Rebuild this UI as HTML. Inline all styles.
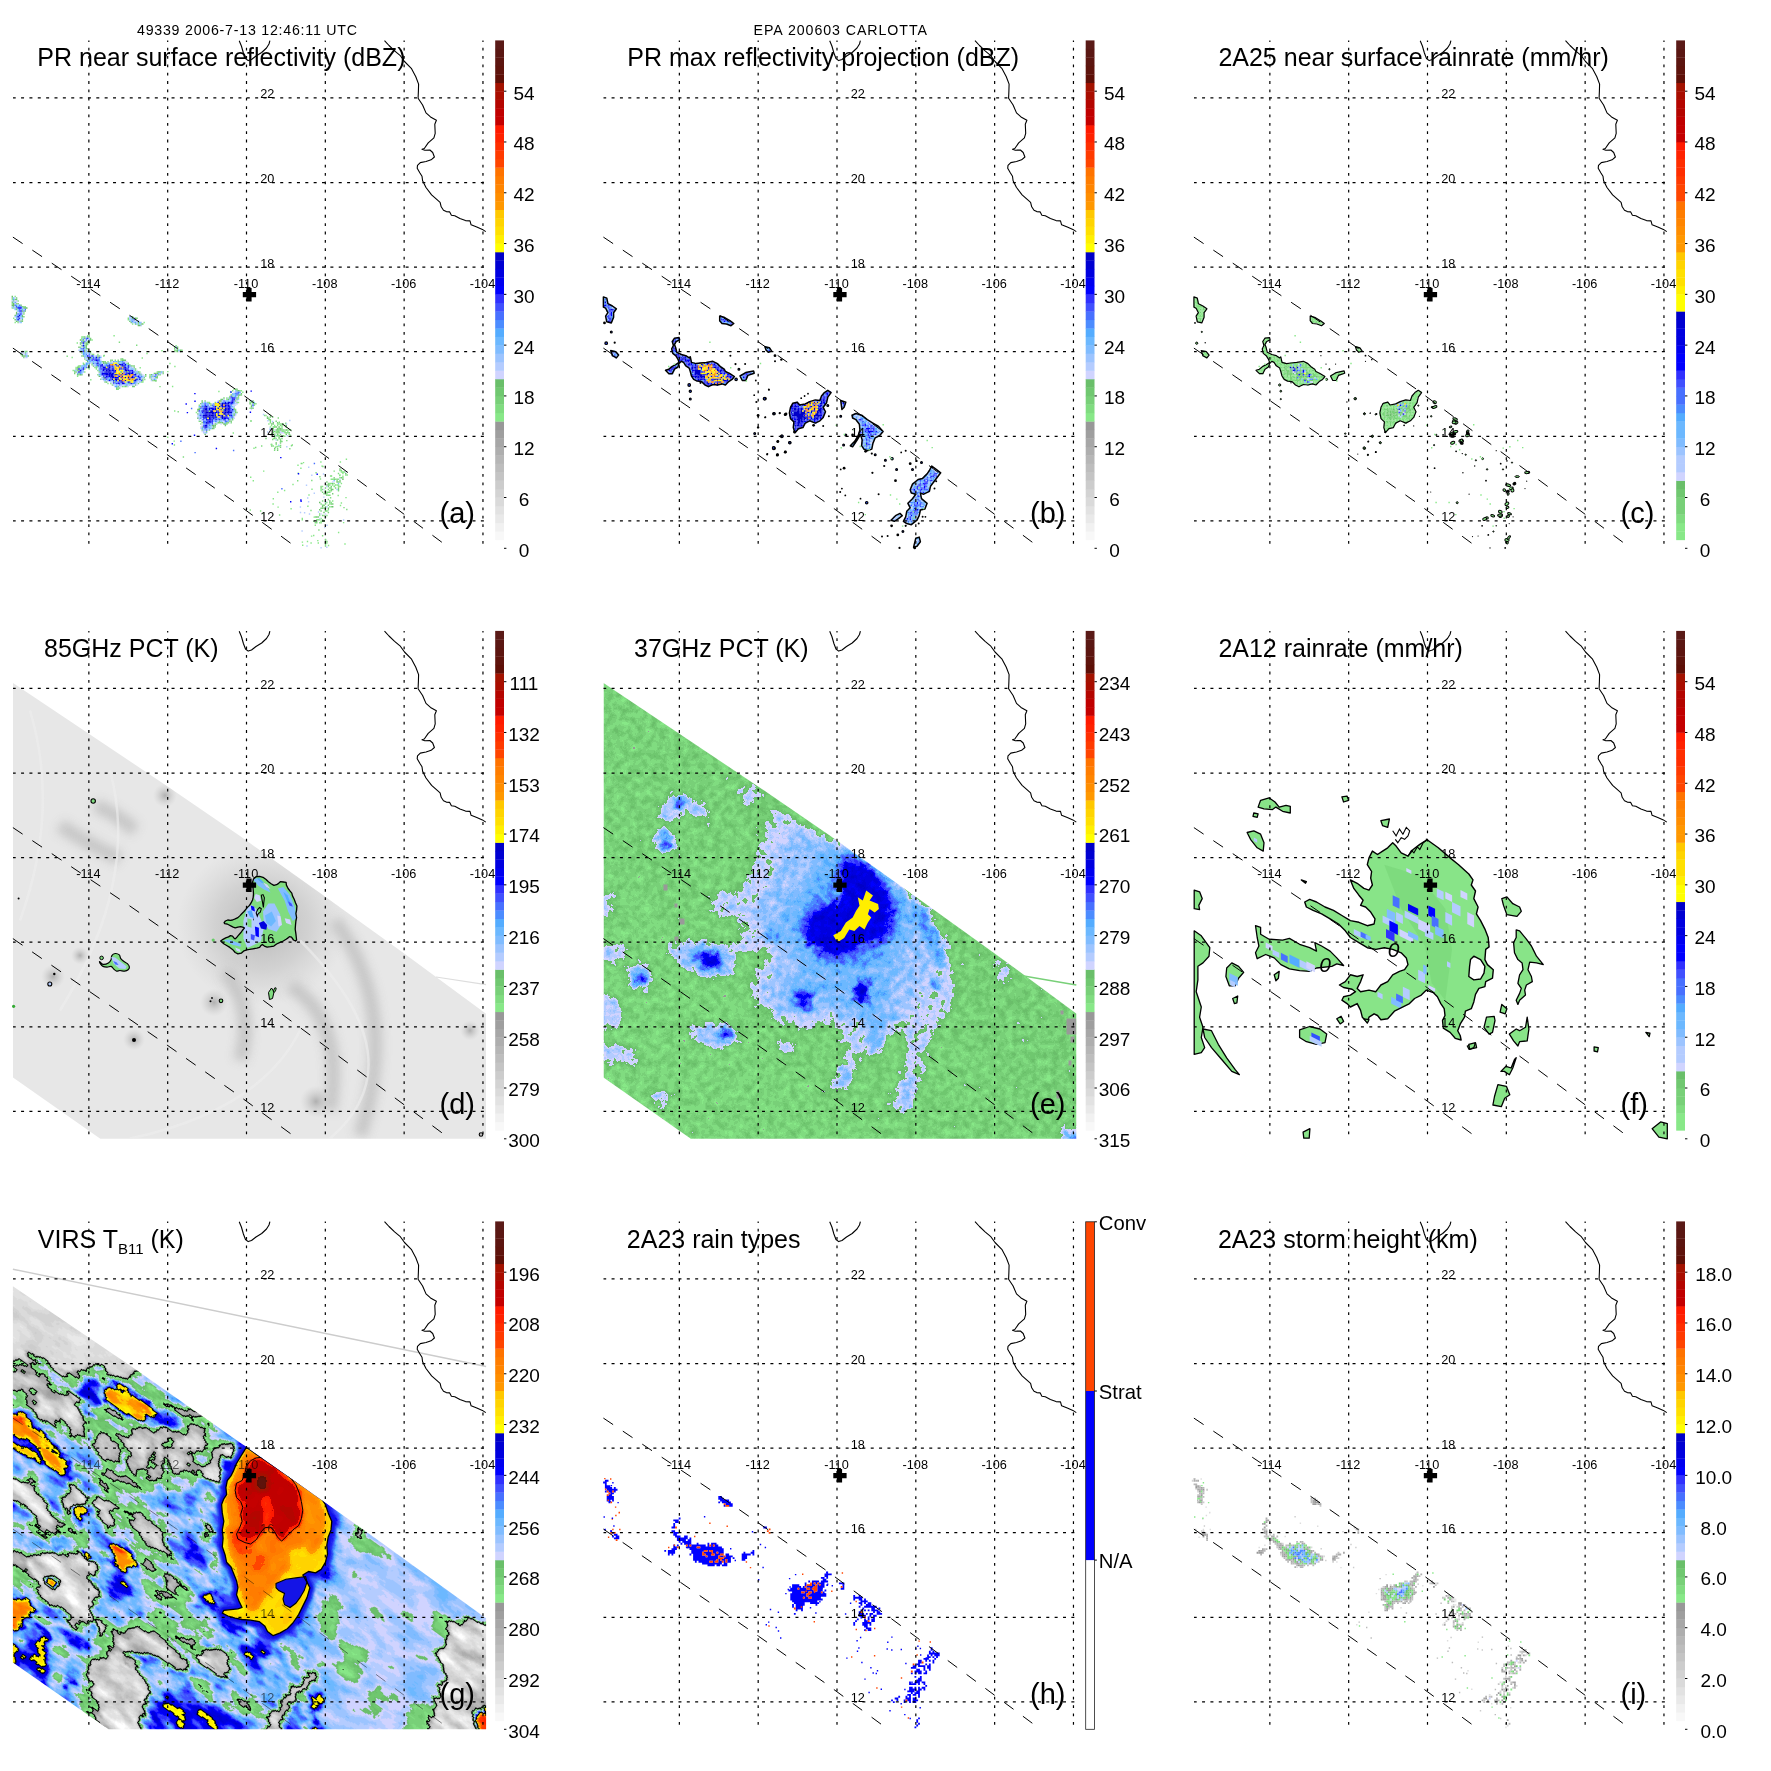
<!DOCTYPE html><html><head><meta charset="utf-8"><title>TRMM overpass</title><style>html,body{margin:0;padding:0;background:#fff}svg{display:block;opacity:0.999}text{font-family:"Liberation Sans",sans-serif;fill:#000}.tt{font-size:25px}.lt{font-size:29px}.tk{font-size:19px}.gl{font-size:12.7px}.hd{font-size:14.2px}</style></head><body><svg width="1771" height="1771" viewBox="0 0 1771 1771"><defs><g id="grid" fill="none" stroke="#000"><path d="M88.86 40.5V548.3M167.68 40.5V548.3M246.50 40.5V548.3M325.32 40.5V548.3M404.14 40.5V548.3M482.96 40.5V548.3" stroke-width="1.2" stroke-dasharray="2.8 5.56" stroke-dashoffset="1.2"/><path d="M13.0 97.94H486.0M13.0 182.52H486.0M13.0 267.10H486.0M13.0 351.68H486.0M13.0 436.26H486.0M13.0 520.84H486.0" stroke-width="1.25" stroke-dasharray="3.0 5.36" stroke-dashoffset="0.3"/></g><g id="coast" fill="none" stroke="#000" stroke-width="1.1" stroke-linejoin="round"><path d="M384.5 40.6L389 45.5L394.6 50.8L400 55.3L404.5 61.5L411.3 68.3L415.8 76.8L418.6 84.1L418.4 91L418.1 98.2L422.6 105L426 112.9L430.5 116.9L436.4 120.3L434.8 124.2L435.2 133.3L433.9 137.8L428.2 142.9L424.3 148.5L422 149.3L424.8 150.2L429.9 150L432.7 152.5L434.4 157L431.1 159.8L426 161.5L420.3 162.6L417.5 165.4L417.2 168.3L419.8 172.8L422 176.2L422.6 180.7L426 187.5L431.6 194.8L437.3 199.9L440.1 202.3L441.2 206.8L443.5 210.2L446.3 211.6L449.7 211.9L451.4 215.2L454.8 215.8L459.9 218.6L465.5 220.6L470 220.9L471.1 224.8L476.8 227.1L482.4 229.4L485.8 231.6"/><path d="M239.2 40.7L241.4 46L243.4 53L245.5 58.5L248.2 60.6L251.5 59.5L256 56L261.7 52.5L266.5 48L269 44L269.9 40.7"/></g><g id="swath" fill="none" stroke="#000" stroke-width="1" stroke-dasharray="11.7 11.7"><path d="M12.9 237.1L130 315.6L168 342L235.8 389.5L325.6 456L443.8 543.7"/><path d="M12.9 348.1L168 455.2L234.4 501.9L291.3 543.7"/></g><g id="labels"><text class="gl" text-anchor="middle" x="88.4" y="287.7">-114</text><text class="gl" text-anchor="middle" x="167.2" y="287.7">-112</text><text class="gl" text-anchor="middle" x="246.0" y="287.7">-110</text><text class="gl" text-anchor="middle" x="324.8" y="287.7">-108</text><text class="gl" text-anchor="middle" x="403.6" y="287.7">-106</text><text class="gl" text-anchor="middle" x="482.5" y="287.7">-104</text><text class="gl" x="260.2" y="98.3">22</text><text class="gl" x="260.2" y="182.9">20</text><text class="gl" x="260.2" y="267.5">18</text><text class="gl" x="260.2" y="352.1">16</text><text class="gl" x="260.2" y="436.7">14</text><text class="gl" x="260.2" y="521.2">12</text></g><path id="cross" d="M242.8 294.6h13.3M249 288v13.4" stroke="#000" stroke-width="5.2" fill="none"/></defs><rect width="1771" height="1771" fill="#fff"/><g transform="translate(0.0 0.0)"><path d="M87.0 335.7h1.4M81.2 337.1h2.9M81.2 340.0h1.4M91.4 340.0h1.4M87.0 341.5h1.4M88.5 342.9h1.4M79.8 344.4h1.4M79.8 347.3h1.4M81.2 353.1h1.4M89.9 353.1h1.4M97.2 354.5h1.4M98.6 356.0h1.4M103.0 356.0h1.4M84.1 358.9h1.4M120.4 360.3h1.4M107.3 361.8h1.4M82.7 363.2h1.4M91.4 363.2h1.4M126.2 363.2h1.4M129.1 364.7h1.4M132.0 366.1h1.4M75.4 367.6h1.4M95.7 367.6h1.4M88.5 369.0h1.4M95.7 369.0h1.4M72.5 370.5h1.4M134.9 370.5h1.4M84.1 371.9h1.4M139.2 371.9h1.4M140.7 374.8h1.4M76.9 376.3h1.4M145.0 376.3h1.4M140.7 382.1h2.9M107.3 383.5h1.4M123.3 386.4h1.4M117.5 387.9h1.4M233.4 389.3h1.4M240.7 390.8h1.4M230.5 392.2h1.4M242.1 392.2h1.4M229.1 396.6h1.4M232.0 396.6h1.4M237.8 396.6h1.4M226.2 398.0h1.4M226.2 399.5h1.4M208.8 402.4h1.4M237.8 402.4h1.4M210.2 403.8h1.4M198.6 405.3h1.4M195.7 412.5h1.4M200.1 424.1h1.4M216.0 424.1h1.4M214.6 427.0h1.4M265.3 415.4h1.4M268.2 424.1h1.4M276.9 424.1h4.3M274.0 425.6h1.4M281.3 425.6h1.4M269.7 427.0h1.4M281.3 427.0h1.4M284.2 429.9h1.4M288.5 429.9h1.4M272.6 431.4h1.4M275.5 431.4h1.4M281.3 431.4h2.9M287.1 431.4h1.4M276.9 432.8h1.4M284.2 432.8h2.9M282.7 435.7h1.4M274.0 437.2h1.4M272.6 438.6h1.4M275.5 438.6h1.4M275.5 444.4h1.4M272.6 445.9h1.4M278.4 445.9h1.4M340.7 472.0h4.3M342.2 473.4h1.4M339.3 474.9h1.4M345.1 474.9h1.4M342.2 476.3h1.4M330.6 479.2h2.9M334.9 479.2h1.4M337.8 479.2h1.4M329.1 483.6h2.9M333.5 483.6h1.4M340.7 483.6h1.4M332.0 485.0h1.4M336.4 485.0h2.9M321.9 486.5h1.4M333.5 486.5h1.4M337.8 486.5h1.4M320.4 489.4h1.4M320.4 490.8h1.4M324.8 490.8h1.4M329.1 490.8h1.4M324.8 492.3h1.4M332.0 501.0h1.4M326.2 502.4h1.4M330.6 502.4h1.4M329.1 503.9h1.4M324.8 506.8h1.4M329.1 506.8h1.4M323.3 508.2h1.4M319.0 515.5h1.4M326.2 515.5h1.4M320.4 518.4h1.4M316.1 519.8h4.3M319.0 522.7h1.4M301.6 518.4h1.4M301.6 519.8h1.4M127.6 319.7h1.4M143.5 322.6h1.4M131.9 324.1h1.4M175.4 345.8h1.4M174.0 347.3h1.4M174.0 350.2h1.4M175.4 351.6h1.4M149.3 374.8h1.4M249.4 400.9h1.4M250.8 402.4h1.4M253.7 405.3h1.4M249.4 408.2h1.4M14.5 296.5h1.4M11.6 299.4h1.4M11.6 303.8h1.4M24.6 306.7h1.4M11.6 308.1h1.4M23.2 312.5h1.4M13.0 318.3h1.4M14.5 322.6h1.4M24.6 351.6h1.4M326.2 543.0h1.4" stroke="#88e888" stroke-width="1.50" fill="none"/><path d="M88.5 335.7h1.4M81.2 338.6h1.4M87.0 344.4h1.4M82.7 347.3h1.4M87.0 348.7h1.4M89.9 351.6h1.4M91.4 354.5h2.9M121.8 358.9h1.4M85.6 360.3h1.4M111.7 360.3h1.4M114.6 360.3h1.4M110.2 361.8h1.4M91.4 364.7h1.4M78.3 366.1h2.9M87.0 367.6h1.4M94.3 367.6h1.4M84.1 369.0h1.4M76.9 370.5h1.4M97.2 370.5h1.4M74.0 371.9h1.4M78.3 374.8h1.4M97.2 374.8h1.4M100.1 379.2h1.4M110.2 383.5h1.4M111.7 385.0h1.4M121.8 386.4h1.4M126.2 386.4h1.4M116.0 389.3h2.9M232.0 390.8h1.4M240.7 395.1h1.4M214.6 402.4h1.4M234.9 409.6h1.4M198.6 421.2h2.9M229.1 421.2h1.4M227.6 422.7h1.4M230.5 422.7h1.4M263.9 415.4h1.4M269.7 415.4h1.4M268.2 418.3h1.4M268.2 419.8h2.9M269.7 421.2h1.4M269.7 422.7h1.4M272.6 424.1h1.4M282.7 424.1h1.4M276.9 425.6h1.4M279.8 425.6h1.4M272.6 427.0h2.9M271.1 428.5h1.4M281.3 428.5h1.4M272.6 429.9h1.4M282.7 429.9h1.4M287.1 429.9h1.4M290.0 429.9h1.4M276.9 431.4h2.9M284.2 431.4h1.4M275.5 432.8h1.4M287.1 432.8h1.4M275.5 435.7h1.4M281.3 435.7h1.4M278.4 437.2h1.4M278.4 438.6h1.4M276.9 440.1h1.4M279.8 441.5h2.9M271.1 444.4h1.4M261.0 445.9h1.4M276.9 448.8h1.4M339.3 470.5h1.4M337.8 473.4h1.4M346.5 474.9h1.4M333.5 477.8h1.4M339.3 477.8h1.4M342.2 477.8h1.4M336.4 480.7h1.4M337.8 482.1h1.4M327.7 483.6h1.4M329.1 485.0h1.4M334.9 485.0h1.4M329.1 487.9h2.9M321.9 489.4h1.4M330.6 490.8h1.4M337.8 490.8h1.4M326.2 492.3h4.3M323.3 493.7h1.4M326.2 493.7h1.4M327.7 495.2h2.9M321.9 501.0h1.4M320.4 503.9h1.4M321.9 505.3h1.4M330.6 506.8h1.4M327.7 509.7h1.4M324.8 511.1h2.9M319.0 514.0h1.4M323.3 515.5h1.4M314.6 516.9h1.4M324.8 516.9h1.4M316.1 521.3h1.4M320.4 521.3h1.4M314.6 522.7h2.9M320.4 522.7h1.4M127.6 318.3h1.4M137.7 324.1h1.4M156.6 371.9h1.4M159.5 374.8h1.4M152.2 376.3h1.4M150.8 379.2h1.4M255.2 403.8h1.4M250.8 405.3h1.4M17.4 300.9h1.4M15.9 303.8h1.4M13.0 306.7h1.4M21.7 306.7h1.4M17.4 321.2h1.4M17.4 322.6h1.4M20.3 354.5h1.4M324.8 544.5h1.4" stroke="#80dc80" stroke-width="1.50" fill="none"/><path d="M84.1 337.1h1.4M88.5 337.1h1.4M88.5 341.5h1.4M84.1 342.9h1.4M87.0 342.9h1.4M81.2 345.8h1.4M84.1 345.8h1.4M85.6 348.7h1.4M82.7 356.0h1.4M97.2 356.0h1.4M110.2 360.3h1.4M121.8 360.3h4.3M101.5 361.8h1.4M104.4 361.8h1.4M127.6 363.2h1.4M88.5 364.7h1.4M92.8 366.1h1.4M130.5 366.1h1.4M133.4 366.1h1.4M75.4 371.9h1.4M98.6 371.9h1.4M139.2 373.4h1.4M76.9 374.8h1.4M81.2 374.8h1.4M103.0 377.7h1.4M104.4 379.2h1.4M142.1 380.6h1.4M129.1 383.5h1.4M134.9 385.0h1.4M132.0 386.4h2.9M236.3 389.3h1.4M237.8 390.8h1.4M240.7 393.7h1.4M230.5 395.1h1.4M220.4 399.5h2.9M236.3 399.5h1.4M201.5 400.9h1.4M234.9 400.9h1.4M236.3 402.4h1.4M208.8 403.8h1.4M197.2 411.1h1.4M234.9 412.5h1.4M232.0 418.3h1.4M214.6 425.6h1.4M224.7 425.6h1.4M213.1 428.5h1.4M201.5 429.9h1.4M269.7 416.9h1.4M266.8 418.3h1.4M281.3 424.1h1.4M285.6 425.6h1.4M278.4 428.5h2.9M281.3 429.9h1.4M274.0 431.4h1.4M288.5 432.8h1.4M276.9 434.3h1.4M285.6 434.3h1.4M271.1 445.9h1.4M274.0 448.8h1.4M276.9 450.2h1.4M339.3 469.1h1.4M340.7 477.8h1.4M333.5 479.2h1.4M326.2 482.1h1.4M339.3 482.1h1.4M332.0 483.6h1.4M326.2 485.0h1.4M327.7 486.5h1.4M324.8 487.9h1.4M330.6 489.4h2.9M329.1 501.0h1.4M320.4 508.2h1.4M319.0 509.7h1.4M317.5 516.9h1.4M136.3 318.3h1.4M130.5 322.6h1.4M137.7 322.6h1.4M134.8 324.1h1.4M140.6 324.1h2.9M176.9 348.7h1.4M179.8 350.2h1.4M179.8 351.6h1.4M158.0 371.9h2.9M162.4 371.9h1.4M153.7 373.4h2.9M150.8 374.8h1.4M152.2 380.6h1.4M155.1 380.6h1.4M252.3 402.4h1.4M252.3 408.2h1.4M15.9 299.4h1.4M17.4 303.8h1.4M15.9 308.1h1.4M24.6 311.0h1.4M21.7 315.4h1.4M14.5 319.7h1.4M21.7 319.7h1.4M26.1 351.6h1.4M24.6 353.1h1.4M21.7 354.5h1.4M21.7 356.0h4.3M326.2 541.6h1.4M324.8 543.0h1.4" stroke="#70c870" stroke-width="1.50" fill="none"/><path d="M85.6 337.1h1.4M88.5 338.6h1.4M85.6 341.5h1.4M84.1 344.4h1.4M81.2 347.3h1.4M78.3 350.2h2.9M85.6 358.9h1.4M100.1 360.3h1.4M101.5 363.2h1.4M82.7 364.7h1.4M92.8 364.7h2.9M94.3 366.1h1.4M79.8 367.6h1.4M129.1 369.0h1.4M74.0 370.5h1.4M98.6 373.4h1.4M137.8 374.8h1.4M143.5 376.3h1.4M140.7 379.2h1.4M139.2 380.6h1.4M111.7 382.1h1.4M136.3 383.5h1.4M123.3 385.0h1.4M127.6 385.0h1.4M236.3 396.6h1.4M227.6 398.0h1.4M223.3 399.5h1.4M217.5 400.9h1.4M236.3 400.9h1.4M205.9 402.4h1.4M234.9 403.8h2.9M233.4 405.3h1.4M233.4 412.5h1.4M197.2 416.9h2.9M227.6 416.9h1.4M201.5 418.3h1.4M233.4 418.3h1.4M198.6 419.8h1.4M230.5 419.8h1.4M221.8 421.2h1.4M214.6 422.7h2.9M223.3 422.7h1.4M213.1 424.1h1.4M211.7 427.0h1.4M203.0 428.5h1.4M207.3 429.9h1.4M203.0 431.4h1.4M203.0 432.8h1.4M275.5 440.1h1.4M326.2 486.5h1.4M326.2 506.8h1.4M308.8 514.0h1.4M129.1 318.3h1.4M133.4 321.2h1.4M140.6 322.6h1.4M140.6 325.5h1.4M156.6 374.8h1.4M152.2 379.2h1.4M150.8 380.6h1.4M11.6 300.9h1.4M15.9 300.9h1.4M14.5 303.8h1.4M21.7 312.5h1.4M20.3 318.3h1.4M20.3 319.7h1.4M23.2 351.6h1.4M20.3 353.1h2.9M26.1 354.5h1.4M26.1 357.4h1.4" stroke="#b4ccff" stroke-width="1.50" fill="none"/><path d="M87.0 337.1h1.4M84.1 338.6h1.4M79.8 340.0h1.4M82.7 341.5h1.4M79.8 342.9h2.9M78.3 347.3h1.4M84.1 350.2h1.4M79.8 351.6h1.4M84.1 351.6h1.4M87.0 351.6h2.9M87.0 357.4h1.4M97.2 357.4h1.4M87.0 361.8h1.4M117.5 361.8h1.4M76.9 369.0h1.4M78.3 370.5h1.4M137.8 371.9h1.4M78.3 373.4h1.4M136.3 373.4h1.4M79.8 374.8h1.4M145.0 374.8h1.4M98.6 376.3h1.4M105.9 382.1h1.4M117.5 386.4h1.4M116.0 387.9h1.4M234.9 389.3h1.4M236.3 390.8h1.4M237.8 395.1h2.9M229.1 398.0h1.4M236.3 398.0h1.4M227.6 399.5h1.4M218.9 400.9h2.9M200.1 403.8h1.4M210.2 405.3h1.4M200.1 406.7h1.4M197.2 409.6h2.9M233.4 409.6h1.4M234.9 411.1h1.4M197.2 414.0h1.4M233.4 414.0h1.4M233.4 415.4h1.4M197.2 418.3h1.4M229.1 419.8h1.4M221.8 422.7h1.4M226.2 422.7h1.4M223.3 424.1h2.9M211.7 425.6h2.9M201.5 427.0h1.4M213.1 427.0h1.4M211.7 428.5h1.4M204.4 434.3h1.4M272.6 422.7h1.4M271.1 424.1h1.4M275.5 427.0h1.4M278.4 427.0h1.4M285.6 427.0h1.4M279.8 429.9h1.4M285.6 429.9h1.4M278.4 432.8h1.4M278.4 435.7h1.4M275.5 443.0h1.4M345.1 473.4h1.4M342.2 479.2h1.4M336.4 482.1h1.4M327.7 485.0h1.4M324.8 493.7h1.4M319.0 502.4h1.4M323.3 505.3h1.4M321.9 506.8h1.4M332.0 506.8h1.4M324.8 508.2h1.4M327.7 508.2h1.4M323.3 512.6h1.4M316.1 516.9h1.4M321.9 521.3h2.9M131.9 318.3h1.4M134.8 318.3h1.4M134.8 319.7h1.4M137.7 325.5h2.9M176.9 347.3h1.4M176.9 350.2h1.4M176.9 351.6h1.4M156.6 373.4h1.4M252.3 400.9h1.4M249.4 403.8h1.4M250.8 406.7h1.4M11.6 296.5h1.4M14.5 299.4h1.4M13.0 303.8h1.4M11.6 305.2h2.9M20.3 305.2h1.4M23.2 308.1h4.3M21.7 311.0h1.4M15.9 312.5h1.4M15.9 313.9h1.4M14.5 315.4h1.4M21.7 316.8h1.4M15.9 321.2h1.4M20.3 321.2h1.4M27.5 356.0h1.4M324.8 540.1h1.4" stroke="#6abf6a" stroke-width="1.50" fill="none"/><path d="M82.7 338.6h1.4M82.7 344.4h1.4M79.8 348.7h1.4M84.1 356.0h2.9M84.1 357.4h1.4M91.4 357.4h1.4M89.9 360.3h1.4M92.8 360.3h1.4M91.4 361.8h1.4M94.3 361.8h1.4M114.6 361.8h1.4M123.3 361.8h1.4M94.3 363.2h1.4M108.8 363.2h4.3M118.9 363.2h1.4M124.7 363.2h1.4M87.0 364.7h1.4M85.6 366.1h1.4M98.6 367.6h1.4M129.1 367.6h1.4M79.8 369.0h1.4M133.4 369.0h1.4M75.4 370.5h1.4M134.9 371.9h1.4M81.2 373.4h1.4M137.8 373.4h1.4M100.1 376.3h1.4M142.1 376.3h1.4M101.5 377.7h1.4M140.7 377.7h1.4M111.7 380.6h1.4M136.3 382.1h1.4M120.4 383.5h1.4M126.2 383.5h1.4M134.9 383.5h1.4M120.4 385.0h1.4M124.7 385.0h1.4M129.1 385.0h1.4M232.0 393.7h1.4M233.4 395.1h1.4M229.1 399.5h1.4M224.7 400.9h1.4M220.4 402.4h1.4M203.0 403.8h1.4M205.9 403.8h1.4M233.4 403.8h1.4M211.7 406.7h1.4M198.6 414.0h1.4M232.0 414.0h1.4M234.9 414.0h1.4M230.5 418.3h1.4M227.6 421.2h1.4M203.0 424.1h1.4M210.2 427.0h1.4M207.3 428.5h1.4M203.0 429.9h2.9M205.9 432.8h1.4M333.5 480.7h1.4M337.8 483.6h1.4M129.1 316.8h1.4M130.5 318.3h1.4M130.5 319.7h1.4M130.5 321.2h1.4M133.4 322.6h1.4M175.4 347.3h1.4M152.2 374.8h1.4M150.8 376.3h1.4M253.7 402.4h1.4M252.3 403.8h1.4M13.0 308.1h1.4M21.7 308.1h1.4M14.5 309.6h1.4M18.8 312.5h1.4M15.9 315.4h2.9M15.9 316.8h1.4M18.8 316.8h1.4M15.9 318.3h1.4M15.9 319.7h1.4M18.8 319.7h1.4M24.6 354.5h1.4" stroke="#80bcff" stroke-width="1.50" fill="none"/><path d="M85.6 338.6h1.4M85.6 340.0h1.4M81.2 341.5h1.4M84.1 347.3h1.4M84.1 353.1h1.4M85.6 354.5h1.4M92.8 356.0h1.4M88.5 358.9h1.4M97.2 358.9h2.9M87.0 360.3h1.4M98.6 360.3h1.4M113.1 361.8h1.4M121.8 361.8h1.4M88.5 363.2h1.4M104.4 363.2h1.4M107.3 363.2h1.4M98.6 364.7h1.4M105.9 364.7h1.4M84.1 366.1h1.4M95.7 366.1h1.4M104.4 366.1h2.9M129.1 366.1h1.4M81.2 369.0h1.4M98.6 369.0h1.4M81.2 370.5h1.4M111.7 371.9h1.4M124.7 371.9h1.4M134.9 373.4h1.4M117.5 374.8h1.4M139.2 374.8h1.4M104.4 376.3h1.4M133.4 376.3h1.4M140.7 376.3h1.4M103.0 379.2h1.4M108.8 379.2h1.4M107.3 380.6h1.4M136.3 380.6h1.4M133.4 382.1h2.9M132.0 383.5h2.9M118.9 385.0h1.4M126.2 385.0h1.4M236.3 392.2h1.4M239.2 392.2h1.4M234.9 393.7h1.4M237.8 393.7h1.4M221.8 402.4h2.9M226.2 402.4h1.4M229.1 403.8h1.4M203.0 406.7h1.4M201.5 408.2h1.4M207.3 408.2h1.4M230.5 409.6h1.4M200.1 418.3h1.4M216.0 418.3h1.4M220.4 418.3h1.4M201.5 419.8h1.4M213.1 419.8h1.4M217.5 419.8h1.4M205.9 421.2h1.4M214.6 421.2h1.4M204.4 424.1h1.4M208.8 425.6h1.4M131.9 321.2h1.4M137.7 321.2h1.4M153.7 376.3h2.9M14.5 302.3h1.4M18.8 305.2h1.4M20.3 312.5h1.4M17.4 318.3h1.4" stroke="#4c8cff" stroke-width="1.50" fill="none"/><path d="M87.0 338.6h1.4M82.7 351.6h1.4M92.8 358.9h1.4M91.4 360.3h1.4M94.3 360.3h1.4M97.2 361.8h1.4M114.6 364.7h1.4M110.2 366.1h1.4M107.3 367.6h1.4M120.4 367.6h1.4M127.6 367.6h1.4M100.1 369.0h2.9M129.1 370.5h2.9M101.5 371.9h1.4M123.3 371.9h1.4M117.5 376.3h1.4M107.3 377.7h1.4M105.9 379.2h1.4M117.5 382.1h1.4M116.0 383.5h1.4M118.9 383.5h1.4M232.0 399.5h1.4M230.5 400.9h1.4M229.1 405.3h1.4M226.2 406.7h1.4M213.1 408.2h1.4M198.6 411.1h1.4M230.5 411.1h1.4M200.1 415.4h1.4M220.4 415.4h1.4M224.7 416.9h1.4M205.9 418.3h1.4M226.2 418.3h2.9M211.7 419.8h1.4M216.0 419.8h1.4M218.9 419.8h1.4M211.7 421.2h1.4M208.8 422.7h2.9M207.3 424.1h1.4M18.8 318.3h1.4" stroke="#3030ff" stroke-width="1.50" fill="none"/><path d="M89.9 338.6h1.4M89.9 340.0h1.4M85.6 342.9h1.4M85.6 344.4h1.4M85.6 345.8h1.4M85.6 347.3h1.4M81.2 356.0h1.4M120.4 358.9h1.4M117.5 360.3h1.4M103.0 361.8h1.4M103.0 363.2h1.4M105.9 363.2h1.4M127.6 364.7h1.4M88.5 366.1h1.4M76.9 367.6h2.9M133.4 367.6h1.4M75.4 369.0h1.4M134.9 369.0h1.4M74.0 373.4h1.4M143.5 377.7h1.4M142.1 379.2h1.4M104.4 382.1h1.4M137.8 383.5h1.4M124.7 386.4h1.4M118.9 387.9h1.4M239.2 390.8h1.4M223.3 398.0h1.4M237.8 398.0h1.4M204.4 400.9h1.4M201.5 402.4h1.4M207.3 402.4h1.4M198.6 408.2h1.4M233.4 408.2h1.4M236.3 412.5h1.4M232.0 419.8h1.4M218.9 421.2h1.4M230.5 421.2h1.4M201.5 422.7h1.4M217.5 422.7h4.3M214.6 424.1h1.4M226.2 424.1h1.4M208.8 429.9h1.4M205.9 431.4h1.4M266.8 416.9h1.4M275.5 421.2h1.4M276.9 422.7h1.4M284.2 425.6h1.4M272.6 428.5h1.4M276.9 428.5h1.4M275.5 429.9h4.3M272.6 432.8h1.4M274.0 434.3h1.4M279.8 434.3h1.4M288.5 434.3h1.4M274.0 435.7h1.4M276.9 435.7h1.4M265.3 438.6h1.4M274.0 438.6h1.4M281.3 438.6h1.4M279.8 443.0h1.4M279.8 447.3h1.4M340.7 470.5h1.4M336.4 479.2h1.4M339.3 480.7h1.4M320.4 486.5h1.4M330.6 486.5h1.4M339.3 486.5h1.4M320.4 487.9h1.4M334.9 487.9h1.4M337.8 487.9h1.4M327.7 489.4h1.4M337.8 489.4h1.4M321.9 492.3h1.4M332.0 493.7h1.4M326.2 495.2h1.4M327.7 499.5h1.4M324.8 502.4h1.4M329.1 502.4h1.4M324.8 503.9h1.4M330.6 503.9h2.9M327.7 505.3h1.4M321.9 508.2h1.4M320.4 511.1h1.4M327.7 512.6h1.4M321.9 515.5h1.4M321.9 519.8h1.4M313.2 521.3h1.4M131.9 316.8h1.4M129.1 321.2h1.4M174.0 348.7h1.4M175.4 350.2h1.4M181.2 350.2h1.4M162.4 373.4h1.4M158.0 374.8h1.4M149.3 376.3h1.4M156.6 376.3h1.4M149.3 377.7h1.4M155.1 377.7h2.9M153.7 380.6h1.4M249.4 402.4h1.4M253.7 403.8h1.4M250.8 408.2h1.4M11.6 298.0h1.4M15.9 298.0h1.4M13.0 300.9h1.4M11.6 302.3h1.4M23.2 306.7h1.4M15.9 309.6h1.4M23.2 313.9h1.4M23.2 316.8h1.4M21.7 321.2h1.4M21.7 351.6h1.4M23.2 357.4h1.4M324.8 545.9h1.4" stroke="#78d078" stroke-width="1.50" fill="none"/><path d="M82.7 340.0h1.4M82.7 348.7h1.4M88.5 356.0h1.4M88.5 357.4h1.4M92.8 357.4h1.4M98.6 357.4h1.4M91.4 358.9h1.4M94.3 358.9h2.9M97.2 364.7h1.4M108.8 364.7h1.4M116.0 364.7h1.4M103.0 366.1h1.4M113.1 366.1h1.4M116.0 366.1h1.4M124.7 366.1h1.4M82.7 367.6h1.4M100.1 367.6h1.4M110.2 367.6h1.4M121.8 369.0h1.4M127.6 369.0h1.4M101.5 370.5h1.4M130.5 371.9h1.4M133.4 371.9h1.4M103.0 374.8h1.4M113.1 374.8h1.4M123.3 374.8h1.4M103.0 376.3h1.4M136.3 376.3h1.4M105.9 377.7h1.4M110.2 379.2h1.4M134.9 379.2h1.4M140.7 380.6h1.4M114.6 382.1h1.4M123.3 382.1h1.4M113.1 383.5h1.4M236.3 393.7h1.4M230.5 396.6h1.4M230.5 398.0h1.4M223.3 400.9h1.4M233.4 400.9h1.4M204.4 403.8h1.4M201.5 406.7h1.4M213.1 406.7h1.4M200.1 408.2h1.4M203.0 408.2h1.4M203.0 409.6h1.4M232.0 411.1h1.4M226.2 414.0h1.4M229.1 414.0h1.4M224.7 415.4h1.4M201.5 416.9h1.4M203.0 418.3h2.9M203.0 419.8h1.4M214.6 419.8h1.4M227.6 419.8h1.4M211.7 422.7h1.4M205.9 424.1h1.4M211.7 424.1h1.4M204.4 428.5h1.4M205.9 429.9h1.4M133.4 319.7h1.4M155.1 374.8h1.4M252.3 405.3h1.4M15.9 306.7h1.4M18.8 311.0h1.4" stroke="#4050ff" stroke-width="1.50" fill="none"/><path d="M84.1 340.0h1.4M87.0 340.0h1.4M81.2 344.4h1.4M81.2 351.6h1.4M87.0 354.5h1.4M89.9 354.5h1.4M94.3 356.0h1.4M100.1 356.0h1.4M111.7 361.8h1.4M124.7 361.8h2.9M89.9 363.2h1.4M103.0 364.7h1.4M87.0 366.1h1.4M132.0 367.6h1.4M136.3 370.5h1.4M140.7 373.4h1.4M142.1 374.8h1.4M101.5 376.3h1.4M143.5 379.2h1.4M103.0 380.6h1.4M105.9 380.6h1.4M137.8 382.1h1.4M111.7 383.5h1.4M114.6 385.0h1.4M121.8 385.0h1.4M130.5 385.0h1.4M133.4 385.0h1.4M136.3 385.0h1.4M118.9 386.4h2.9M127.6 386.4h1.4M233.4 392.2h1.4M203.0 402.4h1.4M216.0 402.4h1.4M234.9 402.4h1.4M211.7 403.8h1.4M200.1 405.3h1.4M208.8 405.3h1.4M232.0 405.3h1.4M234.9 405.3h1.4M197.2 415.4h1.4M234.9 415.4h1.4M233.4 416.9h1.4M200.1 419.8h1.4M201.5 421.2h1.4M223.3 421.2h1.4M213.1 422.7h1.4M229.1 422.7h1.4M201.5 424.1h1.4M220.4 424.1h1.4M201.5 425.6h1.4M200.1 427.0h1.4M200.1 428.5h1.4M201.5 431.4h1.4M204.4 431.4h1.4M274.0 429.9h1.4M279.8 431.4h1.4M279.8 432.8h4.3M345.1 472.0h1.4M339.3 479.2h1.4M332.0 482.1h1.4M323.3 489.4h1.4M320.4 514.0h1.4M324.8 514.0h1.4M319.0 518.4h1.4M134.8 321.2h1.4M175.4 348.7h1.4M178.3 351.6h1.4M160.9 373.4h1.4M153.7 374.8h1.4M152.2 377.7h2.9M250.8 409.6h1.4M14.5 298.0h1.4M14.5 300.9h1.4M15.9 302.3h1.4M17.4 312.5h1.4M18.8 322.6h1.4M23.2 353.1h1.4M23.2 354.5h1.4M24.6 357.4h1.4" stroke="#d0d4ff" stroke-width="1.50" fill="none"/><path d="M88.5 340.0h1.4M82.7 353.1h1.4M88.5 353.1h1.4M82.7 354.5h1.4M94.3 357.4h1.4M100.1 357.4h1.4M89.9 358.9h1.4M88.5 360.3h1.4M98.6 361.8h1.4M85.6 363.2h1.4M117.5 363.2h1.4M120.4 363.2h1.4M85.6 364.7h1.4M95.7 364.7h1.4M107.3 364.7h1.4M98.6 366.1h1.4M120.4 366.1h1.4M126.2 366.1h1.4M81.2 367.6h1.4M130.5 369.0h1.4M100.1 370.5h1.4M118.9 370.5h1.4M81.2 371.9h1.4M103.0 371.9h1.4M136.3 371.9h1.4M79.8 373.4h1.4M100.1 374.8h1.4M139.2 376.3h1.4M108.8 377.7h1.4M107.3 379.2h1.4M116.0 382.1h1.4M114.6 383.5h1.4M127.6 383.5h1.4M114.6 386.4h2.9M234.9 395.1h1.4M234.9 396.6h1.4M230.5 399.5h1.4M226.2 400.9h1.4M204.4 402.4h1.4M233.4 402.4h1.4M207.3 403.8h1.4M201.5 405.3h1.4M205.9 405.3h1.4M230.5 405.3h1.4M201.5 409.6h1.4M210.2 409.6h1.4M200.1 411.1h1.4M233.4 411.1h1.4M201.5 414.0h1.4M232.0 415.4h1.4M200.1 416.9h1.4M218.9 418.3h1.4M216.0 421.2h1.4M207.3 425.6h1.4M210.2 425.6h1.4M201.5 428.5h1.4M134.8 322.6h1.4M139.2 322.6h1.4M153.7 379.2h1.4M13.0 299.4h1.4M15.9 305.2h1.4M17.4 306.7h2.9M20.3 309.6h1.4M17.4 311.0h1.4M18.8 313.9h1.4M20.3 315.4h1.4M26.1 356.0h1.4" stroke="#54acff" stroke-width="1.50" fill="none"/><path d="M84.1 341.5h1.4M81.2 348.7h1.4M82.7 350.2h1.4M88.5 354.5h1.4M92.8 363.2h1.4M95.7 363.2h1.4M121.8 363.2h1.4M100.1 364.7h1.4M123.3 364.7h1.4M85.6 367.6h1.4M101.5 367.6h1.4M111.7 367.6h2.9M126.2 367.6h1.4M110.2 369.0h1.4M104.4 370.5h1.4M79.8 371.9h1.4M100.1 371.9h1.4M127.6 371.9h1.4M124.7 373.4h1.4M134.9 376.3h1.4M137.8 377.7h1.4M110.2 380.6h1.4M114.6 380.6h1.4M118.9 382.1h1.4M237.8 392.2h1.4M236.3 395.1h1.4M234.9 398.0h1.4M220.4 403.8h1.4M232.0 403.8h1.4M207.3 405.3h1.4M211.7 405.3h1.4M207.3 406.7h1.4M220.4 406.7h1.4M230.5 408.2h1.4M207.3 409.6h1.4M203.0 412.5h1.4M218.9 412.5h1.4M200.1 414.0h1.4M203.0 414.0h1.4M230.5 414.0h1.4M201.5 415.4h1.4M230.5 416.9h2.9M211.7 418.3h1.4M214.6 418.3h1.4M217.5 418.3h1.4M220.4 419.8h1.4M224.7 419.8h1.4M203.0 421.2h2.9M224.7 421.2h2.9M203.0 422.7h2.9M208.8 424.1h1.4M203.0 425.6h1.4M203.0 427.0h1.4M207.3 427.0h1.4M14.5 305.2h1.4M20.3 306.7h1.4M18.8 309.6h1.4M24.6 309.6h1.4M23.2 311.0h1.4M17.4 313.9h1.4" stroke="#4870ff" stroke-width="1.50" fill="none"/><path d="M82.7 342.9h1.4M82.7 345.8h1.4M97.2 360.3h1.4M97.2 366.1h1.4M111.7 366.1h1.4M121.8 366.1h1.4M127.6 366.1h1.4M124.7 367.6h1.4M78.3 369.0h1.4M79.8 370.5h1.4M110.2 370.5h1.4M127.6 370.5h1.4M132.0 370.5h1.4M113.1 371.9h2.9M121.8 373.4h1.4M126.2 373.4h1.4M124.7 374.8h1.4M129.1 374.8h1.4M107.3 376.3h1.4M132.0 376.3h1.4M137.8 376.3h1.4M133.4 377.7h1.4M139.2 377.7h1.4M121.8 379.2h1.4M108.8 380.6h1.4M117.5 383.5h1.4M232.0 398.0h1.4M230.5 402.4h1.4M226.2 403.8h1.4M230.5 403.8h1.4M204.4 405.3h1.4M224.7 406.7h1.4M227.6 406.7h1.4M229.1 409.6h1.4M232.0 409.6h1.4M207.3 411.1h1.4M217.5 411.1h1.4M201.5 412.5h1.4M221.8 412.5h1.4M210.2 414.0h1.4M214.6 415.4h1.4M217.5 415.4h2.9M229.1 415.4h1.4M226.2 416.9h1.4M210.2 418.3h1.4M205.9 419.8h1.4M223.3 419.8h1.4M208.8 421.2h1.4M17.4 308.1h4.3M20.3 313.9h1.4M18.8 315.4h1.4" stroke="#0000ff" stroke-width="1.50" fill="none"/><path d="M84.1 348.7h1.4M81.2 350.2h1.4M85.6 353.1h1.4M84.1 354.5h1.4M88.5 361.8h2.9M92.8 361.8h1.4M95.7 361.8h1.4M100.1 361.8h1.4M116.0 361.8h1.4M118.9 361.8h2.9M87.0 363.2h1.4M98.6 363.2h2.9M84.1 364.7h1.4M104.4 364.7h1.4M126.2 364.7h1.4M81.2 366.1h2.9M84.1 367.6h1.4M132.0 369.0h1.4M98.6 370.5h1.4M123.3 370.5h1.4M76.9 373.4h1.4M100.1 373.4h1.4M98.6 374.8h1.4M136.3 377.7h1.4M137.8 379.2h1.4M104.4 380.6h1.4M126.2 382.1h1.4M139.2 382.1h1.4M124.7 383.5h1.4M116.0 385.0h1.4M233.4 393.7h1.4M232.0 395.1h1.4M233.4 396.6h1.4M227.6 400.9h1.4M201.5 403.8h1.4M213.1 403.8h1.4M203.0 405.3h1.4M198.6 406.7h1.4M208.8 406.7h1.4M216.0 406.7h1.4M230.5 406.7h2.9M200.1 412.5h1.4M232.0 412.5h1.4M198.6 415.4h1.4M229.1 416.9h1.4M229.1 418.3h1.4M204.4 419.8h1.4M221.8 419.8h1.4M213.1 421.2h1.4M220.4 421.2h1.4M224.7 422.7h1.4M210.2 424.1h1.4M208.8 427.0h1.4M205.9 428.5h1.4M208.8 428.5h2.9M133.4 318.3h1.4M131.9 319.7h1.4M136.3 324.1h1.4M139.2 324.1h1.4M178.3 350.2h1.4M160.9 371.9h1.4M158.0 373.4h1.4M13.0 298.0h1.4M14.5 308.1h1.4M17.4 309.6h1.4M21.7 309.6h1.4M20.3 316.8h1.4M21.7 318.3h1.4M20.3 322.6h1.4" stroke="#6cb8ff" stroke-width="1.50" fill="none"/><path d="M85.6 350.2h1.4M85.6 351.6h1.4M87.0 353.1h1.4M89.9 356.0h1.4M95.7 356.0h1.4M85.6 357.4h1.4M87.0 358.9h1.4M88.5 367.6h1.4M97.2 367.6h1.4M130.5 367.6h1.4M82.7 370.5h1.4M133.4 370.5h1.4M76.9 371.9h1.4M82.7 371.9h1.4M133.4 373.4h1.4M136.3 374.8h1.4M142.1 377.7h1.4M101.5 379.2h1.4M137.8 380.6h1.4M110.2 382.1h1.4M113.1 385.0h1.4M117.5 385.0h1.4M132.0 385.0h1.4M234.9 390.8h1.4M234.9 392.2h1.4M239.2 393.7h1.4M234.9 399.5h1.4M237.8 399.5h1.4M221.8 400.9h1.4M229.1 400.9h1.4M213.1 405.3h1.4M210.2 406.7h1.4M233.4 406.7h1.4M232.0 408.2h1.4M200.1 409.6h1.4M198.6 412.5h1.4M198.6 418.3h1.4M226.2 419.8h1.4M217.5 421.2h1.4M204.4 432.8h1.4M336.4 489.4h1.4M130.5 316.8h1.4M129.1 319.7h1.4M136.3 321.2h1.4M131.9 322.6h1.4M136.3 322.6h1.4M159.5 373.4h1.4M150.8 377.7h1.4M155.1 379.2h1.4M250.8 400.9h1.4M252.3 406.7h1.4M13.0 302.3h1.4M17.4 305.2h1.4M11.6 306.7h1.4M14.5 306.7h1.4M23.2 309.6h1.4M21.7 313.9h1.4M14.5 316.8h1.4M18.8 321.2h1.4M26.1 353.1h1.4" stroke="#9cc4ff" stroke-width="1.50" fill="none"/><path d="M87.0 356.0h1.4M91.4 356.0h1.4M95.7 357.4h1.4M123.3 363.2h1.4M101.5 364.7h1.4M121.8 364.7h1.4M124.7 364.7h1.4M100.1 366.1h1.4M103.0 367.6h2.9M108.8 367.6h1.4M82.7 369.0h1.4M113.1 369.0h1.4M118.9 369.0h1.4M126.2 369.0h1.4M111.7 370.5h1.4M114.6 370.5h1.4M120.4 371.9h1.4M132.0 371.9h1.4M101.5 373.4h7.2M130.5 373.4h2.9M101.5 374.8h1.4M108.8 374.8h1.4M126.2 374.8h1.4M134.9 374.8h1.4M105.9 376.3h1.4M108.8 376.3h1.4M111.7 377.7h2.9M116.0 377.7h2.9M130.5 377.7h1.4M136.3 379.2h1.4M113.1 380.6h1.4M116.0 380.6h1.4M120.4 380.6h1.4M124.7 380.6h1.4M134.9 380.6h1.4M129.1 382.1h1.4M121.8 383.5h2.9M130.5 383.5h1.4M233.4 398.0h1.4M232.0 400.9h1.4M217.5 402.4h1.4M224.7 402.4h1.4M227.6 402.4h2.9M226.2 405.3h1.4M205.9 408.2h1.4M208.8 408.2h1.4M214.6 408.2h1.4M227.6 408.2h1.4M223.3 409.6h1.4M227.6 409.6h1.4M201.5 411.1h1.4M216.0 411.1h1.4M223.3 411.1h1.4M204.4 412.5h1.4M214.6 412.5h1.4M207.3 414.0h1.4M230.5 415.4h1.4M203.0 416.9h1.4M223.3 418.3h2.9M208.8 419.8h1.4M207.3 421.2h1.4M210.2 421.2h1.4M204.4 425.6h2.9M20.3 311.0h1.4M17.4 319.7h1.4" stroke="#0000f0" stroke-width="1.50" fill="none"/><path d="M89.9 357.4h1.4M95.7 360.3h1.4M118.9 364.7h2.9M101.5 366.1h1.4M103.0 369.0h2.9M107.3 369.0h2.9M111.7 369.0h1.4M120.4 369.0h1.4M123.3 369.0h1.4M103.0 370.5h1.4M107.3 370.5h1.4M113.1 370.5h1.4M105.9 371.9h1.4M110.2 371.9h1.4M126.2 371.9h1.4M129.1 371.9h1.4M108.8 373.4h2.9M113.1 373.4h1.4M104.4 374.8h1.4M110.2 374.8h2.9M114.6 374.8h2.9M120.4 374.8h1.4M110.2 376.3h2.9M118.9 376.3h1.4M121.8 376.3h1.4M104.4 377.7h1.4M110.2 377.7h1.4M114.6 377.7h1.4M124.7 377.7h1.4M113.1 382.1h1.4M120.4 382.1h1.4M218.9 403.8h1.4M223.3 403.8h1.4M220.4 405.3h1.4M204.4 406.7h1.4M229.1 406.7h1.4M210.2 408.2h2.9M229.1 408.2h1.4M204.4 409.6h2.9M211.7 409.6h2.9M224.7 409.6h1.4M203.0 411.1h1.4M224.7 411.1h1.4M227.6 411.1h2.9M213.1 412.5h1.4M216.0 412.5h1.4M226.2 412.5h2.9M204.4 414.0h2.9M208.8 414.0h1.4M213.1 414.0h1.4M207.3 415.4h1.4M211.7 416.9h1.4M214.6 416.9h1.4M220.4 416.9h1.4M223.3 416.9h1.4M205.9 422.7h1.4M204.4 427.0h2.9" stroke="#0000e0" stroke-width="1.50" fill="none"/><path d="M97.2 363.2h1.4M108.8 366.1h1.4M123.3 367.6h1.4M105.9 370.5h1.4M108.8 370.5h1.4M120.4 377.7h1.4M132.0 377.7h1.4M114.6 379.2h1.4M117.5 379.2h1.4M129.1 379.2h1.4M133.4 380.6h1.4M121.8 382.1h1.4M127.6 382.1h1.4M221.8 403.8h1.4M227.6 403.8h1.4M221.8 405.3h1.4M224.7 405.3h1.4M218.9 406.7h1.4M223.3 406.7h1.4M204.4 408.2h1.4M221.8 408.2h1.4M224.7 408.2h1.4M220.4 409.6h1.4M204.4 411.1h1.4M208.8 411.1h1.4M226.2 411.1h1.4M205.9 412.5h2.9M224.7 412.5h1.4M217.5 414.0h1.4M210.2 415.4h2.9M226.2 415.4h1.4M204.4 416.9h5.8M213.1 416.9h1.4M216.0 416.9h1.4M208.8 418.3h1.4M207.3 422.7h1.4M17.4 316.8h1.4" stroke="#0000c8" stroke-width="1.50" fill="none"/><path d="M113.1 363.2h1.4M117.5 364.7h1.4M117.5 371.9h1.4M114.6 373.4h1.4M124.7 376.3h1.4M126.2 379.2h1.4M117.5 380.6h1.4M124.7 382.1h1.4M132.0 382.1h1.4M221.8 409.6h1.4M220.4 414.0h1.4" stroke="#fff000" stroke-width="1.50" fill="none"/><path d="M114.6 363.2h1.4M105.9 367.6h1.4M116.0 367.6h1.4M117.5 369.0h1.4M120.4 370.5h2.9M118.9 371.9h1.4M121.8 371.9h1.4M116.0 373.4h1.4M120.4 373.4h1.4M123.3 376.3h1.4M118.9 377.7h1.4M134.9 377.7h1.4M113.1 379.2h1.4M120.4 379.2h1.4M123.3 379.2h2.9M127.6 380.6h1.4M132.0 380.6h1.4M216.0 403.8h1.4M218.9 405.3h1.4M217.5 406.7h1.4M216.0 408.2h1.4M218.9 408.2h1.4M217.5 409.6h1.4M214.6 411.1h1.4M216.0 414.0h1.4M216.0 415.4h1.4M223.3 415.4h1.4M227.6 415.4h1.4M207.3 418.3h1.4" stroke="#ffff00" stroke-width="1.50" fill="none"/><path d="M116.0 363.2h1.4M113.1 364.7h1.4M118.9 366.1h1.4M116.0 370.5h1.4M127.6 374.8h1.4M126.2 376.3h1.4M118.9 379.2h1.4M129.1 380.6h1.4M130.5 382.1h1.4M217.5 403.8h1.4M214.6 405.3h4.3M220.4 412.5h1.4M218.9 414.0h1.4M217.5 416.9h1.4" stroke="#ffe000" stroke-width="1.50" fill="none"/><path d="M110.2 364.7h1.4M116.0 369.0h1.4M123.3 373.4h1.4M127.6 379.2h1.4M121.8 380.6h1.4M221.8 411.1h1.4" stroke="#ff8500" stroke-width="1.50" fill="none"/><path d="M111.7 364.7h1.4M120.4 376.3h1.4" stroke="#ff7300" stroke-width="1.50" fill="none"/><path d="M107.3 366.1h1.4M117.5 366.1h1.4M123.3 366.1h1.4M105.9 369.0h1.4M124.7 369.0h1.4M124.7 370.5h2.9M78.3 371.9h1.4M104.4 371.9h1.4M107.3 371.9h2.9M111.7 373.4h1.4M127.6 373.4h2.9M105.9 374.8h2.9M133.4 374.8h1.4M113.1 376.3h1.4M127.6 377.7h1.4M111.7 379.2h1.4M116.0 379.2h1.4M139.2 379.2h1.4M118.9 380.6h1.4M233.4 399.5h1.4M232.0 402.4h1.4M224.7 403.8h1.4M227.6 405.3h1.4M205.9 406.7h1.4M214.6 406.7h1.4M221.8 406.7h1.4M217.5 408.2h1.4M226.2 408.2h1.4M208.8 409.6h1.4M214.6 409.6h1.4M226.2 409.6h1.4M205.9 411.1h1.4M210.2 411.1h2.9M208.8 412.5h4.3M217.5 412.5h1.4M223.3 412.5h1.4M229.1 412.5h2.9M211.7 414.0h1.4M214.6 414.0h1.4M223.3 414.0h2.9M227.6 414.0h1.4M203.0 415.4h4.3M208.8 415.4h1.4M213.1 415.4h1.4M221.8 415.4h1.4M210.2 416.9h1.4M221.8 416.9h1.4M213.1 418.3h1.4M221.8 418.3h1.4M207.3 419.8h1.4M210.2 419.8h1.4" stroke="#0000d2" stroke-width="1.50" fill="none"/><path d="M114.6 366.1h1.4M117.5 367.6h1.4M116.0 371.9h1.4M130.5 374.8h1.4M126.2 377.7h1.4M130.5 379.2h1.4M133.4 379.2h1.4M126.2 380.6h1.4M130.5 380.6h1.4M216.0 409.6h1.4M218.9 416.9h1.4" stroke="#ffc800" stroke-width="1.50" fill="none"/><path d="M114.6 367.6h1.4M121.8 367.6h1.4M114.6 369.0h1.4M117.5 370.5h1.4M117.5 373.4h1.4M116.0 376.3h1.4M218.9 402.4h1.4M214.6 403.8h1.4M220.4 408.2h1.4M223.3 408.2h1.4M218.9 411.1h1.4M221.8 414.0h1.4" stroke="#ffd400" stroke-width="1.50" fill="none"/><path d="M118.9 367.6h1.4M118.9 373.4h1.4M127.6 376.3h1.4M130.5 376.3h1.4M123.3 377.7h1.4" stroke="#ff7d00" stroke-width="1.50" fill="none"/><path d="M118.9 374.8h1.4M121.8 374.8h1.4M132.0 379.2h1.4M218.9 409.6h1.4M213.1 411.1h1.4" stroke="#ff9800" stroke-width="1.50" fill="none"/><path d="M132.0 374.8h1.4M114.6 376.3h1.4M129.1 376.3h1.4M121.8 377.7h1.4M129.1 377.7h1.4M123.3 380.6h1.4M223.3 405.3h1.4M220.4 411.1h1.4" stroke="#ff8e00" stroke-width="1.50" fill="none"/><path d="M271.0 433.8h1.4M284.1 436.2h1.4M279.9 445.5h1.4M291.6 444.9h1.4M280.0 440.8h1.4M289.1 448.8h1.4M278.6 437.1h1.4M272.1 417.0h1.4M277.6 418.0h1.4M274.6 447.2h1.4M272.0 439.6h1.4M273.9 450.3h1.4M276.3 446.8h1.4M286.1 440.6h1.4M278.6 422.3h1.4M279.7 439.2h1.4M285.1 423.2h1.4M274.2 426.6h1.4M290.8 445.8h1.4M270.3 434.7h1.4" stroke="#80dc80" stroke-width="1.45" fill="none"/><path d="M271.9 421.4h1.4M286.1 446.7h1.4M267.2 420.7h1.4M278.0 445.3h1.4M275.3 435.4h1.4M289.1 420.4h1.4M269.5 428.3h1.4M286.5 435.8h1.4M262.8 414.4h1.4M285.9 423.9h1.4M267.0 432.0h1.4M269.1 429.4h1.4" stroke="#b4ccff" stroke-width="1.45" fill="none"/><path d="M277.1 446.4h1.4M289.7 435.1h1.4M270.8 425.5h1.4M278.2 428.6h1.4M277.8 435.2h1.4M276.3 435.6h1.4M273.4 427.1h1.4M270.5 444.4h1.4" stroke="#88e888" stroke-width="1.45" fill="none"/><path d="M308.0 467.3h1.4M299.8 512.5h1.4M322.8 474.0h1.4M317.8 511.9h1.4M320.4 547.8h1.4M311.1 475.2h1.4M324.1 527.6h1.4M307.0 497.9h1.4M326.1 547.2h1.4M313.6 493.3h1.4M342.9 519.9h1.4M326.3 525.2h1.4M301.4 530.9h1.4M303.9 512.7h1.4M299.7 506.9h1.4M306.3 545.9h1.4M307.9 501.8h1.4M323.2 497.1h1.4M305.8 485.2h1.4M325.0 501.8h1.4" stroke="#b4ccff" stroke-width="1.45" fill="none"/><path d="M321.3 466.1h1.4M317.1 540.6h1.4M307.2 506.3h1.4M337.9 532.4h1.4M306.8 541.5h1.4M339.0 475.4h1.4M310.9 536.1h1.4M310.4 543.0h1.4M319.8 479.0h1.4M339.7 461.9h1.4M314.6 525.2h1.4M329.9 475.9h1.4M301.7 542.1h1.4M320.2 461.9h1.4M344.3 543.9h1.4M317.6 542.9h1.4M297.5 473.3h1.4M327.8 545.4h1.4M325.0 510.4h1.4M308.3 495.0h1.4M340.7 502.9h1.4M337.5 495.5h1.4M302.8 462.6h1.4M342.9 522.6h1.4M313.5 517.1h1.4M339.8 505.5h1.4M302.0 545.2h1.4M345.7 459.2h1.4M345.3 497.6h1.4M297.3 465.2h1.4M311.3 489.2h1.4M300.2 468.3h1.4M313.0 535.4h1.4" stroke="#88e888" stroke-width="1.45" fill="none"/><path d="M333.8 486.1h1.4M333.5 471.1h1.4M329.9 497.7h1.4M300.6 463.5h1.4M310.3 510.4h1.4M311.1 480.5h1.4M319.2 476.7h1.4M301.2 463.6h1.4M330.8 476.0h1.4M297.0 480.8h1.4M322.2 466.4h1.4M346.1 509.5h1.4M343.3 507.6h1.4M321.9 535.8h1.4M318.2 529.9h1.4M315.4 472.7h1.4M324.8 539.4h1.4" stroke="#80dc80" stroke-width="1.45" fill="none"/><path d="M277.4 507.1h1.4M290.4 508.8h1.4M278.9 515.0h1.4M262.3 513.4h1.4M272.6 498.7h1.4M283.9 490.4h1.4M249.6 509.9h1.4M277.1 492.2h1.4M252.6 480.8h1.4M292.3 484.5h1.4M272.4 503.9h1.4M263.0 471.1h1.4M250.0 477.3h1.4M259.9 510.9h1.4" stroke="#88e888" stroke-width="1.45" fill="none"/><path d="M155.2 381.0h1.4M77.5 366.4h1.4M118.7 342.3h1.4M83.2 364.3h1.4M103.5 355.4h1.4M159.3 386.6h1.4M136.0 345.2h1.4M74.0 371.1h1.4M82.6 340.5h1.4M126.9 371.6h1.4M105.0 362.7h1.4M66.5 356.2h1.4M167.1 371.6h1.4M122.0 359.2h1.4M90.8 358.0h1.4" stroke="#80dc80" stroke-width="1.45" fill="none"/><path d="M169.3 363.4h1.4M139.5 367.8h1.4M161.3 350.8h1.4M113.4 335.8h1.4M144.1 379.4h1.4M174.2 366.5h1.4M171.9 386.4h1.4M96.5 366.5h1.4M120.0 372.1h1.4M146.3 353.5h1.4M76.6 343.0h1.4M71.5 357.4h1.4M113.7 381.5h1.4M141.6 358.0h1.4M90.1 379.7h1.4" stroke="#88e888" stroke-width="1.45" fill="none"/><path d="M182.7 457.0h1.4M173.7 444.9h1.4M208.7 411.2h1.4M250.3 421.3h1.4M255.0 447.5h1.4M250.3 420.6h1.4M177.5 411.7h1.4" stroke="#80dc80" stroke-width="1.45" fill="none"/><path d="M249.7 412.2h1.4M186.7 412.6h1.4M193.8 435.3h1.4M230.2 391.9h1.4M215.7 448.4h1.4M194.3 401.3h1.4M185.5 403.9h1.4M171.6 443.7h1.4M194.2 393.6h1.4M250.5 391.1h1.4M212.1 408.8h1.4" stroke="#0000ff" stroke-width="1.45" fill="none"/><path d="M232.6 433.0h1.4M222.0 410.2h1.4M218.2 391.4h1.4M173.5 441.1h1.4M253.3 448.2h1.4M167.0 437.3h1.4M174.0 410.9h1.4" stroke="#88e888" stroke-width="1.45" fill="none"/><path d="M232.9 450.5h1.4M213.2 405.1h1.4M190.9 408.5h1.4M194.4 452.6h1.4M180.2 441.3h1.4" stroke="#4870ff" stroke-width="1.45" fill="none"/><path d="M297.8 473.7h1.4M300.2 499.9h1.4M290.0 501.8h1.4M280.1 457.6h1.4M300.4 501.2h1.4M316.5 474.2h1.4" stroke="#0000ff" stroke-width="1.45" fill="none"/><path d="M281.2 488.8h1.4M313.7 463.5h1.4" stroke="#4870ff" stroke-width="1.45" fill="none"/><use href="#grid"/><use href="#coast"/><use href="#swath"/><use href="#labels"/><use href="#cross"/><text class="tt" x="37.3" y="66.2">PR near surface reflectivity (dBZ)</text><text class="lt" x="439.5" y="523">(a)</text><rect x="495.2" y="531.37" width="8.8" height="8.77" fill="#f8f8f8"/><rect x="495.2" y="522.90" width="8.8" height="8.77" fill="#f1f1f1"/><rect x="495.2" y="514.44" width="8.8" height="8.77" fill="#e9e9e9"/><rect x="495.2" y="505.97" width="8.8" height="8.77" fill="#e2e2e2"/><rect x="495.2" y="497.51" width="8.8" height="8.77" fill="#dadada"/><rect x="495.2" y="489.04" width="8.8" height="8.77" fill="#d3d3d3"/><rect x="495.2" y="480.58" width="8.8" height="8.77" fill="#cccccc"/><rect x="495.2" y="472.11" width="8.8" height="8.77" fill="#c4c4c4"/><rect x="495.2" y="463.65" width="8.8" height="8.77" fill="#bdbdbd"/><rect x="495.2" y="455.18" width="8.8" height="8.77" fill="#b6b6b6"/><rect x="495.2" y="446.72" width="8.8" height="8.77" fill="#aeaeae"/><rect x="495.2" y="438.25" width="8.8" height="8.77" fill="#a7a7a7"/><rect x="495.2" y="429.79" width="8.8" height="8.77" fill="#9f9f9f"/><rect x="495.2" y="421.32" width="8.8" height="8.77" fill="#989898"/><rect x="495.2" y="412.86" width="8.8" height="8.77" fill="#88e888"/><rect x="495.2" y="404.39" width="8.8" height="8.77" fill="#80dc80"/><rect x="495.2" y="395.93" width="8.8" height="8.77" fill="#78d078"/><rect x="495.2" y="387.46" width="8.8" height="8.77" fill="#70c870"/><rect x="495.2" y="379.00" width="8.8" height="8.77" fill="#6abf6a"/><rect x="495.2" y="370.53" width="8.8" height="8.77" fill="#d0d4ff"/><rect x="495.2" y="362.07" width="8.8" height="8.77" fill="#b4ccff"/><rect x="495.2" y="353.60" width="8.8" height="8.77" fill="#9cc4ff"/><rect x="495.2" y="345.14" width="8.8" height="8.77" fill="#80bcff"/><rect x="495.2" y="336.67" width="8.8" height="8.77" fill="#6cb8ff"/><rect x="495.2" y="328.21" width="8.8" height="8.77" fill="#54acff"/><rect x="495.2" y="319.74" width="8.8" height="8.77" fill="#4c8cff"/><rect x="495.2" y="311.28" width="8.8" height="8.77" fill="#4870ff"/><rect x="495.2" y="302.81" width="8.8" height="8.77" fill="#4050ff"/><rect x="495.2" y="294.35" width="8.8" height="8.77" fill="#3030ff"/><rect x="495.2" y="285.88" width="8.8" height="8.77" fill="#0000ff"/><rect x="495.2" y="277.42" width="8.8" height="8.77" fill="#0000f0"/><rect x="495.2" y="268.95" width="8.8" height="8.77" fill="#0000e0"/><rect x="495.2" y="260.49" width="8.8" height="8.77" fill="#0000d2"/><rect x="495.2" y="252.02" width="8.8" height="8.77" fill="#0000c8"/><rect x="495.2" y="243.56" width="8.8" height="8.77" fill="#ffff00"/><rect x="495.2" y="235.09" width="8.8" height="8.77" fill="#fff000"/><rect x="495.2" y="226.63" width="8.8" height="8.77" fill="#ffe000"/><rect x="495.2" y="218.16" width="8.8" height="8.77" fill="#ffd400"/><rect x="495.2" y="209.70" width="8.8" height="8.77" fill="#ffc800"/><rect x="495.2" y="201.23" width="8.8" height="8.77" fill="#ff9800"/><rect x="495.2" y="192.77" width="8.8" height="8.77" fill="#ff8e00"/><rect x="495.2" y="184.30" width="8.8" height="8.77" fill="#ff8500"/><rect x="495.2" y="175.84" width="8.8" height="8.77" fill="#ff7d00"/><rect x="495.2" y="167.37" width="8.8" height="8.77" fill="#ff7300"/><rect x="495.2" y="158.91" width="8.8" height="8.77" fill="#ff4500"/><rect x="495.2" y="150.44" width="8.8" height="8.77" fill="#ff3a00"/><rect x="495.2" y="141.98" width="8.8" height="8.77" fill="#ff2e00"/><rect x="495.2" y="133.51" width="8.8" height="8.77" fill="#ff2200"/><rect x="495.2" y="125.05" width="8.8" height="8.77" fill="#ff1a00"/><rect x="495.2" y="116.58" width="8.8" height="8.77" fill="#c40000"/><rect x="495.2" y="108.12" width="8.8" height="8.77" fill="#c00000"/><rect x="495.2" y="99.65" width="8.8" height="8.77" fill="#b40500"/><rect x="495.2" y="91.19" width="8.8" height="8.77" fill="#a90d00"/><rect x="495.2" y="82.72" width="8.8" height="8.77" fill="#a31200"/><rect x="495.2" y="74.26" width="8.8" height="8.77" fill="#5e0f07"/><rect x="495.2" y="65.79" width="8.8" height="8.77" fill="#5e130c"/><rect x="495.2" y="57.33" width="8.8" height="8.77" fill="#5c1510"/><rect x="495.2" y="48.86" width="8.8" height="8.77" fill="#5a1713"/><rect x="495.2" y="40.40" width="8.8" height="8.77" fill="#5a1a17"/><path d="M504.0 548.30h2.4" stroke="#000" stroke-width="1"/><text class="tk" text-anchor="middle" x="524.0" y="556.70">0</text><path d="M504.0 497.51h2.4" stroke="#000" stroke-width="1"/><text class="tk" text-anchor="middle" x="524.0" y="505.91">6</text><path d="M504.0 446.72h2.4" stroke="#000" stroke-width="1"/><text class="tk" text-anchor="middle" x="524.0" y="455.12">12</text><path d="M504.0 395.93h2.4" stroke="#000" stroke-width="1"/><text class="tk" text-anchor="middle" x="524.0" y="404.33">18</text><path d="M504.0 345.14h2.4" stroke="#000" stroke-width="1"/><text class="tk" text-anchor="middle" x="524.0" y="353.54">24</text><path d="M504.0 294.35h2.4" stroke="#000" stroke-width="1"/><text class="tk" text-anchor="middle" x="524.0" y="302.75">30</text><path d="M504.0 243.56h2.4" stroke="#000" stroke-width="1"/><text class="tk" text-anchor="middle" x="524.0" y="251.96">36</text><path d="M504.0 192.77h2.4" stroke="#000" stroke-width="1"/><text class="tk" text-anchor="middle" x="524.0" y="201.17">42</text><path d="M504.0 141.98h2.4" stroke="#000" stroke-width="1"/><text class="tk" text-anchor="middle" x="524.0" y="150.38">48</text><path d="M504.0 91.19h2.4" stroke="#000" stroke-width="1"/><text class="tk" text-anchor="middle" x="524.0" y="99.59">54</text></g>
<g transform="translate(590.5 0.0)"><path d="M84.1 338.6h1.4M114.6 363.2h1.4M98.6 367.6h1.4M118.9 376.3h1.4M101.5 377.7h1.4M110.2 380.6h1.4M221.8 400.9h1.4M198.6 412.5h1.4M229.1 419.8h1.4M227.6 421.2h1.4M265.3 414.0h1.4M266.8 416.9h1.4M271.1 416.9h1.4M266.8 419.8h1.4M268.2 421.2h2.9M269.7 424.1h1.4M275.5 424.1h1.4M279.8 424.1h1.4M284.2 425.6h1.4M272.6 427.0h1.4M269.7 429.9h1.4M281.3 429.9h1.4M278.4 434.3h1.4M282.7 435.7h1.4M266.8 437.2h1.4M281.3 437.2h1.4M281.3 440.1h2.9M263.9 441.5h1.4M272.6 441.5h1.4M278.4 443.0h1.4M271.1 444.4h1.4M259.5 445.9h2.9M342.2 470.5h1.4M337.8 472.0h1.4M337.8 473.4h1.4M334.9 474.9h1.4M346.5 476.3h1.4M333.5 477.8h2.9M345.1 477.8h1.4M339.3 479.2h1.4M324.8 482.1h2.9M330.6 482.1h1.4M337.8 485.0h2.9M330.6 486.5h1.4M336.4 486.5h1.4M327.7 487.9h1.4M330.6 490.8h1.4M333.5 490.8h1.4M336.4 490.8h1.4M334.9 492.3h1.4M323.3 498.1h1.4M320.4 499.5h1.4M326.2 501.0h1.4M327.7 502.4h1.4M333.5 502.4h1.4M332.0 505.3h1.4M326.2 508.2h2.9M332.0 508.2h1.4M329.1 509.7h1.4M317.5 511.1h1.4M321.9 512.6h1.4M320.4 516.9h1.4M314.6 518.4h1.4M320.4 518.4h1.4M323.3 518.4h1.4M320.4 519.8h2.9M316.1 521.3h1.4M323.3 521.3h1.4M320.4 522.7h1.4M319.0 524.2h2.9M307.4 515.5h1.4M303.0 516.9h1.4M303.0 519.8h1.4M136.3 319.7h1.4M139.2 321.2h1.4M133.4 322.6h1.4M174.0 347.3h1.4M159.5 371.9h2.9M150.8 379.2h1.4M15.9 308.1h1.4M17.4 312.5h1.4M15.9 315.4h1.4M21.7 315.4h1.4M17.4 319.7h1.4M23.2 353.1h1.4M21.7 356.0h1.4M26.1 356.0h1.4M327.7 540.1h1.4M324.8 545.9h1.4" stroke="#80bcff" stroke-width="1.50" fill="none"/><path d="M85.6 338.6h1.4M82.7 340.0h1.4M87.0 340.0h1.4M82.7 345.8h1.4M84.1 350.2h1.4M82.7 353.1h1.4M91.4 357.4h1.4M95.7 357.4h1.4M95.7 358.9h2.9M92.8 360.3h1.4M98.6 361.8h1.4M87.0 363.2h1.4M121.8 363.2h1.4M101.5 364.7h2.9M124.7 364.7h1.4M98.6 366.1h1.4M111.7 366.1h1.4M126.2 366.1h1.4M78.3 371.9h1.4M81.2 371.9h1.4M100.1 371.9h1.4M134.9 371.9h1.4M137.8 373.4h1.4M133.4 374.8h1.4M103.0 377.7h1.4M127.6 379.2h1.4M139.2 379.2h1.4M120.4 380.6h1.4M111.7 382.1h1.4M134.9 383.5h1.4M114.6 385.0h1.4M234.9 395.1h1.4M236.3 396.6h1.4M230.5 398.0h1.4M234.9 399.5h1.4M224.7 400.9h1.4M229.1 400.9h1.4M232.0 403.8h1.4M221.8 405.3h1.4M210.2 406.7h1.4M230.5 406.7h2.9M216.0 408.2h1.4M226.2 408.2h1.4M216.0 414.0h1.4M230.5 418.3h1.4M217.5 421.2h1.4M226.2 421.2h1.4M263.9 414.0h1.4M271.1 421.2h2.9M276.9 422.7h1.4M271.1 424.1h2.9M281.3 425.6h1.4M274.0 427.0h1.4M272.6 428.5h1.4M269.7 431.4h1.4M284.2 431.4h1.4M268.2 432.8h1.4M275.5 432.8h2.9M272.6 435.7h1.4M278.4 435.7h4.3M275.5 438.6h1.4M278.4 438.6h1.4M272.6 440.1h1.4M271.1 443.0h1.4M276.9 443.0h1.4M274.0 444.4h1.4M278.4 448.8h1.4M339.3 476.3h1.4M343.6 477.8h1.4M329.1 479.2h1.4M333.5 479.2h1.4M336.4 479.2h1.4M336.4 483.6h1.4M332.0 485.0h1.4M334.9 485.0h1.4M327.7 486.5h1.4M321.9 487.9h1.4M326.2 489.4h1.4M329.1 489.4h1.4M336.4 489.4h1.4M326.2 493.7h1.4M327.7 495.2h1.4M326.2 496.6h1.4M326.2 499.5h2.9M327.7 501.0h2.9M319.0 502.4h1.4M323.3 502.4h1.4M330.6 503.9h1.4M327.7 509.7h1.4M326.2 511.1h1.4M317.5 512.6h1.4M321.9 518.4h1.4M324.8 519.8h1.4M314.6 521.3h1.4M317.5 521.3h1.4M320.4 521.3h1.4M130.5 318.3h1.4M133.4 319.7h1.4M131.9 321.2h1.4M134.8 321.2h1.4M131.9 322.6h1.4M137.7 322.6h1.4M140.6 322.6h1.4M176.9 350.2h1.4M156.6 374.8h1.4M153.7 376.3h1.4M253.7 403.8h1.4M252.3 405.3h1.4M14.5 299.4h1.4M13.0 302.3h1.4M15.9 303.8h1.4M18.8 306.7h1.4M18.8 308.1h1.4M17.4 311.0h1.4M18.8 312.5h1.4M18.8 315.4h1.4M18.8 316.8h1.4M15.9 319.7h1.4M327.7 541.6h1.4" stroke="#4870ff" stroke-width="1.50" fill="none"/><path d="M87.0 338.6h1.4M84.1 340.0h1.4M82.7 350.2h1.4M84.1 351.6h1.4M87.0 357.4h1.4M94.3 357.4h1.4M89.9 358.9h1.4M98.6 358.9h1.4M89.9 360.3h1.4M95.7 360.3h2.9M92.8 361.8h1.4M120.4 361.8h1.4M100.1 364.7h1.4M104.4 364.7h1.4M104.4 366.1h1.4M82.7 369.0h1.4M127.6 369.0h1.4M132.0 369.0h1.4M78.3 370.5h1.4M79.8 371.9h1.4M113.1 371.9h1.4M129.1 373.4h1.4M133.4 373.4h1.4M101.5 374.8h1.4M114.6 374.8h1.4M136.3 374.8h2.9M134.9 377.7h1.4M107.3 380.6h1.4M121.8 380.6h1.4M114.6 382.1h1.4M124.7 382.1h1.4M120.4 383.5h1.4M130.5 383.5h1.4M116.0 385.0h1.4M236.3 393.7h1.4M236.3 395.1h1.4M234.9 400.9h1.4M223.3 402.4h1.4M201.5 405.3h1.4M214.6 405.3h1.4M200.1 406.7h1.4M207.3 406.7h1.4M200.1 408.2h2.9M208.8 408.2h1.4M208.8 409.6h1.4M211.7 409.6h1.4M223.3 411.1h1.4M216.0 412.5h1.4M216.0 415.4h1.4M200.1 416.9h1.4M217.5 416.9h2.9M229.1 416.9h1.4M229.1 418.3h1.4M203.0 419.8h2.9M223.3 419.8h1.4M226.2 419.8h1.4M213.1 421.2h2.9M223.3 421.2h1.4M210.2 425.6h1.4M269.7 419.8h1.4M274.0 424.1h1.4M274.0 425.6h1.4M279.8 425.6h1.4M279.8 427.0h1.4M275.5 428.5h4.3M282.7 428.5h1.4M276.9 429.9h1.4M282.7 429.9h1.4M274.0 431.4h1.4M276.9 431.4h5.8M285.6 431.4h1.4M278.4 432.8h1.4M276.9 434.3h1.4M279.8 434.3h1.4M271.1 435.7h1.4M276.9 435.7h1.4M278.4 437.2h1.4M275.5 440.1h1.4M275.5 443.0h1.4M275.5 444.4h1.4M340.7 476.3h1.4M340.7 480.7h1.4M332.0 483.6h1.4M333.5 486.5h1.4M326.2 487.9h1.4M333.5 487.9h1.4M323.3 489.4h1.4M330.6 489.4h1.4M332.0 492.3h1.4M327.7 496.6h1.4M326.2 502.4h1.4M326.2 503.9h1.4M324.8 505.3h1.4M324.8 506.8h1.4M323.3 508.2h1.4M326.2 509.7h1.4M320.4 515.5h1.4M319.0 516.9h1.4M316.1 518.4h1.4M319.0 519.8h1.4M133.4 318.3h1.4M134.8 319.7h1.4M133.4 321.2h1.4M136.3 321.2h1.4M178.3 350.2h1.4M250.8 402.4h1.4M13.0 305.2h1.4M20.3 309.6h1.4M20.3 312.5h1.4M20.3 313.9h1.4M20.3 315.4h1.4M17.4 321.2h1.4" stroke="#0000ff" stroke-width="1.50" fill="none"/><path d="M85.6 340.0h1.4M84.1 353.1h1.4M89.9 356.0h1.4M98.6 357.4h1.4M118.9 363.2h1.4M129.1 367.6h1.4M81.2 370.5h2.9M132.0 374.8h1.4M127.6 376.3h1.4M118.9 382.1h1.4M233.4 393.7h1.4M210.2 405.3h1.4M201.5 412.5h1.4M220.4 414.0h1.4M203.0 427.0h1.4M265.3 418.3h1.4M274.0 419.8h1.4M266.8 421.2h1.4M274.0 421.2h2.9M269.7 422.7h1.4M285.6 425.6h1.4M275.5 427.0h1.4M278.4 427.0h1.4M285.6 427.0h1.4M271.1 429.9h1.4M290.0 431.4h1.4M272.6 434.3h4.3M281.3 434.3h1.4M282.7 437.2h1.4M281.3 438.6h1.4M265.3 440.1h1.4M271.1 440.1h1.4M276.9 441.5h1.4M279.8 441.5h1.4M263.9 443.0h1.4M261.0 444.4h1.4M276.9 445.9h1.4M275.5 447.3h1.4M272.6 448.8h1.4M276.9 450.2h1.4M340.7 469.1h1.4M348.0 472.0h1.4M342.2 473.4h1.4M334.9 476.3h2.9M343.6 476.3h1.4M337.8 477.8h1.4M332.0 479.2h1.4M326.2 480.7h1.4M342.2 480.7h1.4M327.7 483.6h1.4M330.6 483.6h1.4M323.3 485.0h1.4M326.2 485.0h1.4M336.4 485.0h1.4M332.0 486.5h1.4M336.4 487.9h1.4M324.8 489.4h1.4M321.9 490.8h1.4M332.0 490.8h1.4M336.4 492.3h1.4M327.7 493.7h1.4M324.8 496.6h1.4M321.9 499.5h1.4M332.0 502.4h1.4M327.7 503.9h1.4M333.5 503.9h1.4M333.5 505.3h1.4M321.9 508.2h1.4M330.6 508.2h1.4M317.5 509.7h1.4M316.1 511.1h1.4M327.7 511.1h1.4M316.1 514.0h1.4M319.0 515.5h1.4M323.3 515.5h1.4M326.2 518.4h1.4M317.5 519.8h1.4M323.3 519.8h1.4M319.0 521.3h1.4M308.8 515.5h1.4M129.0 318.3h1.4M129.0 319.7h1.4M134.8 322.6h1.4M175.4 348.7h1.4M178.3 351.6h1.4M150.8 374.8h2.9M150.8 376.3h1.4M252.3 406.7h1.4M13.0 298.0h1.4M20.3 306.7h1.4M23.2 308.1h1.4M17.4 309.6h1.4M21.7 312.5h1.4M21.7 313.9h1.4M15.9 318.3h1.4M20.3 321.2h1.4M327.7 538.7h1.4M327.7 543.0h1.4" stroke="#6cb8ff" stroke-width="1.50" fill="none"/><path d="M81.2 341.5h1.4M81.2 351.6h2.9M85.6 353.1h1.4M84.1 354.5h1.4M88.5 357.4h1.4M101.5 363.2h1.4M85.6 364.7h2.9M105.9 364.7h1.4M126.2 364.7h1.4M82.7 366.1h1.4M108.8 366.1h1.4M130.5 367.6h1.4M75.4 370.5h1.4M79.8 373.4h2.9M103.0 379.2h2.9M140.7 379.2h1.4M111.7 380.6h1.4M137.8 380.6h1.4M123.3 382.1h1.4M233.4 395.1h1.4M237.8 395.1h1.4M230.5 396.6h1.4M223.3 400.9h1.4M227.6 400.9h1.4M232.0 405.3h1.4M208.8 406.7h1.4M211.7 406.7h1.4M232.0 411.1h1.4M233.4 412.5h1.4M200.1 415.4h1.4M221.8 418.3h1.4M214.6 419.8h1.4M221.8 421.2h1.4M203.0 422.7h1.4M213.1 422.7h2.9M262.4 416.9h1.4M265.3 416.9h1.4M269.7 418.3h2.9M271.1 419.8h1.4M271.1 422.7h1.4M275.5 425.6h2.9M281.3 427.0h1.4M272.6 429.9h1.4M278.4 429.9h1.4M284.2 429.9h1.4M275.5 431.4h1.4M271.1 432.8h1.4M274.0 432.8h1.4M284.2 432.8h4.3M290.0 432.8h1.4M275.5 435.7h1.4M274.0 438.6h1.4M278.4 440.1h1.4M278.4 441.5h1.4M274.0 443.0h1.4M262.4 444.4h1.4M272.6 445.9h2.9M278.4 447.3h1.4M274.0 448.8h2.9M340.7 470.5h1.4M342.2 472.0h2.9M346.5 472.0h1.4M340.7 473.4h1.4M337.8 474.9h2.9M345.1 474.9h1.4M340.7 477.8h1.4M340.7 479.2h1.4M327.7 480.7h1.4M332.0 480.7h1.4M337.8 480.7h1.4M329.1 482.1h1.4M333.5 482.1h1.4M342.2 482.1h1.4M339.3 483.6h1.4M321.9 485.0h1.4M330.6 485.0h1.4M329.1 486.5h1.4M329.1 487.9h1.4M337.8 487.9h1.4M320.4 489.4h1.4M332.0 489.4h1.4M337.8 489.4h1.4M323.3 492.3h1.4M326.2 492.3h2.9M330.6 492.3h1.4M323.3 493.7h1.4M326.2 495.2h1.4M323.3 501.0h1.4M320.4 502.4h2.9M324.8 502.4h1.4M329.1 502.4h2.9M317.5 503.9h1.4M324.8 503.9h1.4M332.0 503.9h1.4M319.0 505.3h1.4M326.2 505.3h1.4M329.1 505.3h1.4M326.2 506.8h1.4M330.6 506.8h2.9M320.4 511.1h1.4M324.8 512.6h4.3M320.4 514.0h4.3M326.2 514.0h1.4M321.9 516.9h1.4M314.6 519.8h1.4M301.6 519.8h1.4M137.7 321.2h1.4M139.2 322.6h1.4M175.4 350.2h1.4M176.9 351.6h1.4M153.7 373.4h1.4M158.0 373.4h1.4M153.7 379.2h1.4M14.5 298.0h1.4M13.0 300.9h1.4M14.5 303.8h1.4M15.9 305.2h1.4M14.5 306.7h1.4M17.4 306.7h1.4M20.3 316.8h1.4M20.3 318.3h2.9M20.3 319.7h1.4M20.3 351.6h2.9M23.2 354.5h1.4M26.1 354.5h1.4M24.6 356.0h1.4" stroke="#4c8cff" stroke-width="1.50" fill="none"/><path d="M82.7 341.5h1.4M85.6 356.0h1.4M91.4 356.0h1.4M94.3 356.0h1.4M88.5 360.3h1.4M97.2 361.8h1.4M100.1 363.2h1.4M97.2 364.7h1.4M116.0 364.7h1.4M118.9 364.7h1.4M127.6 366.1h1.4M110.2 367.6h1.4M121.8 367.6h1.4M79.8 369.0h2.9M110.2 369.0h1.4M117.5 369.0h1.4M101.5 370.5h2.9M116.0 370.5h1.4M127.6 370.5h1.4M110.2 371.9h2.9M133.4 371.9h1.4M117.5 373.4h1.4M105.9 374.8h1.4M111.7 374.8h2.9M127.6 374.8h1.4M101.5 376.3h2.9M107.3 376.3h1.4M136.3 376.3h1.4M139.2 376.3h1.4M107.3 377.7h1.4M117.5 377.7h1.4M139.2 377.7h1.4M108.8 379.2h2.9M132.0 379.2h1.4M108.8 380.6h1.4M136.3 380.6h1.4M113.1 382.1h1.4M134.9 382.1h1.4M123.3 383.5h1.4M126.2 385.0h1.4M239.2 392.2h1.4M232.0 398.0h1.4M232.0 402.4h2.9M224.7 403.8h1.4M213.1 405.3h1.4M227.6 405.3h1.4M230.5 405.3h1.4M227.6 406.7h2.9M207.3 408.2h1.4M211.7 408.2h1.4M223.3 409.6h1.4M200.1 411.1h1.4M227.6 414.0h1.4M230.5 414.0h1.4M213.1 415.4h1.4M203.0 416.9h1.4M216.0 418.3h1.4M224.7 419.8h1.4M203.0 421.2h1.4M205.9 422.7h1.4M203.0 424.1h1.4M210.2 424.1h1.4M204.4 425.6h1.4M208.8 425.6h1.4M211.7 425.6h1.4M210.2 427.0h1.4M205.9 428.5h1.4M152.2 377.7h1.4M14.5 305.2h1.4M18.8 311.0h1.4M18.8 319.7h1.4" stroke="#0000f0" stroke-width="1.50" fill="none"/><path d="M84.1 341.5h1.4M82.7 342.9h1.4M89.9 354.5h1.4M92.8 356.0h1.4M91.4 360.3h1.4M88.5 361.8h1.4M121.8 361.8h1.4M97.2 363.2h1.4M108.8 363.2h1.4M120.4 363.2h1.4M124.7 363.2h1.4M84.1 366.1h1.4M100.1 366.1h1.4M103.0 366.1h1.4M121.8 366.1h2.9M79.8 367.6h1.4M84.1 367.6h1.4M129.1 369.0h1.4M133.4 370.5h1.4M130.5 371.9h2.9M103.0 373.4h1.4M136.3 373.4h1.4M139.2 374.8h1.4M126.2 376.3h1.4M105.9 379.2h1.4M114.6 379.2h1.4M113.1 380.6h1.4M133.4 382.1h1.4M114.6 383.5h1.4M234.9 392.2h2.9M237.8 393.7h1.4M233.4 396.6h1.4M226.2 400.9h1.4M207.3 405.3h1.4M226.2 405.3h1.4M233.4 405.3h1.4M205.9 408.2h1.4M218.9 408.2h1.4M232.0 408.2h1.4M200.1 409.6h1.4M232.0 412.5h1.4M198.6 414.0h1.4M201.5 416.9h1.4M204.4 416.9h1.4M200.1 418.3h1.4M218.9 418.3h1.4M217.5 419.8h1.4M220.4 419.8h1.4M227.6 419.8h1.4M205.9 421.2h1.4M213.1 424.1h1.4M203.0 425.6h1.4M205.9 427.0h2.9M203.0 428.5h1.4M271.1 425.6h2.9M279.8 428.5h2.9M279.8 432.8h1.4M282.7 434.3h1.4M276.9 437.2h1.4M279.8 438.6h1.4M276.9 440.1h1.4M276.9 444.4h2.9M275.5 445.9h1.4M340.7 467.6h1.4M339.3 473.4h1.4M343.6 473.4h2.9M342.2 474.9h1.4M345.1 476.3h1.4M336.4 477.8h1.4M339.3 477.8h1.4M334.9 479.2h1.4M329.1 480.7h1.4M336.4 480.7h1.4M339.3 480.7h1.4M336.4 482.1h1.4M329.1 483.6h1.4M324.8 487.9h1.4M332.0 487.9h1.4M321.9 489.4h1.4M327.7 489.4h1.4M333.5 489.4h1.4M329.1 490.8h1.4M324.8 492.3h1.4M329.1 492.3h1.4M324.8 498.1h1.4M323.3 503.9h1.4M320.4 505.3h1.4M323.3 505.3h1.4M327.7 505.3h1.4M329.1 506.8h1.4M324.8 509.7h1.4M321.9 511.1h1.4M319.0 512.6h2.9M323.3 512.6h1.4M317.5 516.9h1.4M316.1 519.8h1.4M129.0 316.8h1.4M139.2 324.1h1.4M158.0 371.9h1.4M156.6 373.4h1.4M159.5 373.4h1.4M153.7 374.8h1.4M152.2 376.3h1.4M155.1 376.3h1.4M250.8 403.8h1.4M250.8 406.7h1.4M18.8 305.2h1.4M15.9 306.7h1.4M20.3 311.0h2.9M17.4 315.4h1.4M15.9 316.8h2.9M17.4 318.3h1.4M21.7 353.1h1.4M24.6 353.1h1.4" stroke="#4050ff" stroke-width="1.50" fill="none"/><path d="M84.1 342.9h1.4M82.7 344.4h1.4M87.0 353.1h1.4M87.0 358.9h1.4M91.4 361.8h1.4M94.3 363.2h1.4M103.0 363.2h1.4M94.3 364.7h1.4M114.6 364.7h1.4M85.6 366.1h1.4M95.7 366.1h1.4M98.6 369.0h1.4M100.1 370.5h1.4M110.2 370.5h1.4M100.1 373.4h2.9M142.1 377.7h1.4M116.0 379.2h1.4M132.0 383.5h2.9M117.5 386.4h1.4M236.3 390.8h1.4M229.1 402.4h1.4M234.9 402.4h1.4M227.6 403.8h1.4M218.9 412.5h1.4M232.0 415.4h1.4M220.4 421.2h1.4M203.0 429.9h1.4M205.9 429.9h1.4M262.4 415.4h1.4M266.8 415.4h1.4M263.9 416.9h1.4M269.7 416.9h1.4M272.6 418.3h2.9M265.3 419.8h1.4M275.5 419.8h1.4M272.6 422.7h2.9M276.9 424.1h1.4M269.7 425.6h1.4M271.1 427.0h1.4M269.7 428.5h2.9M274.0 428.5h1.4M284.2 428.5h2.9M288.5 428.5h1.4M285.6 429.9h1.4M290.0 429.9h1.4M272.6 431.4h1.4M288.5 431.4h1.4M272.6 432.8h1.4M281.3 432.8h2.9M268.2 434.3h1.4M271.1 434.3h1.4M285.6 434.3h1.4M269.7 435.7h1.4M274.0 435.7h1.4M287.1 435.7h1.4M274.0 437.2h2.9M279.8 437.2h1.4M276.9 438.6h1.4M282.7 438.6h1.4M274.0 440.1h1.4M275.5 441.5h1.4M262.4 443.0h1.4M272.6 443.0h1.4M279.8 444.4h1.4M278.4 445.9h1.4M272.6 447.3h1.4M279.8 447.3h1.4M276.9 448.8h1.4M275.5 450.2h1.4M339.3 469.1h1.4M339.3 470.5h1.4M339.3 472.0h2.9M346.5 473.4h1.4M340.7 474.9h1.4M333.5 476.3h1.4M342.2 477.8h1.4M330.6 479.2h1.4M337.8 479.2h1.4M342.2 479.2h1.4M330.6 480.7h1.4M332.0 482.1h1.4M339.3 482.1h1.4M323.3 483.6h1.4M340.7 483.6h1.4M323.3 486.5h2.9M323.3 487.9h1.4M334.9 487.9h1.4M324.8 490.8h1.4M327.7 490.8h1.4M334.9 490.8h1.4M321.9 492.3h1.4M333.5 492.3h1.4M324.8 493.7h1.4M329.1 496.6h1.4M326.2 498.1h2.9M321.9 501.0h1.4M324.8 501.0h1.4M320.4 503.9h2.9M334.9 505.3h1.4M319.0 506.8h1.4M321.9 506.8h2.9M327.7 506.8h1.4M324.8 508.2h1.4M319.0 509.7h1.4M321.9 509.7h2.9M319.0 511.1h1.4M316.1 512.6h1.4M317.5 514.0h1.4M317.5 515.5h1.4M321.9 515.5h1.4M324.8 515.5h1.4M323.3 516.9h1.4M317.5 518.4h1.4M317.5 522.7h1.4M321.9 522.7h1.4M305.9 518.4h1.4M303.0 521.3h1.4M131.9 318.3h1.4M129.0 321.2h2.9M130.5 322.6h1.4M136.3 322.6h1.4M136.3 324.1h2.9M175.4 347.3h1.4M176.9 348.7h2.9M160.9 373.4h1.4M150.8 377.7h1.4M155.1 377.7h1.4M152.2 379.2h1.4M252.3 402.4h1.4M13.0 299.4h1.4M14.5 300.9h2.9M13.0 303.8h1.4M21.7 306.7h1.4M14.5 308.1h1.4M20.3 308.1h1.4M23.2 309.6h1.4M15.9 311.0h1.4M21.7 316.8h1.4M15.9 321.2h1.4M23.2 351.6h1.4M24.6 354.5h1.4M324.8 538.7h2.9M326.2 543.0h1.4M326.2 544.5h1.4" stroke="#54acff" stroke-width="1.50" fill="none"/><path d="M82.7 347.3h1.4M84.1 348.7h1.4M87.0 354.5h1.4M88.5 356.0h1.4M98.6 363.2h1.4M123.3 364.7h1.4M124.7 366.1h1.4M82.7 367.6h1.4M117.5 367.6h1.4M104.4 369.0h1.4M124.7 369.0h1.4M79.8 370.5h1.4M130.5 370.5h1.4M126.2 373.4h1.4M130.5 373.4h1.4M132.0 376.3h1.4M137.8 376.3h1.4M140.7 376.3h1.4M108.8 377.7h1.4M111.7 377.7h1.4M113.1 379.2h1.4M121.8 379.2h1.4M136.3 379.2h1.4M126.2 382.1h1.4M117.5 385.0h1.4M233.4 398.0h1.4M232.0 399.5h1.4M232.0 400.9h2.9M218.9 403.8h1.4M221.8 403.8h1.4M204.4 405.3h1.4M223.3 405.3h1.4M229.1 405.3h1.4M204.4 406.7h2.9M218.9 406.7h1.4M210.2 408.2h1.4M217.5 408.2h1.4M230.5 408.2h1.4M205.9 409.6h1.4M217.5 409.6h1.4M214.6 411.1h1.4M200.1 414.0h2.9M229.1 414.0h1.4M198.6 415.4h1.4M230.5 415.4h1.4M220.4 416.9h1.4M224.7 416.9h1.4M203.0 418.3h1.4M205.9 418.3h1.4M211.7 419.8h1.4M218.9 419.8h1.4M211.7 422.7h1.4M205.9 424.1h1.4M208.8 427.0h1.4M207.3 428.5h1.4M131.9 319.7h1.4M252.3 403.8h1.4M14.5 302.3h1.4M18.8 309.6h1.4M18.8 313.9h1.4M18.8 321.2h1.4" stroke="#0000e0" stroke-width="1.50" fill="none"/><path d="M84.1 347.3h1.4M76.9 371.9h1.4M78.3 373.4h1.4M100.1 374.8h1.4M142.1 376.3h1.4M121.8 383.5h1.4M213.1 409.6h1.4M223.3 422.7h1.4M262.4 418.3h1.4M266.8 418.3h1.4M272.6 419.8h1.4M278.4 421.2h1.4M268.2 422.7h1.4M281.3 424.1h1.4M282.7 425.6h1.4M269.7 427.0h1.4M284.2 427.0h1.4M287.1 427.0h1.4M287.1 428.5h1.4M287.1 429.9h2.9M287.1 431.4h1.4M291.4 431.4h1.4M269.7 434.3h1.4M284.2 437.2h1.4M272.6 438.6h1.4M279.8 440.1h1.4M274.0 441.5h1.4M272.6 444.4h1.4M279.8 445.9h1.4M274.0 447.3h1.4M276.9 447.3h1.4M336.4 473.4h1.4M332.0 477.8h1.4M343.6 479.2h1.4M334.9 480.7h1.4M327.7 482.1h1.4M337.8 482.1h1.4M321.9 483.6h1.4M324.8 483.6h2.9M337.8 483.6h1.4M320.4 486.5h2.9M323.3 496.6h1.4M321.9 498.1h1.4M329.1 498.1h1.4M323.3 499.5h2.9M330.6 499.5h1.4M320.4 501.0h1.4M330.6 501.0h2.9M321.9 505.3h1.4M330.6 505.3h1.4M320.4 506.8h1.4M319.0 508.2h1.4M320.4 509.7h1.4M326.2 515.5h1.4M314.6 516.9h2.9M321.9 521.3h1.4M304.5 516.9h4.3M162.4 371.9h1.4M158.0 374.8h1.4M250.8 405.3h1.4M250.8 408.2h1.4M15.9 309.6h1.4M17.4 313.9h1.4M21.7 354.5h1.4M326.2 540.1h1.4M324.8 544.5h1.4" stroke="#9cc4ff" stroke-width="1.50" fill="none"/><path d="M81.2 348.7h1.4M88.5 354.5h1.4M261.0 415.4h1.4M265.3 415.4h1.4M268.2 416.9h1.4M263.9 418.3h1.4M268.2 424.1h1.4M282.7 424.1h1.4M287.1 434.3h1.4M268.2 435.7h1.4M271.1 437.2h1.4M265.3 438.6h1.4M281.3 441.5h1.4M279.8 443.0h2.9M281.3 444.4h1.4M342.2 467.6h1.4M342.2 469.1h2.9M345.1 470.5h1.4M345.1 472.0h1.4M346.5 474.9h1.4M324.8 485.0h1.4M320.4 487.9h1.4M329.1 493.7h1.4M332.0 493.7h2.9M324.8 495.2h1.4M329.1 495.2h1.4M319.0 501.0h1.4M317.5 502.4h1.4M333.5 506.8h1.4M320.4 508.2h1.4M327.7 514.0h1.4M327.7 515.5h1.4M324.8 516.9h1.4M313.2 521.3h1.4M308.8 516.9h1.4M301.6 518.4h2.9M300.1 519.8h1.4M253.7 402.4h1.4M21.7 308.1h1.4M15.9 313.9h1.4M324.8 540.1h1.4M324.8 543.0h1.4M323.3 544.5h1.4" stroke="#d0d4ff" stroke-width="1.50" fill="none"/><path d="M82.7 348.7h1.4M85.6 354.5h1.4M89.9 357.4h1.4M91.4 358.9h1.4M94.3 358.9h1.4M94.3 360.3h1.4M95.7 361.8h1.4M111.7 364.7h1.4M101.5 367.6h1.4M104.4 367.6h1.4M123.3 367.6h2.9M101.5 369.0h1.4M105.9 369.0h1.4M126.2 369.0h1.4M104.4 370.5h5.8M126.2 370.5h1.4M129.1 370.5h1.4M104.4 371.9h5.8M129.1 371.9h1.4M104.4 373.4h5.8M120.4 373.4h1.4M107.3 374.8h4.3M104.4 376.3h2.9M108.8 376.3h5.8M120.4 376.3h1.4M105.9 377.7h1.4M110.2 377.7h1.4M113.1 377.7h1.4M107.3 379.2h1.4M126.2 379.2h1.4M132.0 380.6h1.4M116.0 382.1h1.4M127.6 382.1h2.9M116.0 383.5h1.4M232.0 395.1h1.4M230.5 400.9h1.4M218.9 402.4h1.4M230.5 402.4h1.4M216.0 403.8h1.4M229.1 403.8h2.9M233.4 403.8h1.4M201.5 406.7h1.4M220.4 406.7h1.4M203.0 408.2h2.9M214.6 408.2h1.4M223.3 408.2h1.4M227.6 408.2h1.4M203.0 409.6h2.9M207.3 409.6h1.4M210.2 409.6h1.4M227.6 409.6h2.9M205.9 411.1h2.9M210.2 411.1h1.4M213.1 411.1h1.4M220.4 411.1h1.4M226.2 411.1h5.8M203.0 412.5h5.8M210.2 412.5h4.3M220.4 412.5h1.4M226.2 412.5h1.4M229.1 412.5h1.4M203.0 414.0h11.6M224.7 414.0h2.9M201.5 415.4h11.6M223.3 415.4h7.2M205.9 416.9h8.7M216.0 416.9h1.4M223.3 416.9h1.4M227.6 416.9h1.4M207.3 418.3h4.3M213.1 418.3h2.9M220.4 418.3h1.4M224.7 418.3h2.9M205.9 419.8h4.3M213.1 419.8h1.4M216.0 419.8h1.4M207.3 421.2h2.9M207.3 422.7h2.9M207.3 424.1h1.4M205.9 425.6h2.9M204.4 427.0h1.4M21.7 309.6h1.4M18.8 318.3h1.4" stroke="#0000c8" stroke-width="1.50" fill="none"/><path d="M81.2 350.2h1.4M88.5 358.9h1.4M94.3 361.8h1.4M95.7 363.2h1.4M113.1 363.2h1.4M123.3 363.2h1.4M95.7 364.7h1.4M97.2 366.1h1.4M81.2 367.6h1.4M85.6 367.6h1.4M100.1 367.6h1.4M126.2 367.6h2.9M78.3 369.0h1.4M103.0 369.0h1.4M76.9 370.5h1.4M103.0 371.9h1.4M132.0 373.4h1.4M134.9 373.4h1.4M103.0 374.8h1.4M124.7 376.3h1.4M134.9 376.3h1.4M137.8 377.7h1.4M140.7 377.7h1.4M120.4 379.2h1.4M105.9 380.6h1.4M114.6 380.6h1.4M136.3 382.1h1.4M113.1 383.5h1.4M118.9 383.5h1.4M118.9 385.0h2.9M237.8 392.2h1.4M232.0 396.6h1.4M234.9 396.6h1.4M234.9 398.0h1.4M229.1 399.5h2.9M233.4 399.5h1.4M205.9 402.4h1.4M201.5 403.8h2.9M205.9 403.8h2.9M203.0 405.3h1.4M205.9 405.3h1.4M201.5 409.6h1.4M230.5 409.6h2.9M198.6 411.1h1.4M230.5 412.5h1.4M218.9 414.0h1.4M232.0 414.0h1.4M230.5 416.9h2.9M204.4 418.3h1.4M227.6 418.3h1.4M201.5 419.8h1.4M224.7 421.2h1.4M204.4 422.7h1.4M210.2 422.7h1.4M224.7 422.7h1.4M204.4 424.1h1.4M211.7 424.1h1.4M211.7 427.0h1.4M204.4 428.5h1.4M204.4 429.9h1.4M204.4 431.4h1.4M268.2 419.8h1.4M278.4 424.1h1.4M276.9 427.0h1.4M282.7 427.0h1.4M274.0 429.9h2.9M279.8 429.9h1.4M282.7 431.4h1.4M269.7 432.8h1.4M284.2 434.3h1.4M343.6 474.9h1.4M342.2 476.3h1.4M333.5 480.7h1.4M334.9 482.1h1.4M333.5 483.6h2.9M327.7 485.0h2.9M333.5 485.0h1.4M326.2 486.5h1.4M334.9 486.5h1.4M330.6 487.9h1.4M334.9 489.4h1.4M323.3 490.8h1.4M337.8 490.8h1.4M320.4 492.3h1.4M329.1 503.9h1.4M323.3 511.1h2.9M319.0 514.0h1.4M324.8 514.0h1.4M319.0 518.4h1.4M130.5 316.8h1.4M130.5 319.7h1.4M140.6 324.1h1.4M155.1 373.4h1.4M155.1 374.8h1.4M153.7 377.7h1.4M17.4 305.2h1.4M13.0 306.7h1.4M17.4 308.1h1.4M23.2 311.0h1.4M23.2 356.0h1.4M24.6 357.4h1.4" stroke="#3030ff" stroke-width="1.50" fill="none"/><path d="M87.0 356.0h1.4M92.8 357.4h1.4M92.8 358.9h1.4M98.6 360.3h1.4M100.1 361.8h1.4M116.0 363.2h2.9M98.6 364.7h1.4M110.2 364.7h1.4M121.8 364.7h1.4M101.5 366.1h1.4M105.9 366.1h1.4M103.0 367.6h1.4M105.9 367.6h1.4M108.8 367.6h1.4M100.1 369.0h1.4M130.5 369.0h1.4M132.0 370.5h1.4M101.5 371.9h1.4M127.6 371.9h1.4M116.0 373.4h1.4M104.4 374.8h1.4M116.0 374.8h1.4M104.4 377.7h1.4M130.5 377.7h1.4M111.7 379.2h1.4M123.3 379.2h2.9M129.1 379.2h1.4M133.4 380.6h2.9M117.5 383.5h1.4M126.2 383.5h1.4M234.9 393.7h1.4M217.5 402.4h1.4M226.2 402.4h1.4M204.4 403.8h1.4M208.8 405.3h1.4M211.7 405.3h1.4M203.0 406.7h1.4M229.1 408.2h1.4M201.5 411.1h4.3M208.8 411.1h1.4M221.8 411.1h1.4M200.1 412.5h1.4M208.8 412.5h1.4M217.5 412.5h1.4M227.6 412.5h1.4M214.6 414.0h1.4M218.9 415.4h1.4M214.6 416.9h1.4M226.2 416.9h1.4M201.5 418.3h1.4M211.7 418.3h1.4M223.3 418.3h1.4M210.2 419.8h1.4M221.8 419.8h1.4M204.4 421.2h1.4M210.2 421.2h2.9M216.0 421.2h1.4M208.8 424.1h1.4" stroke="#0000d2" stroke-width="1.50" fill="none"/><path d="M97.2 357.4h1.4M107.3 364.7h1.4M233.4 411.1h1.4M263.9 415.4h1.4M268.2 415.4h2.9M268.2 418.3h1.4M276.9 421.2h1.4M275.5 422.7h1.4M278.4 422.7h2.9M278.4 425.6h1.4M271.1 431.4h1.4M288.5 432.8h1.4M288.5 434.3h1.4M284.2 435.7h2.9M272.6 437.2h1.4M271.1 438.6h1.4M271.1 441.5h1.4M271.1 445.9h1.4M279.8 448.8h1.4M343.6 470.5h1.4M348.0 473.4h1.4M336.4 474.9h1.4M337.8 476.3h1.4M340.7 482.1h1.4M337.8 486.5h1.4M320.4 490.8h1.4M326.2 490.8h1.4M329.1 499.5h1.4M319.0 503.9h1.4M334.9 503.9h1.4M329.1 508.2h1.4M333.5 508.2h1.4M316.1 515.5h1.4M326.2 516.9h1.4M324.8 518.4h1.4M313.2 519.8h1.4M314.6 522.7h2.9M319.0 522.7h1.4M308.8 514.0h1.4M305.9 515.5h1.4M310.3 515.5h1.4M304.5 518.4h1.4M307.4 518.4h1.4M304.5 519.8h1.4M149.3 376.3h1.4M15.9 302.3h1.4M324.8 541.6h2.9M323.3 545.9h1.4" stroke="#b4ccff" stroke-width="1.50" fill="none"/><path d="M110.2 363.2h1.4M116.0 366.1h1.4M107.3 369.0h1.4M118.9 371.9h1.4M117.5 374.8h1.4M114.6 377.7h2.9M118.9 377.7h1.4M126.2 377.7h1.4M117.5 379.2h2.9M133.4 379.2h1.4M123.3 380.6h1.4M129.1 383.5h1.4M220.4 402.4h1.4M224.7 402.4h1.4M217.5 403.8h1.4M226.2 403.8h1.4M217.5 405.3h1.4M220.4 408.2h1.4M224.7 409.6h1.4M218.9 411.1h1.4M214.6 412.5h1.4M217.5 414.0h1.4" stroke="#ffd400" stroke-width="1.50" fill="none"/><path d="M111.7 363.2h1.4M114.6 367.6h1.4M114.6 369.0h1.4M117.5 370.5h1.4M114.6 371.9h1.4M110.2 373.4h1.4M124.7 374.8h1.4M114.6 376.3h1.4M117.5 376.3h1.4M120.4 377.7h1.4M124.7 377.7h1.4M133.4 377.7h1.4M134.9 379.2h1.4M117.5 380.6h1.4M220.4 409.6h1.4M211.7 411.1h1.4M223.3 414.0h1.4M220.4 415.4h1.4M221.8 416.9h1.4" stroke="#ffe000" stroke-width="1.50" fill="none"/><path d="M108.8 364.7h1.4M113.1 364.7h1.4M120.4 366.1h1.4M113.1 367.6h1.4M111.7 369.0h2.9M123.3 369.0h1.4M120.4 370.5h1.4M124.7 370.5h1.4M111.7 373.4h2.9M126.2 374.8h1.4M133.4 376.3h1.4M127.6 380.6h2.9M220.4 405.3h1.4M213.1 406.7h2.9M226.2 406.7h1.4M226.2 409.6h1.4M221.8 412.5h2.9" stroke="#ffff00" stroke-width="1.50" fill="none"/><path d="M117.5 364.7h1.4M118.9 367.6h1.4M120.4 369.0h1.4M123.3 374.8h1.4M129.1 374.8h1.4M123.3 376.3h1.4M118.9 380.6h1.4M117.5 382.1h1.4M132.0 382.1h1.4M221.8 402.4h1.4M221.8 406.7h1.4M214.6 409.6h1.4M221.8 415.4h1.4M217.5 418.3h1.4" stroke="#ff8e00" stroke-width="1.50" fill="none"/><path d="M120.4 364.7h1.4M107.3 366.1h1.4M117.5 366.1h1.4M120.4 367.6h1.4M114.6 370.5h1.4M118.9 370.5h1.4M123.3 370.5h1.4M124.7 373.4h1.4M118.9 374.8h1.4M129.1 377.7h1.4M126.2 380.6h1.4M127.6 383.5h1.4M216.0 406.7h1.4M216.0 411.1h1.4M221.8 414.0h1.4" stroke="#ff7300" stroke-width="1.50" fill="none"/><path d="M110.2 366.1h1.4M108.8 369.0h1.4M111.7 370.5h1.4M121.8 370.5h1.4M116.0 371.9h2.9M121.8 371.9h2.9M114.6 373.4h1.4M121.8 373.4h1.4M127.6 373.4h1.4M120.4 374.8h1.4M130.5 374.8h1.4M134.9 374.8h1.4M129.1 376.3h1.4M123.3 377.7h1.4M132.0 377.7h1.4M130.5 379.2h1.4M124.7 380.6h1.4M130.5 380.6h1.4M220.4 403.8h1.4M217.5 406.7h1.4M218.9 409.6h1.4M217.5 415.4h1.4" stroke="#fff000" stroke-width="1.50" fill="none"/><path d="M113.1 366.1h2.9M118.9 366.1h1.4M107.3 367.6h1.4M124.7 371.9h1.4M121.8 374.8h1.4M116.0 376.3h1.4M130.5 382.1h1.4M218.9 405.3h1.4M216.0 409.6h1.4M224.7 411.1h1.4M224.7 412.5h1.4" stroke="#ff8500" stroke-width="1.50" fill="none"/><path d="M111.7 367.6h1.4M116.0 369.0h1.4M118.9 369.0h1.4M120.4 371.9h1.4M121.8 376.3h1.4M121.8 377.7h1.4M127.6 377.7h1.4M136.3 377.7h1.4M124.7 383.5h1.4M223.3 403.8h1.4M216.0 405.3h1.4M224.7 406.7h1.4M224.7 408.2h1.4M221.8 409.6h1.4M217.5 411.1h1.4M214.6 415.4h1.4" stroke="#ff9800" stroke-width="1.50" fill="none"/><path d="M116.0 367.6h1.4M121.8 369.0h1.4M126.2 371.9h1.4M118.9 373.4h1.4M123.3 373.4h1.4M130.5 376.3h1.4M137.8 379.2h1.4M116.0 380.6h1.4M227.6 402.4h1.4M223.3 406.7h1.4M213.1 408.2h1.4M221.8 408.2h1.4" stroke="#ffc800" stroke-width="1.50" fill="none"/><path d="M113.1 370.5h1.4M120.4 382.1h2.9M214.6 403.8h1.4M224.7 405.3h1.4" stroke="#ff7d00" stroke-width="1.50" fill="none"/><path d="M81.8 341.5L84.0 338.2L88.6 337.6L89.1 339.9L85.7 341.5L84.0 344.4L85.2 347.8L86.3 352.3L90.8 354.5L95.3 355.7L98.7 357.9L99.8 356.8L101.0 362.4L105.5 363.6L110.0 363.0L115.7 362.4L122.4 361.3L126.9 363.6L130.3 367.0L133.7 369.2L134.9 371.5L139.4 373.7L143.9 376.6L141.6 379.4L138.2 381.6L134.9 385.0L131.5 383.9L126.9 385.0L122.4 384.5L117.9 386.7L114.5 385.0L111.1 381.6L106.6 381.1L103.2 379.4L101.0 376.0L99.8 371.5L98.7 368.1L95.3 365.8L93.1 362.4L90.8 361.3L88.6 363.6L87.4 367.0L84.0 369.2L81.8 373.7L78.4 373.7L75.0 370.3L78.4 369.2L81.8 366.4L85.2 364.7L88.6 362.4L87.4 359.1L85.2 355.7L82.3 353.4L81.2 348.9L82.9 345.5Z" fill="none" stroke="#000" stroke-width="1.5" stroke-linejoin="round"/><path d="M237.3 390.3L240.6 392.6L237.3 397.1L236.1 402.7L232.7 407.3L235.0 411.8L232.7 417.4L229.4 420.8L224.8 423.1L219.2 420.8L214.7 423.1L212.4 427.6L207.9 428.7L204.5 432.7L202.8 427.6L203.4 421.9L200.0 418.6L198.9 412.9L200.0 407.3L202.2 403.3L206.8 402.2L209.0 405.0L214.7 403.9L219.2 401.6L224.8 399.9L229.4 400.5L231.0 396.0L233.9 392.6Z" fill="none" stroke="#000" stroke-width="1.5" stroke-linejoin="round"/><path d="M261.5 415.2L265.5 413.5L271.1 415.2L276.8 419.7L282.4 423.1L288.1 426.5L292.6 431.5L289.2 435.5L284.7 437.8L282.4 443.4L281.3 449.1L276.8 450.7L273.4 449.1L271.1 445.7L271.7 440.0L270.0 434.4L266.6 440.0L262.1 446.8L259.8 445.7L264.4 441.1L267.7 435.5L269.4 429.9L268.9 424.2L265.5 419.7L262.1 418.0Z" fill="none" stroke="#000" stroke-width="1.5" stroke-linejoin="round"/><path d="M341.2 466.0L345.7 469.4L350.2 472.8L346.8 477.3L343.4 481.8L340.0 486.3L338.9 491.4L333.2 494.2L329.9 493.1L331.0 498.7L336.6 503.3L334.4 508.9L329.9 510.0L328.7 515.7L326.5 520.2L320.8 524.7L316.3 523.6L312.9 521.3L315.2 516.8L316.3 511.2L319.7 507.8L317.4 503.3L322.0 498.7L325.3 494.2L320.8 493.1L319.7 489.7L322.0 484.1L327.6 479.5L332.1 478.4L336.6 473.9L338.9 470.5Z" fill="none" stroke="#000" stroke-width="1.5" stroke-linejoin="round"/><path d="M300.5 520.2L305.0 515.7L309.5 513.4L311.8 515.7L307.3 519.1L303.9 521.3Z" fill="none" stroke="#000" stroke-width="1.5" stroke-linejoin="round"/><path d="M129.2 316.1L133.7 317.3L139.4 320.7L143.3 323.5L140.5 325.7L136.0 324.0L131.5 323.5L129.2 320.7Z" fill="none" stroke="#000" stroke-width="1.5" stroke-linejoin="round"/><path d="M174.4 346.6L178.9 347.8L181.2 351.1L177.8 352.3L175.5 350.0Z" fill="none" stroke="#000" stroke-width="1.5" stroke-linejoin="round"/><path d="M149.5 376.0L155.2 372.6L163.1 370.9L163.7 373.2L157.4 375.4L155.2 380.5L151.8 380.5Z" fill="none" stroke="#000" stroke-width="1.5" stroke-linejoin="round"/><path d="M250.2 400.5L255.3 402.2L253.6 407.3L251.4 409.5Z" fill="none" stroke="#000" stroke-width="1.5" stroke-linejoin="round"/><path d="M12.9 296.9L16.3 298.1L17.4 303.7L21.9 306.0L25.9 308.8L23.1 312.7L23.1 317.3L20.8 322.9L16.3 321.8L15.1 316.1L17.4 312.7L15.1 308.2L12.9 307.1Z" fill="none" stroke="#000" stroke-width="1.5" stroke-linejoin="round"/><path d="M20.2 350.6L25.3 351.7L28.1 355.1L25.9 357.9L21.9 355.7Z" fill="none" stroke="#000" stroke-width="1.5" stroke-linejoin="round"/><path d="M325.3 538.3L328.7 537.1L329.9 541.7L326.5 546.2L323.1 547.3Z" fill="none" stroke="#000" stroke-width="1.5" stroke-linejoin="round"/><circle cx="15.7" cy="343.2" r="1.3" fill="#2a4aff" stroke="#000" stroke-width="1.2"/><circle cx="24.2" cy="342.7" r="1.1" fill="#000"/><circle cx="20.8" cy="331.9" r="0.9" fill="#2a4aff" stroke="#000" stroke-width="1.2"/><circle cx="14.0" cy="322.9" r="1.4" fill="#000"/><circle cx="145.6" cy="379.4" r="1.2" fill="#2a4aff" stroke="#000" stroke-width="1.2"/><circle cx="148.4" cy="369.2" r="0.9" fill="#2a4aff" stroke="#000" stroke-width="1.2"/><circle cx="145.0" cy="364.1" r="1.1" fill="#000"/><circle cx="154.6" cy="364.1" r="1.0" fill="#000"/><circle cx="139.9" cy="355.7" r="1.0" fill="#000"/><circle cx="99.8" cy="391.2" r="1.1" fill="#2a4aff" stroke="#000" stroke-width="1.2"/><circle cx="99.8" cy="399.1" r="0.9" fill="#2a4aff" stroke="#000" stroke-width="1.2"/><circle cx="98.7" cy="385.0" r="1.3" fill="#2a4aff" stroke="#000" stroke-width="1.2"/><circle cx="110.0" cy="382.8" r="1.1" fill="#000"/><circle cx="174.4" cy="398.6" r="1.3" fill="#2a4aff" stroke="#000" stroke-width="1.2"/><circle cx="164.2" cy="433.6" r="0.9" fill="#2a4aff" stroke="#000" stroke-width="1.2"/><circle cx="167.6" cy="427.4" r="1.2" fill="#000"/><circle cx="165.9" cy="402.0" r="1.1" fill="#000"/><circle cx="163.7" cy="395.2" r="0.9" fill="#000"/><circle cx="178.3" cy="389.5" r="0.9" fill="#000"/><circle cx="183.4" cy="413.8" r="1.2" fill="#2a4aff" stroke="#000" stroke-width="1.2"/><circle cx="189.1" cy="413.3" r="1.0" fill="#000"/><circle cx="194.7" cy="414.4" r="0.9" fill="#2a4aff" stroke="#000" stroke-width="1.2"/><circle cx="167.6" cy="415.5" r="1.4" fill="#000"/><circle cx="174.9" cy="417.2" r="0.9" fill="#000"/><circle cx="191.3" cy="436.4" r="1.2" fill="#2a4aff" stroke="#000" stroke-width="1.2"/><circle cx="187.4" cy="441.5" r="1.4" fill="#000"/><circle cx="199.2" cy="442.6" r="1.1" fill="#2a4aff" stroke="#000" stroke-width="1.2"/><circle cx="183.4" cy="448.3" r="1.4" fill="#2a4aff" stroke="#000" stroke-width="1.2"/><circle cx="194.7" cy="452.2" r="1.4" fill="#000"/><circle cx="186.8" cy="455.0" r="0.9" fill="#2a4aff" stroke="#000" stroke-width="1.2"/><circle cx="176.6" cy="454.5" r="0.9" fill="#000"/><circle cx="184.5" cy="355.7" r="1.4" fill="#000"/><circle cx="190.8" cy="359.6" r="1.2" fill="#000"/><circle cx="184.5" cy="361.3" r="1.0" fill="#000"/><circle cx="165.3" cy="380.5" r="0.9" fill="#000"/><circle cx="174.0" cy="398.8" r="1.2" fill="#2a4aff" stroke="#000" stroke-width="1.2"/><circle cx="178.5" cy="389.8" r="0.9" fill="#000"/><circle cx="183.6" cy="413.5" r="0.9" fill="#2a4aff" stroke="#000" stroke-width="1.2"/><circle cx="189.3" cy="412.9" r="1.0" fill="#000"/><circle cx="195.5" cy="414.0" r="1.4" fill="#000"/><circle cx="174.6" cy="417.4" r="0.9" fill="#000"/><circle cx="191.5" cy="436.1" r="1.1" fill="#2a4aff" stroke="#000" stroke-width="1.2"/><circle cx="199.4" cy="442.8" r="1.1" fill="#2a4aff" stroke="#000" stroke-width="1.2"/><circle cx="187.0" cy="441.7" r="1.1" fill="#000"/><circle cx="183.1" cy="447.9" r="1.2" fill="#2a4aff" stroke="#000" stroke-width="1.2"/><circle cx="194.9" cy="451.9" r="1.4" fill="#000"/><circle cx="187.0" cy="454.7" r="1.4" fill="#000"/><circle cx="176.8" cy="454.1" r="1.0" fill="#000"/><circle cx="203.9" cy="432.1" r="1.4" fill="#000"/><circle cx="223.1" cy="425.3" r="1.4" fill="#000"/><circle cx="232.7" cy="425.9" r="1.0" fill="#000"/><circle cx="238.4" cy="416.3" r="1.0" fill="#000"/><circle cx="250.2" cy="416.3" r="0.9" fill="#2a4aff" stroke="#000" stroke-width="1.2"/><circle cx="237.3" cy="405.6" r="0.9" fill="#2a4aff" stroke="#000" stroke-width="1.2"/><circle cx="217.5" cy="393.7" r="0.9" fill="#000"/><circle cx="214.1" cy="396.0" r="0.9" fill="#000"/><circle cx="210.7" cy="398.2" r="0.9" fill="#000"/><circle cx="255.3" cy="434.9" r="0.9" fill="#2a4aff" stroke="#000" stroke-width="1.2"/><circle cx="253.1" cy="445.1" r="0.9" fill="#2a4aff" stroke="#000" stroke-width="1.2"/><circle cx="262.1" cy="434.9" r="1.4" fill="#000"/><circle cx="275.1" cy="451.3" r="1.4" fill="#000"/><circle cx="284.7" cy="454.7" r="0.9" fill="#2a4aff" stroke="#000" stroke-width="1.2"/><circle cx="281.3" cy="453.6" r="1.1" fill="#000"/><circle cx="294.9" cy="460.3" r="0.9" fill="#2a4aff" stroke="#000" stroke-width="1.2"/><circle cx="301.6" cy="458.7" r="1.1" fill="#2a4aff" stroke="#000" stroke-width="1.2"/><circle cx="293.7" cy="466.0" r="1.1" fill="#000"/><circle cx="306.1" cy="469.4" r="0.9" fill="#2a4aff" stroke="#000" stroke-width="1.2"/><circle cx="319.7" cy="463.7" r="1.4" fill="#000"/><circle cx="325.9" cy="460.9" r="1.2" fill="#000"/><circle cx="331.0" cy="462.6" r="0.9" fill="#2a4aff" stroke="#000" stroke-width="1.2"/><circle cx="322.0" cy="469.4" r="0.9" fill="#2a4aff" stroke="#000" stroke-width="1.2"/><circle cx="315.2" cy="450.7" r="1.0" fill="#000"/><circle cx="310.7" cy="452.4" r="0.9" fill="#000"/><circle cx="281.9" cy="472.8" r="1.1" fill="#000"/><circle cx="305.0" cy="480.7" r="1.4" fill="#000"/><circle cx="253.6" cy="468.2" r="1.4" fill="#000"/><circle cx="250.2" cy="469.4" r="0.9" fill="#000"/><circle cx="276.2" cy="502.7" r="1.2" fill="#2a4aff" stroke="#000" stroke-width="1.2"/><circle cx="270.0" cy="498.7" r="0.9" fill="#000"/><circle cx="288.1" cy="494.2" r="1.0" fill="#000"/><circle cx="249.7" cy="492.0" r="1.0" fill="#000"/><circle cx="254.8" cy="495.4" r="0.9" fill="#000"/><circle cx="251.4" cy="488.6" r="0.9" fill="#000"/><circle cx="301.1" cy="525.8" r="1.4" fill="#000"/><circle cx="297.1" cy="536.0" r="1.0" fill="#000"/><circle cx="291.5" cy="536.6" r="1.0" fill="#000"/><circle cx="307.3" cy="534.9" r="1.4" fill="#000"/><circle cx="312.4" cy="531.5" r="0.9" fill="#2a4aff" stroke="#000" stroke-width="1.2"/><circle cx="315.2" cy="525.8" r="1.1" fill="#000"/><circle cx="332.1" cy="516.8" r="1.0" fill="#000"/><circle cx="334.9" cy="516.8" r="0.9" fill="#000"/><circle cx="328.2" cy="523.6" r="1.0" fill="#000"/><circle cx="309.0" cy="547.9" r="1.1" fill="#000"/><circle cx="324.2" cy="547.9" r="1.4" fill="#000"/><circle cx="344.0" cy="488.6" r="1.0" fill="#000"/><circle cx="345.7" cy="481.2" r="1.0" fill="#000"/><path d="M155.2 381.0h1.4M77.5 366.4h1.4M118.7 342.3h1.4M169.3 363.4h1.4M83.2 364.3h1.4M139.5 367.8h1.4" stroke="#88e888" stroke-width="1.45" fill="none"/><path d="M308.5 503.9h1.4M332.4 508.6h1.4M311.4 526.1h1.4M267.4 502.4h1.4M263.0 430.2h1.4M336.0 440.5h1.4M299.3 494.9h1.4M269.0 446.5h1.4M305.6 499.1h1.4M274.1 514.6h1.4M292.0 424.7h1.4M322.5 518.3h1.4M300.4 458.6h1.4M245.1 425.3h1.4M253.1 434.5h1.4M277.9 449.7h1.4M322.3 511.6h1.4M250.0 447.7h1.4M341.0 447.6h1.4M274.4 444.4h1.4M327.9 487.8h1.4M298.7 456.8h1.4" stroke="#88e888" stroke-width="1.45" fill="none"/><use href="#grid"/><use href="#coast"/><use href="#swath"/><use href="#labels"/><use href="#cross"/><text class="tt" x="36.8" y="66.2">PR max reflectivity projection (dBZ)</text><text class="lt" x="439.5" y="523">(b)</text><rect x="495.2" y="531.37" width="8.8" height="8.77" fill="#f8f8f8"/><rect x="495.2" y="522.90" width="8.8" height="8.77" fill="#f1f1f1"/><rect x="495.2" y="514.44" width="8.8" height="8.77" fill="#e9e9e9"/><rect x="495.2" y="505.97" width="8.8" height="8.77" fill="#e2e2e2"/><rect x="495.2" y="497.51" width="8.8" height="8.77" fill="#dadada"/><rect x="495.2" y="489.04" width="8.8" height="8.77" fill="#d3d3d3"/><rect x="495.2" y="480.58" width="8.8" height="8.77" fill="#cccccc"/><rect x="495.2" y="472.11" width="8.8" height="8.77" fill="#c4c4c4"/><rect x="495.2" y="463.65" width="8.8" height="8.77" fill="#bdbdbd"/><rect x="495.2" y="455.18" width="8.8" height="8.77" fill="#b6b6b6"/><rect x="495.2" y="446.72" width="8.8" height="8.77" fill="#aeaeae"/><rect x="495.2" y="438.25" width="8.8" height="8.77" fill="#a7a7a7"/><rect x="495.2" y="429.79" width="8.8" height="8.77" fill="#9f9f9f"/><rect x="495.2" y="421.32" width="8.8" height="8.77" fill="#989898"/><rect x="495.2" y="412.86" width="8.8" height="8.77" fill="#88e888"/><rect x="495.2" y="404.39" width="8.8" height="8.77" fill="#80dc80"/><rect x="495.2" y="395.93" width="8.8" height="8.77" fill="#78d078"/><rect x="495.2" y="387.46" width="8.8" height="8.77" fill="#70c870"/><rect x="495.2" y="379.00" width="8.8" height="8.77" fill="#6abf6a"/><rect x="495.2" y="370.53" width="8.8" height="8.77" fill="#d0d4ff"/><rect x="495.2" y="362.07" width="8.8" height="8.77" fill="#b4ccff"/><rect x="495.2" y="353.60" width="8.8" height="8.77" fill="#9cc4ff"/><rect x="495.2" y="345.14" width="8.8" height="8.77" fill="#80bcff"/><rect x="495.2" y="336.67" width="8.8" height="8.77" fill="#6cb8ff"/><rect x="495.2" y="328.21" width="8.8" height="8.77" fill="#54acff"/><rect x="495.2" y="319.74" width="8.8" height="8.77" fill="#4c8cff"/><rect x="495.2" y="311.28" width="8.8" height="8.77" fill="#4870ff"/><rect x="495.2" y="302.81" width="8.8" height="8.77" fill="#4050ff"/><rect x="495.2" y="294.35" width="8.8" height="8.77" fill="#3030ff"/><rect x="495.2" y="285.88" width="8.8" height="8.77" fill="#0000ff"/><rect x="495.2" y="277.42" width="8.8" height="8.77" fill="#0000f0"/><rect x="495.2" y="268.95" width="8.8" height="8.77" fill="#0000e0"/><rect x="495.2" y="260.49" width="8.8" height="8.77" fill="#0000d2"/><rect x="495.2" y="252.02" width="8.8" height="8.77" fill="#0000c8"/><rect x="495.2" y="243.56" width="8.8" height="8.77" fill="#ffff00"/><rect x="495.2" y="235.09" width="8.8" height="8.77" fill="#fff000"/><rect x="495.2" y="226.63" width="8.8" height="8.77" fill="#ffe000"/><rect x="495.2" y="218.16" width="8.8" height="8.77" fill="#ffd400"/><rect x="495.2" y="209.70" width="8.8" height="8.77" fill="#ffc800"/><rect x="495.2" y="201.23" width="8.8" height="8.77" fill="#ff9800"/><rect x="495.2" y="192.77" width="8.8" height="8.77" fill="#ff8e00"/><rect x="495.2" y="184.30" width="8.8" height="8.77" fill="#ff8500"/><rect x="495.2" y="175.84" width="8.8" height="8.77" fill="#ff7d00"/><rect x="495.2" y="167.37" width="8.8" height="8.77" fill="#ff7300"/><rect x="495.2" y="158.91" width="8.8" height="8.77" fill="#ff4500"/><rect x="495.2" y="150.44" width="8.8" height="8.77" fill="#ff3a00"/><rect x="495.2" y="141.98" width="8.8" height="8.77" fill="#ff2e00"/><rect x="495.2" y="133.51" width="8.8" height="8.77" fill="#ff2200"/><rect x="495.2" y="125.05" width="8.8" height="8.77" fill="#ff1a00"/><rect x="495.2" y="116.58" width="8.8" height="8.77" fill="#c40000"/><rect x="495.2" y="108.12" width="8.8" height="8.77" fill="#c00000"/><rect x="495.2" y="99.65" width="8.8" height="8.77" fill="#b40500"/><rect x="495.2" y="91.19" width="8.8" height="8.77" fill="#a90d00"/><rect x="495.2" y="82.72" width="8.8" height="8.77" fill="#a31200"/><rect x="495.2" y="74.26" width="8.8" height="8.77" fill="#5e0f07"/><rect x="495.2" y="65.79" width="8.8" height="8.77" fill="#5e130c"/><rect x="495.2" y="57.33" width="8.8" height="8.77" fill="#5c1510"/><rect x="495.2" y="48.86" width="8.8" height="8.77" fill="#5a1713"/><rect x="495.2" y="40.40" width="8.8" height="8.77" fill="#5a1a17"/><path d="M504.0 548.30h2.4" stroke="#000" stroke-width="1"/><text class="tk" text-anchor="middle" x="524.0" y="556.70">0</text><path d="M504.0 497.51h2.4" stroke="#000" stroke-width="1"/><text class="tk" text-anchor="middle" x="524.0" y="505.91">6</text><path d="M504.0 446.72h2.4" stroke="#000" stroke-width="1"/><text class="tk" text-anchor="middle" x="524.0" y="455.12">12</text><path d="M504.0 395.93h2.4" stroke="#000" stroke-width="1"/><text class="tk" text-anchor="middle" x="524.0" y="404.33">18</text><path d="M504.0 345.14h2.4" stroke="#000" stroke-width="1"/><text class="tk" text-anchor="middle" x="524.0" y="353.54">24</text><path d="M504.0 294.35h2.4" stroke="#000" stroke-width="1"/><text class="tk" text-anchor="middle" x="524.0" y="302.75">30</text><path d="M504.0 243.56h2.4" stroke="#000" stroke-width="1"/><text class="tk" text-anchor="middle" x="524.0" y="251.96">36</text><path d="M504.0 192.77h2.4" stroke="#000" stroke-width="1"/><text class="tk" text-anchor="middle" x="524.0" y="201.17">42</text><path d="M504.0 141.98h2.4" stroke="#000" stroke-width="1"/><text class="tk" text-anchor="middle" x="524.0" y="150.38">48</text><path d="M504.0 91.19h2.4" stroke="#000" stroke-width="1"/><text class="tk" text-anchor="middle" x="524.0" y="99.59">54</text></g>
<g transform="translate(1181.0 0.0)"><path d="M84.1 338.6h1.4M91.4 357.4h1.4M94.3 358.9h1.4M95.7 360.3h1.4M91.4 361.8h1.4M97.2 361.8h1.4M103.0 363.2h1.4M121.8 363.2h1.4M100.1 364.7h1.4M120.4 364.7h1.4M103.0 366.1h5.8M117.5 366.1h1.4M120.4 366.1h2.9M100.1 367.6h1.4M104.4 367.6h1.4M107.3 367.6h1.4M110.2 367.6h1.4M113.1 367.6h1.4M103.0 369.0h2.9M116.0 369.0h1.4M121.8 369.0h1.4M124.7 369.0h2.9M78.3 370.5h1.4M100.1 370.5h2.9M104.4 370.5h4.3M114.6 370.5h1.4M118.9 370.5h1.4M132.0 370.5h1.4M100.1 371.9h1.4M103.0 371.9h1.4M105.9 371.9h2.9M117.5 371.9h1.4M124.7 371.9h2.9M105.9 373.4h1.4M108.8 373.4h2.9M124.7 373.4h5.8M132.0 373.4h1.4M103.0 374.8h1.4M105.9 374.8h1.4M108.8 374.8h2.9M114.6 374.8h2.9M123.3 374.8h1.4M126.2 374.8h1.4M132.0 374.8h2.9M137.8 374.8h1.4M105.9 376.3h1.4M108.8 376.3h1.4M116.0 376.3h2.9M129.1 376.3h5.8M139.2 376.3h2.9M104.4 377.7h1.4M108.8 377.7h2.9M114.6 377.7h1.4M118.9 377.7h2.9M123.3 377.7h1.4M127.6 377.7h4.3M136.3 377.7h1.4M108.8 379.2h2.9M114.6 379.2h1.4M117.5 379.2h2.9M121.8 379.2h4.3M132.0 379.2h2.9M113.1 380.6h5.8M121.8 380.6h1.4M124.7 380.6h2.9M129.1 380.6h2.9M116.0 382.1h1.4M120.4 382.1h1.4M126.2 383.5h1.4M133.4 383.5h1.4M116.0 385.0h1.4M232.0 396.6h1.4M230.5 398.0h1.4M226.2 400.9h1.4M233.4 400.9h1.4M229.1 402.4h1.4M220.4 403.8h1.4M224.7 403.8h1.4M227.6 403.8h2.9M204.4 405.3h2.9M226.2 405.3h1.4M204.4 406.7h1.4M220.4 406.7h1.4M223.3 406.7h1.4M226.2 406.7h2.9M205.9 408.2h1.4M214.6 408.2h1.4M217.5 408.2h4.3M224.7 408.2h4.3M232.0 408.2h1.4M203.0 409.6h4.3M213.1 409.6h1.4M220.4 409.6h1.4M224.7 409.6h1.4M227.6 409.6h2.9M200.1 411.1h1.4M205.9 411.1h2.9M210.2 411.1h2.9M214.6 411.1h2.9M220.4 411.1h1.4M226.2 411.1h4.3M201.5 412.5h1.4M204.4 412.5h1.4M207.3 412.5h1.4M210.2 412.5h2.9M216.0 412.5h1.4M223.3 412.5h4.3M230.5 412.5h1.4M200.1 414.0h2.9M204.4 414.0h1.4M211.7 414.0h1.4M214.6 414.0h1.4M217.5 414.0h2.9M201.5 415.4h1.4M210.2 415.4h1.4M213.1 415.4h2.9M218.9 415.4h1.4M221.8 415.4h4.3M227.6 415.4h1.4M205.9 416.9h8.7M217.5 416.9h1.4M220.4 416.9h5.8M227.6 416.9h1.4M207.3 418.3h2.9M213.1 418.3h2.9M207.3 419.8h1.4M211.7 419.8h1.4M217.5 419.8h1.4M227.6 419.8h1.4M204.4 421.2h2.9M210.2 421.2h1.4M213.1 421.2h1.4M223.3 421.2h1.4M205.9 422.7h1.4M208.8 422.7h1.4M223.3 422.7h1.4M208.8 424.1h1.4M204.4 425.6h1.4M208.8 425.6h1.4M204.4 428.5h1.4M133.4 322.6h1.4M140.6 324.1h1.4M176.9 348.7h2.9M176.9 351.6h1.4M153.7 373.4h1.4M158.0 374.8h1.4M155.1 377.7h1.4M14.5 298.0h1.4M13.0 303.8h1.4M13.0 305.2h1.4M13.0 306.7h1.4M21.7 306.7h1.4M14.5 308.1h1.4M21.7 308.1h1.4M18.8 309.6h1.4M21.7 309.6h1.4M20.3 311.0h1.4M18.8 312.5h1.4M21.7 312.5h1.4M17.4 316.8h1.4M20.3 318.3h1.4M15.9 319.7h1.4M18.8 319.7h1.4M15.9 321.2h1.4M18.8 321.2h1.4M23.2 351.6h1.4M21.7 354.5h1.4M26.1 354.5h1.4" stroke="#78d078" stroke-width="1.50" fill="none"/><path d="M85.6 338.6h2.9M82.7 340.0h5.8M81.2 341.5h1.4M82.7 342.9h1.4M82.7 344.4h1.4M82.7 345.8h1.4M82.7 347.3h2.9M81.2 348.7h4.3M81.2 350.2h1.4M84.1 350.2h1.4M81.2 351.6h2.9M82.7 353.1h5.8M84.1 354.5h2.9M88.5 354.5h2.9M85.6 356.0h5.8M94.3 356.0h1.4M87.0 357.4h1.4M94.3 357.4h4.3M87.0 358.9h1.4M91.4 358.9h1.4M97.2 358.9h2.9M88.5 360.3h7.2M88.5 361.8h1.4M92.8 361.8h4.3M98.6 361.8h2.9M120.4 361.8h2.9M87.0 363.2h1.4M95.7 363.2h1.4M100.1 363.2h2.9M108.8 363.2h8.7M118.9 363.2h1.4M123.3 363.2h1.4M85.6 364.7h2.9M97.2 364.7h1.4M101.5 364.7h1.4M104.4 364.7h7.2M113.1 364.7h4.3M121.8 364.7h1.4M126.2 364.7h1.4M82.7 366.1h4.3M95.7 366.1h7.2M108.8 366.1h2.9M113.1 366.1h1.4M116.0 366.1h1.4M126.2 366.1h2.9M79.8 367.6h2.9M84.1 367.6h2.9M98.6 367.6h1.4M129.1 367.6h2.9M78.3 369.0h1.4M81.2 369.0h2.9M98.6 369.0h4.3M105.9 369.0h1.4M127.6 369.0h5.8M75.4 370.5h1.4M79.8 370.5h4.3M126.2 370.5h1.4M129.1 370.5h1.4M133.4 370.5h1.4M76.9 371.9h2.9M101.5 371.9h1.4M129.1 371.9h7.2M78.3 373.4h4.3M101.5 373.4h1.4M133.4 373.4h5.8M100.1 374.8h1.4M111.7 374.8h1.4M130.5 374.8h1.4M134.9 374.8h2.9M139.2 374.8h1.4M103.0 376.3h1.4M107.3 376.3h1.4M113.1 376.3h1.4M137.8 376.3h1.4M142.1 376.3h1.4M101.5 377.7h2.9M105.9 377.7h2.9M134.9 377.7h1.4M137.8 377.7h1.4M142.1 377.7h1.4M103.0 379.2h2.9M107.3 379.2h1.4M111.7 379.2h2.9M137.8 379.2h4.3M105.9 380.6h4.3M118.9 380.6h1.4M132.0 380.6h7.2M111.7 382.1h4.3M118.9 382.1h1.4M124.7 382.1h1.4M132.0 382.1h1.4M136.3 382.1h1.4M113.1 383.5h2.9M117.5 383.5h5.8M124.7 383.5h1.4M127.6 383.5h2.9M132.0 383.5h1.4M134.9 383.5h1.4M118.9 385.0h2.9M126.2 385.0h1.4M117.5 386.4h1.4M234.9 392.2h1.4M237.8 392.2h2.9M233.4 393.7h2.9M237.8 393.7h1.4M232.0 395.1h7.2M230.5 396.6h1.4M233.4 396.6h2.9M232.0 398.0h4.3M229.1 399.5h5.8M221.8 400.9h2.9M227.6 400.9h4.3M234.9 400.9h1.4M217.5 402.4h1.4M223.3 402.4h2.9M227.6 402.4h1.4M232.0 402.4h4.3M201.5 403.8h7.2M214.6 403.8h2.9M226.2 403.8h1.4M230.5 403.8h2.9M201.5 405.3h2.9M207.3 405.3h2.9M217.5 405.3h1.4M230.5 405.3h4.3M200.1 406.7h4.3M207.3 406.7h1.4M210.2 406.7h1.4M213.1 406.7h4.3M230.5 406.7h1.4M201.5 408.2h1.4M204.4 408.2h1.4M207.3 408.2h4.3M213.1 408.2h1.4M229.1 408.2h2.9M200.1 409.6h2.9M208.8 409.6h1.4M214.6 409.6h1.4M232.0 409.6h1.4M198.6 411.1h1.4M201.5 411.1h1.4M230.5 411.1h1.4M233.4 411.1h1.4M198.6 412.5h2.9M232.0 412.5h2.9M198.6 414.0h1.4M227.6 414.0h1.4M230.5 414.0h1.4M198.6 415.4h2.9M226.2 415.4h1.4M232.0 415.4h1.4M200.1 416.9h1.4M229.1 416.9h4.3M200.1 418.3h2.9M204.4 418.3h1.4M220.4 418.3h4.3M229.1 418.3h2.9M201.5 419.8h1.4M204.4 419.8h2.9M214.6 419.8h2.9M218.9 419.8h1.4M223.3 419.8h2.9M229.1 419.8h1.4M203.0 421.2h1.4M214.6 421.2h2.9M220.4 421.2h1.4M227.6 421.2h1.4M203.0 422.7h2.9M213.1 422.7h2.9M203.0 424.1h1.4M205.9 424.1h1.4M210.2 424.1h4.3M207.3 425.6h1.4M211.7 425.6h1.4M203.0 427.0h1.4M205.9 427.0h5.8M205.9 428.5h2.9M203.0 429.9h4.3M204.4 431.4h1.4M129.0 318.3h4.3M131.9 319.7h4.3M129.0 321.2h1.4M133.4 321.2h1.4M136.3 321.2h2.9M130.5 322.6h2.9M136.3 322.6h2.9M140.6 322.6h1.4M137.7 324.1h2.9M174.0 347.3h2.9M176.9 350.2h1.4M178.3 351.6h1.4M158.0 371.9h4.3M155.1 373.4h1.4M158.0 373.4h1.4M155.1 374.8h2.9M149.3 376.3h7.2M150.8 377.7h4.3M152.2 379.2h2.9M13.0 298.0h1.4M13.0 299.4h1.4M13.0 300.9h1.4M15.9 300.9h1.4M13.0 302.3h4.3M14.5 303.8h1.4M15.9 305.2h4.3M14.5 306.7h1.4M15.9 308.1h5.8M23.2 308.1h1.4M15.9 309.6h2.9M15.9 311.0h4.3M21.7 311.0h2.9M17.4 312.5h1.4M20.3 312.5h1.4M15.9 313.9h5.8M15.9 315.4h2.9M20.3 315.4h2.9M15.9 316.8h1.4M18.8 316.8h4.3M17.4 319.7h1.4M20.3 319.7h1.4M17.4 321.2h1.4M20.3 321.2h1.4M21.7 353.1h4.3M23.2 354.5h2.9M21.7 356.0h2.9M26.1 356.0h1.4M24.6 357.4h1.4" stroke="#88e888" stroke-width="1.50" fill="none"/><path d="M82.7 341.5h2.9M84.1 342.9h1.4M82.7 350.2h1.4M84.1 351.6h1.4M87.0 354.5h1.4M91.4 356.0h2.9M88.5 357.4h2.9M92.8 357.4h1.4M98.6 357.4h1.4M88.5 358.9h2.9M92.8 358.9h1.4M95.7 358.9h1.4M98.6 360.3h1.4M94.3 363.2h1.4M97.2 363.2h2.9M117.5 363.2h1.4M120.4 363.2h1.4M124.7 363.2h1.4M94.3 364.7h2.9M98.6 364.7h1.4M103.0 364.7h1.4M123.3 364.7h2.9M111.7 366.1h1.4M123.3 366.1h2.9M82.7 367.6h1.4M101.5 367.6h1.4M105.9 367.6h1.4M118.9 367.6h10.2M79.8 369.0h1.4M107.3 369.0h1.4M111.7 369.0h1.4M76.9 370.5h1.4M103.0 370.5h1.4M108.8 370.5h1.4M127.6 370.5h1.4M79.8 371.9h2.9M116.0 371.9h1.4M127.6 371.9h1.4M100.1 373.4h1.4M103.0 373.4h2.9M130.5 373.4h1.4M101.5 374.8h1.4M104.4 374.8h1.4M113.1 374.8h1.4M101.5 376.3h1.4M104.4 376.3h1.4M110.2 376.3h2.9M114.6 376.3h1.4M111.7 377.7h1.4M121.8 377.7h1.4M124.7 377.7h2.9M132.0 377.7h1.4M139.2 377.7h2.9M105.9 379.2h1.4M116.0 379.2h1.4M136.3 379.2h1.4M110.2 380.6h2.9M120.4 380.6h1.4M127.6 380.6h1.4M117.5 382.1h1.4M121.8 382.1h1.4M133.4 382.1h2.9M116.0 383.5h1.4M123.3 383.5h1.4M130.5 383.5h1.4M114.6 385.0h1.4M117.5 385.0h1.4M236.3 390.8h1.4M236.3 392.2h1.4M236.3 393.7h1.4M236.3 396.6h1.4M234.9 399.5h1.4M224.7 400.9h1.4M232.0 400.9h1.4M205.9 402.4h1.4M220.4 402.4h2.9M226.2 402.4h1.4M230.5 402.4h1.4M218.9 403.8h1.4M233.4 403.8h1.4M210.2 405.3h4.3M221.8 405.3h2.9M229.1 405.3h1.4M205.9 406.7h1.4M208.8 406.7h1.4M211.7 406.7h1.4M218.9 406.7h1.4M229.1 406.7h1.4M232.0 406.7h1.4M200.1 408.2h1.4M203.0 408.2h1.4M211.7 408.2h1.4M203.0 411.1h2.9M232.0 411.1h1.4M203.0 412.5h1.4M227.6 412.5h2.9M203.0 414.0h1.4M226.2 414.0h1.4M229.1 414.0h1.4M232.0 414.0h1.4M203.0 415.4h1.4M216.0 415.4h1.4M229.1 415.4h2.9M201.5 416.9h1.4M204.4 416.9h1.4M214.6 416.9h2.9M203.0 418.3h1.4M205.9 418.3h1.4M211.7 418.3h1.4M216.0 418.3h4.3M224.7 418.3h4.3M203.0 419.8h1.4M210.2 419.8h1.4M213.1 419.8h1.4M220.4 419.8h2.9M226.2 419.8h1.4M207.3 421.2h2.9M211.7 421.2h1.4M217.5 421.2h1.4M221.8 421.2h1.4M224.7 421.2h2.9M207.3 422.7h1.4M210.2 422.7h2.9M224.7 422.7h1.4M204.4 424.1h1.4M207.3 424.1h1.4M203.0 425.6h1.4M205.9 425.6h1.4M210.2 425.6h1.4M204.4 427.0h1.4M211.7 427.0h1.4M203.0 428.5h1.4M129.0 316.8h2.9M133.4 318.3h1.4M130.5 319.7h1.4M136.3 319.7h1.4M130.5 321.2h2.9M134.8 321.2h1.4M139.2 321.2h1.4M134.8 322.6h1.4M139.2 322.6h1.4M136.3 324.1h1.4M175.4 350.2h1.4M178.3 350.2h1.4M162.4 371.9h1.4M156.6 373.4h1.4M159.5 373.4h2.9M150.8 374.8h1.4M153.7 374.8h1.4M150.8 379.2h1.4M14.5 299.4h1.4M14.5 300.9h1.4M15.9 303.8h1.4M14.5 305.2h1.4M15.9 306.7h5.8M20.3 309.6h1.4M21.7 313.9h1.4M18.8 315.4h1.4M15.9 318.3h4.3M21.7 318.3h1.4M20.3 351.6h2.9M24.6 356.0h1.4" stroke="#80dc80" stroke-width="1.50" fill="none"/><path d="M97.2 360.3h1.4M114.6 366.1h1.4M103.0 367.6h1.4M114.6 367.6h1.4M114.6 369.0h1.4M118.9 369.0h1.4M123.3 369.0h1.4M120.4 370.5h1.4M124.7 370.5h1.4M130.5 370.5h1.4M104.4 371.9h1.4M108.8 371.9h2.9M111.7 373.4h1.4M117.5 373.4h5.8M107.3 374.8h1.4M120.4 374.8h1.4M118.9 376.3h2.9M123.3 376.3h2.9M134.9 376.3h1.4M113.1 377.7h1.4M117.5 377.7h1.4M227.6 405.3h1.4M221.8 406.7h1.4M207.3 409.6h1.4M210.2 409.6h1.4M216.0 409.6h1.4M221.8 409.6h1.4M226.2 409.6h1.4M230.5 409.6h1.4M208.8 411.1h1.4M224.7 411.1h1.4M205.9 412.5h1.4M208.8 412.5h1.4M213.1 412.5h2.9M218.9 412.5h2.9M207.3 414.0h1.4M213.1 414.0h1.4M216.0 414.0h1.4M220.4 414.0h1.4M204.4 415.4h4.3M211.7 415.4h1.4M203.0 416.9h1.4M226.2 416.9h1.4M210.2 418.3h1.4M208.8 419.8h1.4M129.0 319.7h1.4M175.4 348.7h1.4M152.2 374.8h1.4M23.2 309.6h1.4" stroke="#70c870" stroke-width="1.50" fill="none"/><path d="M111.7 364.7h1.4M127.6 379.2h1.4M214.6 405.3h1.4M216.0 408.2h1.4M221.8 408.2h1.4M220.4 415.4h1.4" stroke="#80bcff" stroke-width="1.50" fill="none"/><path d="M117.5 364.7h1.4M126.2 379.2h1.4M129.1 382.1h1.4M223.3 414.0h1.4M217.5 415.4h1.4M218.9 416.9h1.4" stroke="#b4ccff" stroke-width="1.50" fill="none"/><path d="M118.9 364.7h1.4M114.6 371.9h1.4M129.1 374.8h1.4M126.2 376.3h1.4M116.0 377.7h1.4M130.5 379.2h1.4M224.7 406.7h1.4" stroke="#4870ff" stroke-width="1.50" fill="none"/><path d="M118.9 366.1h1.4M110.2 369.0h1.4M117.5 370.5h1.4M120.4 371.9h1.4M129.1 379.2h1.4M224.7 405.3h1.4M217.5 406.7h1.4" stroke="#4c8cff" stroke-width="1.50" fill="none"/><path d="M108.8 367.6h1.4M111.7 367.6h1.4M116.0 367.6h1.4M127.6 374.8h1.4M126.2 382.1h1.4M217.5 409.6h1.4" stroke="#0000e0" stroke-width="1.50" fill="none"/><path d="M117.5 367.6h1.4M123.3 371.9h1.4M133.4 377.7h1.4M217.5 403.8h1.4" stroke="#9cc4ff" stroke-width="1.50" fill="none"/><path d="M108.8 369.0h1.4M110.2 370.5h1.4M113.1 371.9h1.4M118.9 371.9h1.4M107.3 373.4h1.4M114.6 373.4h2.9M118.9 374.8h1.4M124.7 374.8h1.4M121.8 376.3h1.4M136.3 376.3h1.4M223.3 408.2h1.4M211.7 409.6h1.4M213.1 411.1h1.4M221.8 411.1h1.4M205.9 414.0h1.4M208.8 414.0h2.9M224.7 414.0h1.4M208.8 415.4h1.4" stroke="#6abf6a" stroke-width="1.50" fill="none"/><path d="M113.1 369.0h1.4M111.7 370.5h1.4M121.8 370.5h1.4M121.8 371.9h1.4M221.8 414.0h1.4" stroke="#0000f0" stroke-width="1.50" fill="none"/><path d="M117.5 369.0h1.4M120.4 369.0h1.4M120.4 379.2h1.4M218.9 402.4h1.4M221.8 403.8h1.4M218.9 409.6h1.4M223.3 409.6h1.4M218.9 411.1h1.4" stroke="#6cb8ff" stroke-width="1.50" fill="none"/><path d="M113.1 370.5h1.4M117.5 374.8h1.4M127.6 376.3h1.4M123.3 380.6h1.4M218.9 405.3h1.4" stroke="#0000ff" stroke-width="1.50" fill="none"/><path d="M116.0 370.5h1.4M223.3 411.1h1.4" stroke="#4050ff" stroke-width="1.50" fill="none"/><path d="M123.3 370.5h1.4M134.9 379.2h1.4M123.3 382.1h1.4M127.6 382.1h1.4M220.4 405.3h1.4" stroke="#54acff" stroke-width="1.50" fill="none"/><path d="M111.7 371.9h1.4M113.1 373.4h1.4M130.5 382.1h1.4M217.5 411.1h1.4M221.8 412.5h1.4" stroke="#d0d4ff" stroke-width="1.50" fill="none"/><path d="M123.3 373.4h1.4" stroke="#ffff00" stroke-width="1.50" fill="none"/><path d="M121.8 374.8h1.4M217.5 412.5h1.4" stroke="#3030ff" stroke-width="1.50" fill="none"/><path d="M223.3 403.8h1.4M216.0 405.3h1.4" stroke="#ffc800" stroke-width="1.50" fill="none"/><path d="M81.8 341.5L84.0 338.2L88.6 337.6L89.1 339.9L85.7 341.5L84.0 344.4L85.2 347.8L86.3 352.3L90.8 354.5L95.3 355.7L98.7 357.9L99.8 356.8L101.0 362.4L105.5 363.6L110.0 363.0L115.7 362.4L122.4 361.3L126.9 363.6L130.3 367.0L133.7 369.2L134.9 371.5L139.4 373.7L143.9 376.6L141.6 379.4L138.2 381.6L134.9 385.0L131.5 383.9L126.9 385.0L122.4 384.5L117.9 386.7L114.5 385.0L111.1 381.6L106.6 381.1L103.2 379.4L101.0 376.0L99.8 371.5L98.7 368.1L95.3 365.8L93.1 362.4L90.8 361.3L88.6 363.6L87.4 367.0L84.0 369.2L81.8 373.7L78.4 373.7L75.0 370.3L78.4 369.2L81.8 366.4L85.2 364.7L88.6 362.4L87.4 359.1L85.2 355.7L82.3 353.4L81.2 348.9L82.9 345.5Z" fill="none" stroke="#000" stroke-width="1.2" stroke-linejoin="round"/><path d="M237.3 390.3L240.6 392.6L237.3 397.1L236.1 402.7L232.7 407.3L235.0 411.8L232.7 417.4L229.4 420.8L224.8 423.1L219.2 420.8L214.7 423.1L212.4 427.6L207.9 428.7L204.5 432.7L202.8 427.6L203.4 421.9L200.0 418.6L198.9 412.9L200.0 407.3L202.2 403.3L206.8 402.2L209.0 405.0L214.7 403.9L219.2 401.6L224.8 399.9L229.4 400.5L231.0 396.0L233.9 392.6Z" fill="none" stroke="#000" stroke-width="1.2" stroke-linejoin="round"/><path d="M129.2 316.1L133.7 317.3L139.4 320.7L143.3 323.5L140.5 325.7L136.0 324.0L131.5 323.5L129.2 320.7Z" fill="none" stroke="#000" stroke-width="1.2" stroke-linejoin="round"/><path d="M174.4 346.6L178.9 347.8L181.2 351.1L177.8 352.3L175.5 350.0Z" fill="none" stroke="#000" stroke-width="1.2" stroke-linejoin="round"/><path d="M149.5 376.0L155.2 372.6L163.1 370.9L163.7 373.2L157.4 375.4L155.2 380.5L151.8 380.5Z" fill="none" stroke="#000" stroke-width="1.2" stroke-linejoin="round"/><path d="M12.9 296.9L16.3 298.1L17.4 303.7L21.9 306.0L25.9 308.8L23.1 312.7L23.1 317.3L20.8 322.9L16.3 321.8L15.1 316.1L17.4 312.7L15.1 308.2L12.9 307.1Z" fill="none" stroke="#000" stroke-width="1.2" stroke-linejoin="round"/><path d="M20.2 350.6L25.3 351.7L28.1 355.1L25.9 357.9L21.9 355.7Z" fill="none" stroke="#000" stroke-width="1.2" stroke-linejoin="round"/><ellipse cx="280.2" cy="441.1" rx="2.3" ry="1.5" fill="#88e888" stroke="#000" stroke-width="1" transform="rotate(7 280.2 441.1)"/><ellipse cx="275.2" cy="422.7" rx="1.9" ry="1.2" fill="#88e888" stroke="#000" stroke-width="1" transform="rotate(-33 275.2 422.7)"/><ellipse cx="273.2" cy="420.3" rx="2.4" ry="1.1" fill="#88e888" stroke="#000" stroke-width="1" transform="rotate(-51 273.2 420.3)"/><ellipse cx="269.6" cy="426.9" rx="1.3" ry="0.8" fill="#88e888" stroke="#000" stroke-width="1" transform="rotate(-22 269.6 426.9)"/><ellipse cx="286.6" cy="435.3" rx="2.0" ry="1.3" fill="#88e888" stroke="#000" stroke-width="1" transform="rotate(-15 286.6 435.3)"/><ellipse cx="286.7" cy="431.4" rx="1.5" ry="1.1" fill="#88e888" stroke="#000" stroke-width="1" transform="rotate(-53 286.7 431.4)"/><ellipse cx="273.1" cy="433.9" rx="1.7" ry="1.0" fill="#000" stroke="#000" stroke-width="1" transform="rotate(-3 273.1 433.9)"/><ellipse cx="271.5" cy="433.0" rx="2.2" ry="0.8" fill="#88e888" stroke="#000" stroke-width="1" transform="rotate(-13 271.5 433.0)"/><ellipse cx="271.0" cy="436.2" rx="2.5" ry="1.0" fill="#000" stroke="#000" stroke-width="1" transform="rotate(9 271.0 436.2)"/><ellipse cx="280.4" cy="440.4" rx="1.5" ry="1.1" fill="#88e888" stroke="#000" stroke-width="1" transform="rotate(-50 280.4 440.4)"/><ellipse cx="273.1" cy="422.3" rx="2.0" ry="1.4" fill="#88e888" stroke="#000" stroke-width="1" transform="rotate(-7 273.1 422.3)"/><ellipse cx="280.7" cy="443.4" rx="1.5" ry="0.9" fill="#000" stroke="#000" stroke-width="1" transform="rotate(12 280.7 443.4)"/><ellipse cx="274.1" cy="419.0" rx="2.4" ry="1.0" fill="#88e888" stroke="#000" stroke-width="1" transform="rotate(19 274.1 419.0)"/><ellipse cx="274.7" cy="431.7" rx="2.2" ry="1.1" fill="#88e888" stroke="#000" stroke-width="1" transform="rotate(-9 274.7 431.7)"/><ellipse cx="286.8" cy="433.3" rx="1.3" ry="1.5" fill="#000" stroke="#000" stroke-width="1" transform="rotate(-37 286.8 433.3)"/><ellipse cx="271.7" cy="442.8" rx="2.2" ry="1.3" fill="#88e888" stroke="#000" stroke-width="1" transform="rotate(-21 271.7 442.8)"/><ellipse cx="326.5" cy="507.4" rx="1.4" ry="1.1" fill="#88e888" stroke="#000" stroke-width="1" transform="rotate(-23 326.5 507.4)"/><ellipse cx="319.6" cy="516.0" rx="1.8" ry="1.4" fill="#88e888" stroke="#000" stroke-width="1" transform="rotate(-25 319.6 516.0)"/><ellipse cx="325.9" cy="503.8" rx="2.2" ry="1.4" fill="#88e888" stroke="#000" stroke-width="1" transform="rotate(-38 325.9 503.8)"/><ellipse cx="319.1" cy="515.1" rx="2.5" ry="1.1" fill="#88e888" stroke="#000" stroke-width="1" transform="rotate(-7 319.1 515.1)"/><ellipse cx="319.3" cy="511.8" rx="1.9" ry="1.3" fill="#88e888" stroke="#000" stroke-width="1" transform="rotate(19 319.3 511.8)"/><ellipse cx="336.2" cy="476.6" rx="2.2" ry="0.9" fill="#88e888" stroke="#000" stroke-width="1" transform="rotate(0 336.2 476.6)"/><ellipse cx="346.2" cy="472.5" rx="2.5" ry="1.1" fill="#88e888" stroke="#000" stroke-width="1" transform="rotate(-7 346.2 472.5)"/><ellipse cx="330.3" cy="488.3" rx="2.0" ry="1.2" fill="#88e888" stroke="#000" stroke-width="1" transform="rotate(-13 330.3 488.3)"/><ellipse cx="323.3" cy="490.1" rx="1.2" ry="1.4" fill="#88e888" stroke="#000" stroke-width="1" transform="rotate(-56 323.3 490.1)"/><ellipse cx="333.4" cy="483.7" rx="1.5" ry="1.2" fill="#000" stroke="#000" stroke-width="1" transform="rotate(-23 333.4 483.7)"/><ellipse cx="328.5" cy="513.7" rx="2.0" ry="1.0" fill="#88e888" stroke="#000" stroke-width="1" transform="rotate(16 328.5 513.7)"/><ellipse cx="327.2" cy="494.0" rx="1.3" ry="0.8" fill="#88e888" stroke="#000" stroke-width="1" transform="rotate(-60 327.2 494.0)"/><ellipse cx="327.2" cy="485.1" rx="2.5" ry="1.2" fill="#88e888" stroke="#000" stroke-width="1" transform="rotate(12 327.2 485.1)"/><ellipse cx="326.9" cy="491.3" rx="1.4" ry="1.0" fill="#000" stroke="#000" stroke-width="1" transform="rotate(-12 326.9 491.3)"/><ellipse cx="327.2" cy="516.2" rx="1.3" ry="1.2" fill="#88e888" stroke="#000" stroke-width="1" transform="rotate(-22 327.2 516.2)"/><ellipse cx="331.4" cy="490.4" rx="1.5" ry="1.6" fill="#88e888" stroke="#000" stroke-width="1" transform="rotate(-24 331.4 490.4)"/><ellipse cx="305.9" cy="517.9" rx="1.4" ry="1.1" fill="#88e888" stroke="#000" stroke-width="1" transform="rotate(2 305.9 517.9)"/><ellipse cx="311.7" cy="515.7" rx="2.0" ry="1.1" fill="#88e888" stroke="#000" stroke-width="1" transform="rotate(17 311.7 515.7)"/><ellipse cx="303.7" cy="519.0" rx="2.0" ry="1.4" fill="#88e888" stroke="#000" stroke-width="1" transform="rotate(-16 303.7 519.0)"/><ellipse cx="252.1" cy="407.2" rx="1.9" ry="0.7" fill="#88e888" stroke="#000" stroke-width="1" transform="rotate(-2 252.1 407.2)"/><ellipse cx="253.7" cy="402.2" rx="1.7" ry="1.4" fill="#88e888" stroke="#000" stroke-width="1" transform="rotate(20 253.7 402.2)"/><ellipse cx="253.7" cy="407.0" rx="2.4" ry="1.1" fill="#88e888" stroke="#000" stroke-width="1" transform="rotate(-22 253.7 407.0)"/><ellipse cx="326.0" cy="540.0" rx="2.2" ry="1.5" fill="#88e888" stroke="#000" stroke-width="1" transform="rotate(1 326.0 540.0)"/><ellipse cx="326.0" cy="542.6" rx="1.1" ry="1.4" fill="#88e888" stroke="#000" stroke-width="1" transform="rotate(-50 326.0 542.6)"/><ellipse cx="327.8" cy="537.6" rx="2.3" ry="0.9" fill="#88e888" stroke="#000" stroke-width="1" transform="rotate(-46 327.8 537.6)"/><circle cx="15.7" cy="343.2" r="1.1" fill="#80dc80" stroke="#000" stroke-width="1"/><circle cx="24.2" cy="342.7" r="0.7" fill="#000"/><circle cx="20.8" cy="331.9" r="0.6" fill="#80dc80" stroke="#000" stroke-width="1"/><circle cx="14.0" cy="322.9" r="0.9" fill="#000"/><circle cx="145.6" cy="379.4" r="1.0" fill="#80dc80" stroke="#000" stroke-width="1"/><circle cx="148.4" cy="369.2" r="0.6" fill="#80dc80" stroke="#000" stroke-width="1"/><circle cx="145.0" cy="364.1" r="0.7" fill="#000"/><circle cx="154.6" cy="364.1" r="0.6" fill="#000"/><circle cx="139.9" cy="355.7" r="0.6" fill="#000"/><circle cx="99.8" cy="391.2" r="0.9" fill="#80dc80" stroke="#000" stroke-width="1"/><circle cx="99.8" cy="399.1" r="0.6" fill="#80dc80" stroke="#000" stroke-width="1"/><circle cx="98.7" cy="385.0" r="1.1" fill="#80dc80" stroke="#000" stroke-width="1"/><circle cx="110.0" cy="382.8" r="0.7" fill="#000"/><circle cx="174.4" cy="398.6" r="1.1" fill="#80dc80" stroke="#000" stroke-width="1"/><circle cx="164.2" cy="433.6" r="0.7" fill="#80dc80" stroke="#000" stroke-width="1"/><circle cx="167.6" cy="427.4" r="0.8" fill="#000"/><circle cx="165.9" cy="402.0" r="0.7" fill="#000"/><circle cx="183.4" cy="413.8" r="1.0" fill="#80dc80" stroke="#000" stroke-width="1"/><circle cx="189.1" cy="413.3" r="0.6" fill="#000"/><circle cx="194.7" cy="414.4" r="0.6" fill="#80dc80" stroke="#000" stroke-width="1"/><circle cx="167.6" cy="415.5" r="0.9" fill="#000"/><circle cx="191.3" cy="436.4" r="1.0" fill="#80dc80" stroke="#000" stroke-width="1"/><circle cx="187.4" cy="441.5" r="0.9" fill="#000"/><circle cx="199.2" cy="442.6" r="0.9" fill="#80dc80" stroke="#000" stroke-width="1"/><circle cx="183.4" cy="448.3" r="1.2" fill="#80dc80" stroke="#000" stroke-width="1"/><circle cx="194.7" cy="452.2" r="0.9" fill="#000"/><circle cx="186.8" cy="455.0" r="0.6" fill="#80dc80" stroke="#000" stroke-width="1"/><circle cx="184.5" cy="355.7" r="0.9" fill="#000"/><circle cx="190.8" cy="359.6" r="0.8" fill="#000"/><circle cx="184.5" cy="361.3" r="0.6" fill="#000"/><circle cx="174.0" cy="398.8" r="1.0" fill="#80dc80" stroke="#000" stroke-width="1"/><circle cx="183.6" cy="413.5" r="0.6" fill="#80dc80" stroke="#000" stroke-width="1"/><circle cx="189.3" cy="412.9" r="0.6" fill="#000"/><circle cx="195.5" cy="414.0" r="0.9" fill="#000"/><circle cx="191.5" cy="436.1" r="0.9" fill="#80dc80" stroke="#000" stroke-width="1"/><circle cx="199.4" cy="442.8" r="0.9" fill="#80dc80" stroke="#000" stroke-width="1"/><circle cx="187.0" cy="441.7" r="0.7" fill="#000"/><circle cx="183.1" cy="447.9" r="1.0" fill="#80dc80" stroke="#000" stroke-width="1"/><circle cx="194.9" cy="451.9" r="0.9" fill="#000"/><circle cx="187.0" cy="454.7" r="0.9" fill="#000"/><circle cx="176.8" cy="454.1" r="0.6" fill="#000"/><circle cx="203.9" cy="432.1" r="0.9" fill="#000"/><circle cx="223.1" cy="425.3" r="0.9" fill="#000"/><circle cx="232.7" cy="425.9" r="0.6" fill="#000"/><circle cx="238.4" cy="416.3" r="0.6" fill="#000"/><circle cx="250.2" cy="416.3" r="0.7" fill="#80dc80" stroke="#000" stroke-width="1"/><circle cx="237.3" cy="405.6" r="0.6" fill="#80dc80" stroke="#000" stroke-width="1"/><circle cx="255.3" cy="434.9" r="0.6" fill="#80dc80" stroke="#000" stroke-width="1"/><circle cx="253.1" cy="445.1" r="0.6" fill="#80dc80" stroke="#000" stroke-width="1"/><circle cx="262.1" cy="434.9" r="0.9" fill="#000"/><circle cx="275.1" cy="451.3" r="0.9" fill="#000"/><circle cx="284.7" cy="454.7" r="0.6" fill="#80dc80" stroke="#000" stroke-width="1"/><circle cx="281.3" cy="453.6" r="0.7" fill="#000"/><circle cx="294.9" cy="460.3" r="0.6" fill="#80dc80" stroke="#000" stroke-width="1"/><circle cx="301.6" cy="458.7" r="0.9" fill="#80dc80" stroke="#000" stroke-width="1"/><circle cx="293.7" cy="466.0" r="0.7" fill="#000"/><circle cx="306.1" cy="469.4" r="0.7" fill="#80dc80" stroke="#000" stroke-width="1"/><circle cx="319.7" cy="463.7" r="0.9" fill="#000"/><circle cx="325.9" cy="460.9" r="0.8" fill="#000"/><circle cx="331.0" cy="462.6" r="0.6" fill="#80dc80" stroke="#000" stroke-width="1"/><circle cx="322.0" cy="469.4" r="0.6" fill="#80dc80" stroke="#000" stroke-width="1"/><circle cx="315.2" cy="450.7" r="0.6" fill="#000"/><circle cx="281.9" cy="472.8" r="0.7" fill="#000"/><circle cx="305.0" cy="480.7" r="0.9" fill="#000"/><circle cx="253.6" cy="468.2" r="0.9" fill="#000"/><circle cx="276.2" cy="502.7" r="1.0" fill="#80dc80" stroke="#000" stroke-width="1"/><circle cx="288.1" cy="494.2" r="0.6" fill="#000"/><circle cx="249.7" cy="492.0" r="0.6" fill="#000"/><circle cx="301.1" cy="525.8" r="0.9" fill="#000"/><circle cx="297.1" cy="536.0" r="0.6" fill="#000"/><circle cx="291.5" cy="536.6" r="0.6" fill="#000"/><circle cx="307.3" cy="534.9" r="0.9" fill="#000"/><circle cx="312.4" cy="531.5" r="0.6" fill="#80dc80" stroke="#000" stroke-width="1"/><circle cx="315.2" cy="525.8" r="0.7" fill="#000"/><circle cx="332.1" cy="516.8" r="0.6" fill="#000"/><circle cx="328.2" cy="523.6" r="0.6" fill="#000"/><circle cx="309.0" cy="547.9" r="0.7" fill="#000"/><circle cx="324.2" cy="547.9" r="0.9" fill="#000"/><circle cx="344.0" cy="488.6" r="0.6" fill="#000"/><circle cx="345.7" cy="481.2" r="0.6" fill="#000"/><path d="M308.5 503.9h1.4M332.4 508.6h1.4M311.4 526.1h1.4M267.4 502.4h1.4M263.0 430.2h1.4M336.0 440.5h1.4M299.3 494.9h1.4M269.0 446.5h1.4M305.6 499.1h1.4M274.1 514.6h1.4M292.0 424.7h1.4M322.5 518.3h1.4M300.4 458.6h1.4M245.1 425.3h1.4M253.1 434.5h1.4M277.9 449.7h1.4M322.3 511.6h1.4M250.0 447.7h1.4M341.0 447.6h1.4M274.4 444.4h1.4M327.9 487.8h1.4M298.7 456.8h1.4M321.5 448.1h1.4M290.1 459.0h1.4M328.2 446.8h1.4M254.4 502.4h1.4" stroke="#88e888" stroke-width="1.45" fill="none"/><path d="M155.2 381.0h1.4M77.5 366.4h1.4M118.7 342.3h1.4M169.3 363.4h1.4M83.2 364.3h1.4M139.5 367.8h1.4M161.3 350.8h1.4M103.5 355.4h1.4M113.4 335.8h1.4M144.1 379.4h1.4" stroke="#88e888" stroke-width="1.45" fill="none"/><use href="#grid"/><use href="#coast"/><use href="#swath"/><use href="#labels"/><use href="#cross"/><text class="tt" x="37.4" y="66.2">2A25 near surface rainrate (mm/hr)</text><text class="lt" x="439.5" y="523">(c)</text><rect x="495.2" y="531.37" width="8.8" height="8.77" fill="#88e888"/><rect x="495.2" y="522.90" width="8.8" height="8.77" fill="#88e888"/><rect x="495.2" y="514.44" width="8.8" height="8.77" fill="#80dc80"/><rect x="495.2" y="505.97" width="8.8" height="8.77" fill="#78d078"/><rect x="495.2" y="497.51" width="8.8" height="8.77" fill="#78d078"/><rect x="495.2" y="489.04" width="8.8" height="8.77" fill="#70c870"/><rect x="495.2" y="480.58" width="8.8" height="8.77" fill="#6abf6a"/><rect x="495.2" y="472.11" width="8.8" height="8.77" fill="#d0d4ff"/><rect x="495.2" y="463.65" width="8.8" height="8.77" fill="#b4ccff"/><rect x="495.2" y="455.18" width="8.8" height="8.77" fill="#b4ccff"/><rect x="495.2" y="446.72" width="8.8" height="8.77" fill="#9cc4ff"/><rect x="495.2" y="438.25" width="8.8" height="8.77" fill="#80bcff"/><rect x="495.2" y="429.79" width="8.8" height="8.77" fill="#6cb8ff"/><rect x="495.2" y="421.32" width="8.8" height="8.77" fill="#6cb8ff"/><rect x="495.2" y="412.86" width="8.8" height="8.77" fill="#54acff"/><rect x="495.2" y="404.39" width="8.8" height="8.77" fill="#4c8cff"/><rect x="495.2" y="395.93" width="8.8" height="8.77" fill="#4870ff"/><rect x="495.2" y="387.46" width="8.8" height="8.77" fill="#4870ff"/><rect x="495.2" y="379.00" width="8.8" height="8.77" fill="#4050ff"/><rect x="495.2" y="370.53" width="8.8" height="8.77" fill="#3030ff"/><rect x="495.2" y="362.07" width="8.8" height="8.77" fill="#0000ff"/><rect x="495.2" y="353.60" width="8.8" height="8.77" fill="#0000ff"/><rect x="495.2" y="345.14" width="8.8" height="8.77" fill="#0000f0"/><rect x="495.2" y="336.67" width="8.8" height="8.77" fill="#0000e0"/><rect x="495.2" y="328.21" width="8.8" height="8.77" fill="#0000e0"/><rect x="495.2" y="319.74" width="8.8" height="8.77" fill="#0000d2"/><rect x="495.2" y="311.28" width="8.8" height="8.77" fill="#0000c8"/><rect x="495.2" y="302.81" width="8.8" height="8.77" fill="#ffff00"/><rect x="495.2" y="294.35" width="8.8" height="8.77" fill="#ffff00"/><rect x="495.2" y="285.88" width="8.8" height="8.77" fill="#fff000"/><rect x="495.2" y="277.42" width="8.8" height="8.77" fill="#ffe000"/><rect x="495.2" y="268.95" width="8.8" height="8.77" fill="#ffe000"/><rect x="495.2" y="260.49" width="8.8" height="8.77" fill="#ffd400"/><rect x="495.2" y="252.02" width="8.8" height="8.77" fill="#ffc800"/><rect x="495.2" y="243.56" width="8.8" height="8.77" fill="#ff9800"/><rect x="495.2" y="235.09" width="8.8" height="8.77" fill="#ff9800"/><rect x="495.2" y="226.63" width="8.8" height="8.77" fill="#ff8e00"/><rect x="495.2" y="218.16" width="8.8" height="8.77" fill="#ff8500"/><rect x="495.2" y="209.70" width="8.8" height="8.77" fill="#ff7d00"/><rect x="495.2" y="201.23" width="8.8" height="8.77" fill="#ff7300"/><rect x="495.2" y="192.77" width="8.8" height="8.77" fill="#ff4500"/><rect x="495.2" y="184.30" width="8.8" height="8.77" fill="#ff4500"/><rect x="495.2" y="175.84" width="8.8" height="8.77" fill="#ff3a00"/><rect x="495.2" y="167.37" width="8.8" height="8.77" fill="#ff2e00"/><rect x="495.2" y="158.91" width="8.8" height="8.77" fill="#ff2e00"/><rect x="495.2" y="150.44" width="8.8" height="8.77" fill="#ff2200"/><rect x="495.2" y="141.98" width="8.8" height="8.77" fill="#ff1a00"/><rect x="495.2" y="133.51" width="8.8" height="8.77" fill="#c40000"/><rect x="495.2" y="125.05" width="8.8" height="8.77" fill="#c40000"/><rect x="495.2" y="116.58" width="8.8" height="8.77" fill="#c00000"/><rect x="495.2" y="108.12" width="8.8" height="8.77" fill="#b40500"/><rect x="495.2" y="99.65" width="8.8" height="8.77" fill="#b40500"/><rect x="495.2" y="91.19" width="8.8" height="8.77" fill="#a90d00"/><rect x="495.2" y="82.72" width="8.8" height="8.77" fill="#a31200"/><rect x="495.2" y="74.26" width="8.8" height="8.77" fill="#5e0f07"/><rect x="495.2" y="65.79" width="8.8" height="8.77" fill="#5e130c"/><rect x="495.2" y="57.33" width="8.8" height="8.77" fill="#5c1510"/><rect x="495.2" y="48.86" width="8.8" height="8.77" fill="#5a1713"/><rect x="495.2" y="40.40" width="8.8" height="8.77" fill="#5a1a17"/><path d="M504.0 548.30h2.4" stroke="#000" stroke-width="1"/><text class="tk" text-anchor="middle" x="524.0" y="556.70">0</text><path d="M504.0 497.51h2.4" stroke="#000" stroke-width="1"/><text class="tk" text-anchor="middle" x="524.0" y="505.91">6</text><path d="M504.0 446.72h2.4" stroke="#000" stroke-width="1"/><text class="tk" text-anchor="middle" x="524.0" y="455.12">12</text><path d="M504.0 395.93h2.4" stroke="#000" stroke-width="1"/><text class="tk" text-anchor="middle" x="524.0" y="404.33">18</text><path d="M504.0 345.14h2.4" stroke="#000" stroke-width="1"/><text class="tk" text-anchor="middle" x="524.0" y="353.54">24</text><path d="M504.0 294.35h2.4" stroke="#000" stroke-width="1"/><text class="tk" text-anchor="middle" x="524.0" y="302.75">30</text><path d="M504.0 243.56h2.4" stroke="#000" stroke-width="1"/><text class="tk" text-anchor="middle" x="524.0" y="251.96">36</text><path d="M504.0 192.77h2.4" stroke="#000" stroke-width="1"/><text class="tk" text-anchor="middle" x="524.0" y="201.17">42</text><path d="M504.0 141.98h2.4" stroke="#000" stroke-width="1"/><text class="tk" text-anchor="middle" x="524.0" y="150.38">48</text><path d="M504.0 91.19h2.4" stroke="#000" stroke-width="1"/><text class="tk" text-anchor="middle" x="524.0" y="99.59">54</text></g>
<g transform="translate(0.0 590.5)"><defs><clipPath id="dsw"><path d="M13.0 92.5L168.0 196.2L240.0 245.5L325.6 306.4L404.2 362.9L486.0 423.2L486.0 548.3L100.3 548.3L13.0 487.0Z"/></clipPath><clipPath id="dmain"><path d="M253.5 288.5L256.2 286.1L259.6 285.8L263.0 286.8L266.1 289.1L268.4 291.2L271.1 293.2L273.9 294.9L276.6 294.2L278.6 292.9L280.3 291.2L283.3 291.5L286.1 291.9L286.4 294.6L288.1 298.0L290.1 300.7L291.8 302.7L292.5 305.4L294.2 308.8L295.5 312.2L296.9 315.6L296.6 319.6L295.9 323.0L296.6 327.1L295.9 330.5L295.5 334.5L295.2 338.6L295.9 343.4L296.6 349.5L295.5 350.5L293.5 349.5L291.5 346.7L289.4 346.1L288.1 347.4L286.1 348.8L283.3 350.5L280.0 351.8L276.6 353.5L273.9 355.6L270.5 356.2L267.1 356.6L264.4 355.6L262.3 353.9L261.0 354.9L259.6 356.9L256.9 357.6L252.9 358.3L249.5 358.9L246.8 359.3L244.0 360.3L241.3 362.7L237.9 363.3L235.2 362.0L232.5 358.9L229.8 356.9L227.1 355.2L223.7 353.2L220.7 350.5L223.0 348.8L225.7 347.4L228.5 346.4L230.5 345.1L232.5 345.7L233.9 347.4L235.2 348.4L236.9 346.7L238.6 344.7L240.7 342.3L242.3 340.0L244.4 337.6L243.4 336.9L240.7 336.2L237.9 336.6L235.2 337.3L233.2 336.6L231.2 335.6L229.1 334.5L227.1 333.5L224.7 333.2L224.1 332.2L225.4 330.5L227.8 329.5L230.5 329.8L232.5 329.5L235.2 328.4L237.9 327.1L240.0 325.1L242.0 323.0L244.0 321.0L245.4 319.3L247.4 316.9L249.5 314.9L251.2 312.2L252.5 309.5L253.2 306.8L253.5 303.4L253.2 299.3L252.9 295.9L252.5 291.9Z"/></clipPath><radialGradient id="dhalo"><stop offset="0" stop-color="#b6b6b6"/><stop offset="0.55" stop-color="#c8c8c8" stop-opacity="0.7"/><stop offset="1" stop-color="#d0d0d0" stop-opacity="0"/></radialGradient><radialGradient id="dsm"><stop offset="0" stop-color="#aaa" stop-opacity="0.9"/><stop offset="1" stop-color="#ccc" stop-opacity="0"/></radialGradient><filter id="dbl" x="-20%" y="-20%" width="140%" height="140%"><feGaussianBlur stdDeviation="5"/></filter></defs><path d="M13.0 92.5L168.0 196.2L240.0 245.5L325.6 306.4L404.2 362.9L486.0 423.2L486.0 548.3L100.3 548.3L13.0 487.0Z" fill="#e7e7e7"/><g clip-path="url(#dsw)"><ellipse cx="262" cy="335" rx="85" ry="80" fill="url(#dhalo)"/><g fill="none" stroke="#c4c4c4" stroke-width="14" filter="url(#dbl)" opacity="0.9"><path d="M290 395Q345 430 330 520"/><path d="M335 330Q400 420 360 545"/><path d="M225 380Q255 420 240 470"/><path d="M60 235Q90 255 120 268"/><path d="M95 215Q115 222 135 240"/></g><g fill="none" stroke="#efefef" stroke-width="2.5" opacity="0.6"><path d="M30 120Q60 220 20 330"/><path d="M110 180Q140 290 60 420"/><path d="M300 350Q420 470 330 548"/><path d="M130 548Q260 520 300 440"/></g><circle cx="53" cy="386" r="12" fill="url(#dsm)"/><circle cx="134" cy="449" r="11" fill="url(#dsm)"/><circle cx="214" cy="412" r="14" fill="url(#dsm)"/><circle cx="165" cy="205" r="12" fill="url(#dsm)"/><circle cx="80" cy="365" r="9" fill="url(#dsm)"/><circle cx="316" cy="511" r="16" fill="url(#dsm)"/><circle cx="470" cy="440" r="10" fill="url(#dsm)"/></g><path d="M253.5 288.5L256.2 286.1L259.6 285.8L263.0 286.8L266.1 289.1L268.4 291.2L271.1 293.2L273.9 294.9L276.6 294.2L278.6 292.9L280.3 291.2L283.3 291.5L286.1 291.9L286.4 294.6L288.1 298.0L290.1 300.7L291.8 302.7L292.5 305.4L294.2 308.8L295.5 312.2L296.9 315.6L296.6 319.6L295.9 323.0L296.6 327.1L295.9 330.5L295.5 334.5L295.2 338.6L295.9 343.4L296.6 349.5L295.5 350.5L293.5 349.5L291.5 346.7L289.4 346.1L288.1 347.4L286.1 348.8L283.3 350.5L280.0 351.8L276.6 353.5L273.9 355.6L270.5 356.2L267.1 356.6L264.4 355.6L262.3 353.9L261.0 354.9L259.6 356.9L256.9 357.6L252.9 358.3L249.5 358.9L246.8 359.3L244.0 360.3L241.3 362.7L237.9 363.3L235.2 362.0L232.5 358.9L229.8 356.9L227.1 355.2L223.7 353.2L220.7 350.5L223.0 348.8L225.7 347.4L228.5 346.4L230.5 345.1L232.5 345.7L233.9 347.4L235.2 348.4L236.9 346.7L238.6 344.7L240.7 342.3L242.3 340.0L244.4 337.6L243.4 336.9L240.7 336.2L237.9 336.6L235.2 337.3L233.2 336.6L231.2 335.6L229.1 334.5L227.1 333.5L224.7 333.2L224.1 332.2L225.4 330.5L227.8 329.5L230.5 329.8L232.5 329.5L235.2 328.4L237.9 327.1L240.0 325.1L242.0 323.0L244.0 321.0L245.4 319.3L247.4 316.9L249.5 314.9L251.2 312.2L252.5 309.5L253.2 306.8L253.5 303.4L253.2 299.3L252.9 295.9L252.5 291.9Z" fill="#80dc80"/><g clip-path="url(#dmain)"><path d="M252.9 289.1L256.9 287.8L268.4 298.0L270.5 302.0L264.4 299.3L258.3 295.2Z" fill="#80bcff"/><path d="M256.9 287.8L259.6 287.8L265.0 293.2L261.0 291.9Z" fill="#54acff"/><path d="M263.0 291.9L267.1 293.9L270.5 298.6L266.4 296.6Z" fill="#d0d4ff"/><path d="M277.9 298.0L283.3 296.6L290.1 304.7L294.9 316.9L296.2 327.8L292.8 330.5L288.1 321.0L284.7 310.2Z" fill="#80bcff"/><path d="M283.3 301.3L287.4 304.7L291.5 314.2L288.1 312.9Z" fill="#54acff"/><path d="M288.1 310.8L291.5 312.9L292.8 316.3L289.4 314.9Z" fill="#4050ff"/><path d="M255.6 303.4L259.6 304.7L261.0 310.2L256.9 311.5L254.2 307.4Z" fill="#d0d4ff"/><path d="M263.0 321.0L268.4 312.9L274.5 312.9L280.0 323.7L281.3 333.9L276.6 341.3L268.4 338.6L263.7 330.5Z" fill="#9cc4ff"/><path d="M265.0 325.1L271.8 321.0L275.9 330.5L271.1 335.9L266.4 332.5Z" fill="#6cb8ff"/><path d="M277.2 325.1L280.6 325.7L282.0 334.5L278.6 335.9Z" fill="#d0d4ff"/><path d="M284.7 327.8L290.1 329.1L291.5 334.5L286.1 332.5Z" fill="#d0d4ff"/><path d="M246.8 318.3L251.5 314.2L256.2 318.3L261.0 329.1L263.7 337.9L261.0 350.8L254.2 354.2L247.4 357.6L243.4 348.1L243.4 330.5Z" fill="#b4ccff"/><path d="M247.4 321.0L251.5 319.6L254.2 327.8L250.1 326.4Z" fill="#54acff"/><path d="M250.8 314.9L254.2 316.3L254.9 321.0L251.5 319.6Z" fill="#0000f0"/><path d="M258.9 332.5L263.7 330.5L267.1 334.5L266.4 339.3L261.0 337.9Z" fill="#0000e0"/><path d="M254.9 335.9L258.9 337.3L258.9 346.7L255.6 345.4Z" fill="#0000ff"/><path d="M250.8 343.4L254.9 344.7L254.2 350.1L250.8 348.8Z" fill="#4050ff"/><path d="M247.4 327.8L251.5 329.1L251.5 337.3L247.4 335.9Z" fill="#80dc80"/><path d="M223.7 350.1L228.5 348.8L240.7 353.5L240.7 356.2L232.5 354.2Z" fill="#80bcff"/><path d="M235.2 356.9L240.0 358.9L240.7 361.7L236.6 360.3Z" fill="#d0d4ff"/></g><path d="M253.5 288.5L256.2 286.1L259.6 285.8L263.0 286.8L266.1 289.1L268.4 291.2L271.1 293.2L273.9 294.9L276.6 294.2L278.6 292.9L280.3 291.2L283.3 291.5L286.1 291.9L286.4 294.6L288.1 298.0L290.1 300.7L291.8 302.7L292.5 305.4L294.2 308.8L295.5 312.2L296.9 315.6L296.6 319.6L295.9 323.0L296.6 327.1L295.9 330.5L295.5 334.5L295.2 338.6L295.9 343.4L296.6 349.5L295.5 350.5L293.5 349.5L291.5 346.7L289.4 346.1L288.1 347.4L286.1 348.8L283.3 350.5L280.0 351.8L276.6 353.5L273.9 355.6L270.5 356.2L267.1 356.6L264.4 355.6L262.3 353.9L261.0 354.9L259.6 356.9L256.9 357.6L252.9 358.3L249.5 358.9L246.8 359.3L244.0 360.3L241.3 362.7L237.9 363.3L235.2 362.0L232.5 358.9L229.8 356.9L227.1 355.2L223.7 353.2L220.7 350.5L223.0 348.8L225.7 347.4L228.5 346.4L230.5 345.1L232.5 345.7L233.9 347.4L235.2 348.4L236.9 346.7L238.6 344.7L240.7 342.3L242.3 340.0L244.4 337.6L243.4 336.9L240.7 336.2L237.9 336.6L235.2 337.3L233.2 336.6L231.2 335.6L229.1 334.5L227.1 333.5L224.7 333.2L224.1 332.2L225.4 330.5L227.8 329.5L230.5 329.8L232.5 329.5L235.2 328.4L237.9 327.1L240.0 325.1L242.0 323.0L244.0 321.0L245.4 319.3L247.4 316.9L249.5 314.9L251.2 312.2L252.5 309.5L253.2 306.8L253.5 303.4L253.2 299.3L252.9 295.9L252.5 291.9Z" fill="none" stroke="#000" stroke-width="1.3" stroke-linejoin="round"/><path d="M261.3 304.7L263.0 304.1L264.4 307.4L263.7 312.9L263.4 316.9L262.7 312.9L262.0 308.8Z" fill="none" stroke="#000" stroke-width="1.1"/><path d="M256.2 322.4L257.6 319.0L259.6 316.9L261.3 318.3L260.3 321.7L258.3 323.0L257.3 325.7Z" fill="none" stroke="#000" stroke-width="1.1"/><path d="M252.9 327.8L253.9 328.4L253.5 330.5Z" fill="#000"/><path d="M99.6 371.2C100.1 371.3 101.5 373.6 103.0 373.9C104.5 374.1 107.1 373.3 108.4 372.5C109.8 371.7 110.6 370.4 111.1 369.1C111.7 367.9 111.1 366.1 111.8 365.1C112.5 364.0 113.9 363.1 115.2 363.0C116.4 362.9 118.4 363.6 119.3 364.4C120.2 365.2 119.9 366.8 120.6 367.8C121.3 368.8 122.2 369.6 123.3 370.5C124.4 371.4 126.4 372.2 127.4 373.2C128.4 374.2 129.3 375.6 129.4 376.6C129.5 377.6 128.9 378.6 128.1 379.3C127.3 380.0 126.0 380.5 124.7 380.6C123.3 380.8 121.3 380.0 119.9 380.0C118.6 380.0 117.6 380.9 116.5 380.6C115.5 380.4 114.7 379.4 113.8 378.6C112.9 377.8 112.3 376.2 111.1 375.9C110.0 375.6 108.4 376.6 107.1 376.6C105.7 376.6 104.1 376.5 103.0 375.9C101.9 375.3 100.8 374.0 100.3 373.2C99.7 372.4 99.2 371.0 99.6 371.2Z" fill="#80dc80" stroke="#000" stroke-width="1.2"/><path d="M111.1 366.4L115.2 367.1L126.7 375.9L125.4 378.6L119.3 377.9L113.8 373.2Z" fill="#b4ccff"/><path d="M113.2 370.5L116.5 371.8L118.6 374.5L115.2 373.9Z" fill="#4870ff"/><circle cx="101.6" cy="367.4" r="1.8" fill="#80dc80" stroke="#000" stroke-width="1"/><circle cx="93.2" cy="210.5" r="2.2" fill="#80dc80" stroke="#000" stroke-width="1.1"/><circle cx="49.8" cy="393.5" r="2.0" fill="#b4ccff" stroke="#000" stroke-width="1.1"/><circle cx="221.0" cy="410.3" r="1.8" fill="#80dc80" stroke="#000" stroke-width="1.1"/><circle cx="481.0" cy="544.0" r="1.8" fill="#bbb" stroke="#000" stroke-width="1.1"/><circle cx="54.3" cy="383.5" r="1.2" fill="#000"/><circle cx="134.0" cy="449.5" r="2.0" fill="#000"/><circle cx="210.5" cy="410.8" r="1.0" fill="#000"/><circle cx="212.0" cy="407.5" r="0.9" fill="#000"/><circle cx="18.6" cy="308.0" r="1.0" fill="#000"/><circle cx="213.2" cy="349.6" r="1.6" fill="#6c6"/><circle cx="13.6" cy="415.8" r="1.6" fill="#3a3"/><path d="M268.5 402l3-4.5 2.5 4 -1.5 6.5 -3 1z" fill="#80dc80" stroke="#000" stroke-width="1"/><ellipse cx="274.8" cy="399.5" rx="1" ry="2.4" transform="rotate(25 274.8 399.5)" fill="#6c6" stroke="#000" stroke-width="0.9"/><path d="M436 386.5L486 394.2" stroke="#ddd" stroke-width="1.2"/><use href="#grid"/><use href="#coast"/><use href="#swath"/><use href="#labels"/><use href="#cross"/><text class="tt" x="44.0" y="66.6">85GHz PCT (K)</text><text class="lt" x="439.5" y="523">(d)</text><rect x="495.2" y="531.37" width="8.8" height="8.77" fill="#f8f8f8"/><rect x="495.2" y="522.90" width="8.8" height="8.77" fill="#f1f1f1"/><rect x="495.2" y="514.44" width="8.8" height="8.77" fill="#e9e9e9"/><rect x="495.2" y="505.97" width="8.8" height="8.77" fill="#e2e2e2"/><rect x="495.2" y="497.51" width="8.8" height="8.77" fill="#dadada"/><rect x="495.2" y="489.04" width="8.8" height="8.77" fill="#d3d3d3"/><rect x="495.2" y="480.58" width="8.8" height="8.77" fill="#cccccc"/><rect x="495.2" y="472.11" width="8.8" height="8.77" fill="#c4c4c4"/><rect x="495.2" y="463.65" width="8.8" height="8.77" fill="#bdbdbd"/><rect x="495.2" y="455.18" width="8.8" height="8.77" fill="#b6b6b6"/><rect x="495.2" y="446.72" width="8.8" height="8.77" fill="#aeaeae"/><rect x="495.2" y="438.25" width="8.8" height="8.77" fill="#a7a7a7"/><rect x="495.2" y="429.79" width="8.8" height="8.77" fill="#9f9f9f"/><rect x="495.2" y="421.32" width="8.8" height="8.77" fill="#989898"/><rect x="495.2" y="412.86" width="8.8" height="8.77" fill="#88e888"/><rect x="495.2" y="404.39" width="8.8" height="8.77" fill="#80dc80"/><rect x="495.2" y="395.93" width="8.8" height="8.77" fill="#78d078"/><rect x="495.2" y="387.46" width="8.8" height="8.77" fill="#70c870"/><rect x="495.2" y="379.00" width="8.8" height="8.77" fill="#6abf6a"/><rect x="495.2" y="370.53" width="8.8" height="8.77" fill="#d0d4ff"/><rect x="495.2" y="362.07" width="8.8" height="8.77" fill="#b4ccff"/><rect x="495.2" y="353.60" width="8.8" height="8.77" fill="#9cc4ff"/><rect x="495.2" y="345.14" width="8.8" height="8.77" fill="#80bcff"/><rect x="495.2" y="336.67" width="8.8" height="8.77" fill="#6cb8ff"/><rect x="495.2" y="328.21" width="8.8" height="8.77" fill="#54acff"/><rect x="495.2" y="319.74" width="8.8" height="8.77" fill="#4c8cff"/><rect x="495.2" y="311.28" width="8.8" height="8.77" fill="#4870ff"/><rect x="495.2" y="302.81" width="8.8" height="8.77" fill="#4050ff"/><rect x="495.2" y="294.35" width="8.8" height="8.77" fill="#3030ff"/><rect x="495.2" y="285.88" width="8.8" height="8.77" fill="#0000ff"/><rect x="495.2" y="277.42" width="8.8" height="8.77" fill="#0000f0"/><rect x="495.2" y="268.95" width="8.8" height="8.77" fill="#0000e0"/><rect x="495.2" y="260.49" width="8.8" height="8.77" fill="#0000d2"/><rect x="495.2" y="252.02" width="8.8" height="8.77" fill="#0000c8"/><rect x="495.2" y="243.56" width="8.8" height="8.77" fill="#ffff00"/><rect x="495.2" y="235.09" width="8.8" height="8.77" fill="#fff000"/><rect x="495.2" y="226.63" width="8.8" height="8.77" fill="#ffe000"/><rect x="495.2" y="218.16" width="8.8" height="8.77" fill="#ffd400"/><rect x="495.2" y="209.70" width="8.8" height="8.77" fill="#ffc800"/><rect x="495.2" y="201.23" width="8.8" height="8.77" fill="#ff9800"/><rect x="495.2" y="192.77" width="8.8" height="8.77" fill="#ff8e00"/><rect x="495.2" y="184.30" width="8.8" height="8.77" fill="#ff8500"/><rect x="495.2" y="175.84" width="8.8" height="8.77" fill="#ff7d00"/><rect x="495.2" y="167.37" width="8.8" height="8.77" fill="#ff7300"/><rect x="495.2" y="158.91" width="8.8" height="8.77" fill="#ff4500"/><rect x="495.2" y="150.44" width="8.8" height="8.77" fill="#ff3a00"/><rect x="495.2" y="141.98" width="8.8" height="8.77" fill="#ff2e00"/><rect x="495.2" y="133.51" width="8.8" height="8.77" fill="#ff2200"/><rect x="495.2" y="125.05" width="8.8" height="8.77" fill="#ff1a00"/><rect x="495.2" y="116.58" width="8.8" height="8.77" fill="#c40000"/><rect x="495.2" y="108.12" width="8.8" height="8.77" fill="#c00000"/><rect x="495.2" y="99.65" width="8.8" height="8.77" fill="#b40500"/><rect x="495.2" y="91.19" width="8.8" height="8.77" fill="#a90d00"/><rect x="495.2" y="82.72" width="8.8" height="8.77" fill="#a31200"/><rect x="495.2" y="74.26" width="8.8" height="8.77" fill="#5e0f07"/><rect x="495.2" y="65.79" width="8.8" height="8.77" fill="#5e130c"/><rect x="495.2" y="57.33" width="8.8" height="8.77" fill="#5c1510"/><rect x="495.2" y="48.86" width="8.8" height="8.77" fill="#5a1713"/><rect x="495.2" y="40.40" width="8.8" height="8.77" fill="#5a1a17"/><path d="M504.0 548.30h2.4" stroke="#000" stroke-width="1"/><text class="tk" text-anchor="middle" x="524.0" y="556.70">300</text><path d="M504.0 497.51h2.4" stroke="#000" stroke-width="1"/><text class="tk" text-anchor="middle" x="524.0" y="505.91">279</text><path d="M504.0 446.72h2.4" stroke="#000" stroke-width="1"/><text class="tk" text-anchor="middle" x="524.0" y="455.12">258</text><path d="M504.0 395.93h2.4" stroke="#000" stroke-width="1"/><text class="tk" text-anchor="middle" x="524.0" y="404.33">237</text><path d="M504.0 345.14h2.4" stroke="#000" stroke-width="1"/><text class="tk" text-anchor="middle" x="524.0" y="353.54">216</text><path d="M504.0 294.35h2.4" stroke="#000" stroke-width="1"/><text class="tk" text-anchor="middle" x="524.0" y="302.75">195</text><path d="M504.0 243.56h2.4" stroke="#000" stroke-width="1"/><text class="tk" text-anchor="middle" x="524.0" y="251.96">174</text><path d="M504.0 192.77h2.4" stroke="#000" stroke-width="1"/><text class="tk" text-anchor="middle" x="524.0" y="201.17">153</text><path d="M504.0 141.98h2.4" stroke="#000" stroke-width="1"/><text class="tk" text-anchor="middle" x="524.0" y="150.38">132</text><path d="M504.0 91.19h2.4" stroke="#000" stroke-width="1"/><text class="tk" text-anchor="middle" x="524.0" y="99.59">111</text></g>
<g transform="translate(590.5 590.5)"><defs><clipPath id="esw"><path d="M13.0 92.5L168.0 196.2L240.0 245.5L325.6 306.4L404.2 362.9L486.0 423.2L486.0 548.3L100.3 548.3L13.0 487.0Z"/></clipPath><filter id="ef" x="0" y="0" width="1" height="1" filterUnits="objectBoundingBox" color-interpolation-filters="sRGB"><feGaussianBlur in="SourceGraphic" stdDeviation="3.2" result="b"/><feTurbulence type="fractalNoise" baseFrequency="0.13 0.13" numOctaves="4" seed="7" result="t"/><feColorMatrix in="t" type="matrix" values="0 0 1 0 0  0 0 1 0 0  0 0 1 0 0  0 0 0 0 1" result="tg"/><feDisplacementMap in="b" in2="t" scale="12" xChannelSelector="R" yChannelSelector="G" result="w"/><feComposite in="w" in2="tg" operator="arithmetic" k1="0" k2="1" k3="0.110" k4="-0.055" result="f"/><feComponentTransfer in="f" result="col"><feFuncR type="discrete" tableValues="1.000 0.973 0.945 0.914 0.886 0.855 0.827 0.800 0.769 0.741 0.714 0.682 0.655 0.624 0.596 0.533 0.502 0.471 0.439 0.416 0.816 0.706 0.612 0.502 0.424 0.329 0.298 0.282 0.251 0.188 0.000 0.000 0.000 0.000 0.000 1.000 1.000 1.000 1.000 1.000 1.000 1.000 1.000 1.000 1.000 1.000 1.000 1.000 1.000 1.000 0.769 0.753 0.706 0.663 0.639 0.369 0.369 0.361 0.353 0.353"/><feFuncG type="discrete" tableValues="1.000 0.973 0.945 0.914 0.886 0.855 0.827 0.800 0.769 0.741 0.714 0.682 0.655 0.624 0.596 0.910 0.863 0.816 0.784 0.749 0.831 0.800 0.769 0.737 0.722 0.675 0.549 0.439 0.314 0.188 0.000 0.000 0.000 0.000 0.000 1.000 0.941 0.878 0.831 0.784 0.596 0.557 0.522 0.490 0.451 0.271 0.227 0.180 0.133 0.102 0.000 0.000 0.020 0.051 0.071 0.059 0.075 0.082 0.090 0.102"/><feFuncB type="discrete" tableValues="1.000 0.973 0.945 0.914 0.886 0.855 0.827 0.800 0.769 0.741 0.714 0.682 0.655 0.624 0.596 0.533 0.502 0.471 0.439 0.416 1.000 1.000 1.000 1.000 1.000 1.000 1.000 1.000 1.000 1.000 1.000 0.941 0.878 0.824 0.784 0.000 0.000 0.000 0.000 0.000 0.000 0.000 0.000 0.000 0.000 0.000 0.000 0.000 0.000 0.000 0.000 0.000 0.000 0.000 0.000 0.027 0.047 0.063 0.075 0.090"/></feComponentTransfer></filter><linearGradient id="egr" x1="0" y1="1" x2="1" y2="0"><stop offset="0" stop-color="#474747"/><stop offset="0.5" stop-color="#4b4b4b"/><stop offset="1" stop-color="#515151"/></linearGradient></defs><path d="M433.3 385.5L485.8 394.5" stroke="#78d078" stroke-width="1.4"/><g clip-path="url(#esw)"><g filter="url(#ef)"><rect x="-100" y="-100" width="800" height="800" fill="url(#egr)"/><path d="M182.4 216.3L172.3 236.7L165.5 263.8L155.3 287.5L145.2 301.0L131.6 306.1L118.1 314.6L129.9 326.4L145.2 328.1L153.7 338.3L145.2 351.8L135.0 358.6L148.6 365.4L168.9 358.6L177.4 365.4L167.2 378.9L157.0 392.5L162.1 409.4L174.0 421.3L189.2 431.5L202.8 438.2L219.7 439.9L236.7 433.2L248.5 439.9L255.3 453.5L251.9 473.8L241.7 490.7L235.0 511.1L246.8 500.9L263.8 482.3L277.3 458.6L290.9 445.0L304.4 438.2L318.0 451.8L314.6 473.8L306.1 497.5L295.9 521.2L311.2 522.9L323.0 509.4L330.8 480.6L338.3 456.9L346.8 436.5L360.3 419.6L368.8 399.3L362.0 382.3L351.8 370.5L343.4 355.2L348.5 338.3L270.5 270.5Z" fill="#585858"/><path d="M199.4 233.3L229.9 246.8L257.0 253.6L304.4 287.5L338.3 324.7L343.4 351.8L340.0 378.9L326.4 406.0L306.1 431.5L284.1 438.2L257.0 431.5L236.7 421.3L216.3 428.1L189.2 423.0L174.0 406.0L177.4 385.7L187.5 365.4L177.4 351.8L167.2 334.9L157.0 324.7L167.2 311.2L177.4 290.9L187.5 263.8Z" fill="#606060"/><path d="M233.3 253.6L250.2 257.0L267.1 267.1L297.6 288.2L319.7 306.1L326.4 324.7L319.7 345.1L309.5 365.4L302.7 389.1L295.9 412.8L280.7 428.1L258.7 421.3L236.7 407.7L216.3 411.1L199.4 417.9L190.9 406.0L201.1 389.1L214.6 372.2L201.1 358.6L187.5 345.1L187.5 324.7L197.7 311.2L207.9 297.6L218.0 280.7Z" fill="#666666"/><path d="M243.4 277.3L267.1 270.5L297.6 294.2L311.2 314.6L309.5 338.3L297.6 358.6L284.1 372.2L262.1 377.3L236.7 373.9L214.6 358.6L204.5 338.3L207.9 321.4L221.4 304.4Z" fill="#6e6e6e"/><path d="M67.3 216.3L84.2 202.8L99.4 206.2L119.8 219.7L116.4 231.6L97.7 221.4L84.2 224.8L75.7 236.7Z" fill="#5e5e5e"/><path d="M84.9 206.8L93.7 206.8L93.7 217.0L84.9 217.0Z" fill="#808080"/><path d="M62.2 241.7L75.7 236.7L85.9 250.2L80.8 263.8L66.6 258.7Z" fill="#616161"/><path d="M71.3 246.1L81.5 246.1L81.5 256.3L71.3 256.3Z" fill="#858585"/><path d="M146.9 202.8L162.1 194.3L170.6 206.2L158.7 218.0Z" fill="#5c5c5c"/><path d="M75.7 356.9L101.1 350.1L129.9 353.5L145.2 368.8L140.1 385.7L114.7 387.4L92.7 377.3Z" fill="#616161"/><path d="M99.4 362.0L118.1 356.9L135.0 367.1L129.9 380.6L111.3 378.9Z" fill="#757575"/><path d="M108.6 364.7L122.1 362.7L128.9 372.2L116.4 376.2Z" fill="#8e8e8e"/><path d="M35.1 377.3L50.3 370.5L62.2 385.7L55.4 401.0L40.8 395.2Z" fill="#616161"/><path d="M46.3 383.0L54.4 383.0L54.4 395.2L46.3 395.2Z" fill="#8a8a8a"/><path d="M92.7 438.2L114.7 431.5L136.7 433.2L150.3 446.7L135.0 458.6L111.3 455.2Z" fill="#5e5e5e"/><path d="M128.9 438.6L141.1 438.6L141.1 449.4L128.9 449.4Z" fill="#858585"/><path d="M-20.8 301.0L23.9 303.1L20.5 325.4L-20.8 334.2Z" fill="#5c5c5c"/><path d="M-20.8 356.9L37.4 353.5L30.7 369.5L-20.8 372.8Z" fill="#5c5c5c"/><path d="M-20.8 397.6L23.9 405.4L34.1 426.4L20.5 440.6L-20.8 437.2Z" fill="#5c5c5c"/><path d="M-20.8 448.4L37.4 456.2L54.4 474.5L30.7 471.1L-20.8 474.5Z" fill="#5c5c5c"/><path d="M119.8 299.3L141.8 306.1L157.0 321.4L135.0 323.0Z" fill="#5c5c5c"/><path d="M59.8 500.2L81.5 503.6L78.1 515.1L59.8 511.8Z" fill="#5b5b5b"/><path d="M188.5 449.4L206.8 452.8L203.5 464.3L188.5 460.9Z" fill="#5b5b5b"/><path d="M404.4 367.1L416.9 374.9L420.3 393.2L409.4 389.8Z" fill="#5b5b5b"/><path d="M318.0 302.7L338.3 323.0L353.5 351.8L356.9 380.6L345.1 373.9L334.9 348.5L321.4 331.5Z" fill="#6e6e6e"/><path d="M277.3 426.4L294.9 415.5L298.3 439.9L288.2 467.7L277.3 457.5Z" fill="#666666"/><path d="M249.5 473.1L264.4 479.9L257.7 498.2L246.1 498.2Z" fill="#636363"/><path d="M313.9 490.1L325.4 486.7L322.0 515.1L308.8 518.5Z" fill="#636363"/><path d="M204.8 401.3L221.1 401.3L221.1 417.6L204.8 417.6Z" fill="#858585"/><path d="M265.8 391.1L278.7 391.1L277.0 410.8L264.1 410.8Z" fill="#8f8f8f"/><path d="M473.1 540.9L514.5 538.9L514.5 575.4L473.1 575.4Z" fill="#707070"/><path d="M174.3 340.3L185.2 340.3L185.2 349.8L174.3 349.8Z" fill="#787878"/><path d="M341.7 389.1L350.1 389.1L350.1 399.3L341.7 399.3Z" fill="#757575"/><path d="M250.3 264.4L272.3 267.7L289.3 281.3L301.1 301.6L305.4 322.0L302.0 342.3L291.0 355.8L277.4 353.3L269.0 360.9L255.4 368.5L240.2 371.1L226.6 364.3L214.7 352.4L209.7 335.5L216.4 320.3L231.7 310.9L243.5 312.6L247.8 305.0L248.6 291.5L245.2 277.9Z" fill="#7c7c7c"/><path d="M255.4 271.1L270.6 274.5L284.2 284.7L294.4 301.6L299.4 322.0L296.1 338.9L287.6 349.1L275.7 345.7L267.3 354.1L255.4 360.9L241.8 364.3L230.0 357.5L219.8 347.4L216.4 335.5L221.5 325.3L233.4 316.9L245.2 318.6L252.0 311.8L253.7 298.2L250.3 284.7Z" fill="#8a8a8a"/></g><path d="M242.7 344.8L250.3 340.6L255.4 332.1L262.2 327.0L265.6 320.3L269.0 315.2L267.3 306.7L272.3 310.1L275.7 299.9L282.5 305.0L279.1 310.1L287.6 313.5L288.4 318.6L284.2 322.0L279.1 318.6L277.4 323.7L280.8 327.0L277.4 332.1L274.0 338.9L269.0 335.5L263.9 340.6L258.8 338.9L253.7 347.4L248.6 350.8L245.2 349.1Z" fill="#ffee00"/><rect x="476" y="428" width="10" height="16" fill="#999"/><rect x="480" y="446" width="4" height="6" fill="#999"/><rect x="470" y="420" width="3" height="4" fill="#999"/><rect x="73" y="294" width="4" height="6" fill="#999"/><rect x="89" y="328" width="5" height="6" fill="#999"/><rect x="84" y="313" width="3" height="4" fill="#999"/><rect x="84" y="346" width="4" height="4" fill="#999"/><rect x="466" y="500" width="3" height="8" fill="#999"/><rect x="478" y="470" width="3" height="5" fill="#999"/></g><use href="#grid"/><use href="#coast"/><use href="#swath"/><use href="#labels"/><use href="#cross"/><text class="tt" x="43.5" y="66.6">37GHz PCT (K)</text><text class="lt" x="439.5" y="523">(e)</text><rect x="495.2" y="531.37" width="8.8" height="8.77" fill="#f8f8f8"/><rect x="495.2" y="522.90" width="8.8" height="8.77" fill="#f1f1f1"/><rect x="495.2" y="514.44" width="8.8" height="8.77" fill="#e9e9e9"/><rect x="495.2" y="505.97" width="8.8" height="8.77" fill="#e2e2e2"/><rect x="495.2" y="497.51" width="8.8" height="8.77" fill="#dadada"/><rect x="495.2" y="489.04" width="8.8" height="8.77" fill="#d3d3d3"/><rect x="495.2" y="480.58" width="8.8" height="8.77" fill="#cccccc"/><rect x="495.2" y="472.11" width="8.8" height="8.77" fill="#c4c4c4"/><rect x="495.2" y="463.65" width="8.8" height="8.77" fill="#bdbdbd"/><rect x="495.2" y="455.18" width="8.8" height="8.77" fill="#b6b6b6"/><rect x="495.2" y="446.72" width="8.8" height="8.77" fill="#aeaeae"/><rect x="495.2" y="438.25" width="8.8" height="8.77" fill="#a7a7a7"/><rect x="495.2" y="429.79" width="8.8" height="8.77" fill="#9f9f9f"/><rect x="495.2" y="421.32" width="8.8" height="8.77" fill="#989898"/><rect x="495.2" y="412.86" width="8.8" height="8.77" fill="#88e888"/><rect x="495.2" y="404.39" width="8.8" height="8.77" fill="#80dc80"/><rect x="495.2" y="395.93" width="8.8" height="8.77" fill="#78d078"/><rect x="495.2" y="387.46" width="8.8" height="8.77" fill="#70c870"/><rect x="495.2" y="379.00" width="8.8" height="8.77" fill="#6abf6a"/><rect x="495.2" y="370.53" width="8.8" height="8.77" fill="#d0d4ff"/><rect x="495.2" y="362.07" width="8.8" height="8.77" fill="#b4ccff"/><rect x="495.2" y="353.60" width="8.8" height="8.77" fill="#9cc4ff"/><rect x="495.2" y="345.14" width="8.8" height="8.77" fill="#80bcff"/><rect x="495.2" y="336.67" width="8.8" height="8.77" fill="#6cb8ff"/><rect x="495.2" y="328.21" width="8.8" height="8.77" fill="#54acff"/><rect x="495.2" y="319.74" width="8.8" height="8.77" fill="#4c8cff"/><rect x="495.2" y="311.28" width="8.8" height="8.77" fill="#4870ff"/><rect x="495.2" y="302.81" width="8.8" height="8.77" fill="#4050ff"/><rect x="495.2" y="294.35" width="8.8" height="8.77" fill="#3030ff"/><rect x="495.2" y="285.88" width="8.8" height="8.77" fill="#0000ff"/><rect x="495.2" y="277.42" width="8.8" height="8.77" fill="#0000f0"/><rect x="495.2" y="268.95" width="8.8" height="8.77" fill="#0000e0"/><rect x="495.2" y="260.49" width="8.8" height="8.77" fill="#0000d2"/><rect x="495.2" y="252.02" width="8.8" height="8.77" fill="#0000c8"/><rect x="495.2" y="243.56" width="8.8" height="8.77" fill="#ffff00"/><rect x="495.2" y="235.09" width="8.8" height="8.77" fill="#fff000"/><rect x="495.2" y="226.63" width="8.8" height="8.77" fill="#ffe000"/><rect x="495.2" y="218.16" width="8.8" height="8.77" fill="#ffd400"/><rect x="495.2" y="209.70" width="8.8" height="8.77" fill="#ffc800"/><rect x="495.2" y="201.23" width="8.8" height="8.77" fill="#ff9800"/><rect x="495.2" y="192.77" width="8.8" height="8.77" fill="#ff8e00"/><rect x="495.2" y="184.30" width="8.8" height="8.77" fill="#ff8500"/><rect x="495.2" y="175.84" width="8.8" height="8.77" fill="#ff7d00"/><rect x="495.2" y="167.37" width="8.8" height="8.77" fill="#ff7300"/><rect x="495.2" y="158.91" width="8.8" height="8.77" fill="#ff4500"/><rect x="495.2" y="150.44" width="8.8" height="8.77" fill="#ff3a00"/><rect x="495.2" y="141.98" width="8.8" height="8.77" fill="#ff2e00"/><rect x="495.2" y="133.51" width="8.8" height="8.77" fill="#ff2200"/><rect x="495.2" y="125.05" width="8.8" height="8.77" fill="#ff1a00"/><rect x="495.2" y="116.58" width="8.8" height="8.77" fill="#c40000"/><rect x="495.2" y="108.12" width="8.8" height="8.77" fill="#c00000"/><rect x="495.2" y="99.65" width="8.8" height="8.77" fill="#b40500"/><rect x="495.2" y="91.19" width="8.8" height="8.77" fill="#a90d00"/><rect x="495.2" y="82.72" width="8.8" height="8.77" fill="#a31200"/><rect x="495.2" y="74.26" width="8.8" height="8.77" fill="#5e0f07"/><rect x="495.2" y="65.79" width="8.8" height="8.77" fill="#5e130c"/><rect x="495.2" y="57.33" width="8.8" height="8.77" fill="#5c1510"/><rect x="495.2" y="48.86" width="8.8" height="8.77" fill="#5a1713"/><rect x="495.2" y="40.40" width="8.8" height="8.77" fill="#5a1a17"/><path d="M504.0 548.30h2.4" stroke="#000" stroke-width="1"/><text class="tk" text-anchor="middle" x="524.0" y="556.70">315</text><path d="M504.0 497.51h2.4" stroke="#000" stroke-width="1"/><text class="tk" text-anchor="middle" x="524.0" y="505.91">306</text><path d="M504.0 446.72h2.4" stroke="#000" stroke-width="1"/><text class="tk" text-anchor="middle" x="524.0" y="455.12">297</text><path d="M504.0 395.93h2.4" stroke="#000" stroke-width="1"/><text class="tk" text-anchor="middle" x="524.0" y="404.33">288</text><path d="M504.0 345.14h2.4" stroke="#000" stroke-width="1"/><text class="tk" text-anchor="middle" x="524.0" y="353.54">279</text><path d="M504.0 294.35h2.4" stroke="#000" stroke-width="1"/><text class="tk" text-anchor="middle" x="524.0" y="302.75">270</text><path d="M504.0 243.56h2.4" stroke="#000" stroke-width="1"/><text class="tk" text-anchor="middle" x="524.0" y="251.96">261</text><path d="M504.0 192.77h2.4" stroke="#000" stroke-width="1"/><text class="tk" text-anchor="middle" x="524.0" y="201.17">252</text><path d="M504.0 141.98h2.4" stroke="#000" stroke-width="1"/><text class="tk" text-anchor="middle" x="524.0" y="150.38">243</text><path d="M504.0 91.19h2.4" stroke="#000" stroke-width="1"/><text class="tk" text-anchor="middle" x="524.0" y="99.59">234</text></g>
<g transform="translate(1181.0 590.5)"><defs><clipPath id="fbody"><path d="M245.4 248.8L257.3 257.3L269.1 267.4L277.6 274.2L287.8 283.5L292.0 289.4L290.3 294.5L294.5 300.5L292.8 308.1L297.1 316.5L295.4 323.3L299.6 330.1L303.9 338.6L307.2 347.0L308.1 356.4L304.7 358.9L303.9 369.1L306.4 374.1L312.3 379.2L311.5 387.7L304.7 391.1L303.9 396.2L297.9 397.9L294.5 403.8L292.8 411.4L290.3 418.2L284.4 420.7L283.5 426.7L279.3 433.4L276.7 440.2L279.3 445.3L280.1 449.5L274.2 447.8L269.1 441.9L262.3 437.7L261.5 430.0L264.0 425.0L263.2 418.2L259.8 413.1L256.4 406.3L252.2 402.1L245.4 399.6L240.3 404.6L233.6 408.0L228.5 413.1L220.0 417.3L213.4 420.7L206.7 428.3L199.9 429.2L196.5 425.0L193.1 423.3L188.0 426.7L186.3 431.7L181.3 426.7L179.6 419.9L176.2 413.1L169.4 416.5L166.0 413.1L160.9 409.7L162.6 406.3L169.4 404.6L174.5 401.2L171.1 398.7L162.6 397.0L158.4 394.5L164.3 391.1L169.4 384.3L176.2 386.0L182.1 384.3L179.6 391.1L176.2 397.9L179.6 401.2L188.0 399.6L194.8 401.2L199.9 394.5L206.7 391.1L211.7 384.3L218.5 380.9L223.6 379.2L227.0 374.1L225.3 367.4L220.2 362.3L211.7 358.9L203.3 357.2L194.8 358.9L186.3 357.2L177.9 352.1L169.4 347.0L164.3 340.3L157.5 333.5L149.1 328.4L140.6 323.3L132.1 319.9L125.4 316.5L123.7 311.5L128.7 308.9L135.5 311.5L144.0 316.5L152.5 319.9L160.9 325.0L169.4 330.1L177.9 331.8L186.3 335.2L193.1 333.5L194.0 328.4L189.7 321.6L184.6 316.5L179.6 314.9L182.1 309.8L177.9 304.7L172.8 297.9L169.4 289.4L176.2 292.8L182.9 297.9L188.0 299.6L191.4 294.5L189.7 287.7L190.6 281.0L186.3 274.2L188.0 267.4L191.4 260.6L196.5 264.0L201.6 260.6L206.7 257.3L211.7 252.2L215.1 255.6L220.2 262.3L227.0 265.7L232.1 259.0L238.8 253.9L245.6 249.6ZM292.8 365.7L299.6 369.1L303.9 375.8L303.0 382.6L299.6 388.5L292.8 389.4L287.8 386.0L288.6 375.8L289.5 369.1Z" clip-rule="evenodd"/></clipPath></defs><path d="M245.4 248.8L257.3 257.3L269.1 267.4L277.6 274.2L287.8 283.5L292.0 289.4L290.3 294.5L294.5 300.5L292.8 308.1L297.1 316.5L295.4 323.3L299.6 330.1L303.9 338.6L307.2 347.0L308.1 356.4L304.7 358.9L303.9 369.1L306.4 374.1L312.3 379.2L311.5 387.7L304.7 391.1L303.9 396.2L297.9 397.9L294.5 403.8L292.8 411.4L290.3 418.2L284.4 420.7L283.5 426.7L279.3 433.4L276.7 440.2L279.3 445.3L280.1 449.5L274.2 447.8L269.1 441.9L262.3 437.7L261.5 430.0L264.0 425.0L263.2 418.2L259.8 413.1L256.4 406.3L252.2 402.1L245.4 399.6L240.3 404.6L233.6 408.0L228.5 413.1L220.0 417.3L213.4 420.7L206.7 428.3L199.9 429.2L196.5 425.0L193.1 423.3L188.0 426.7L186.3 431.7L181.3 426.7L179.6 419.9L176.2 413.1L169.4 416.5L166.0 413.1L160.9 409.7L162.6 406.3L169.4 404.6L174.5 401.2L171.1 398.7L162.6 397.0L158.4 394.5L164.3 391.1L169.4 384.3L176.2 386.0L182.1 384.3L179.6 391.1L176.2 397.9L179.6 401.2L188.0 399.6L194.8 401.2L199.9 394.5L206.7 391.1L211.7 384.3L218.5 380.9L223.6 379.2L227.0 374.1L225.3 367.4L220.2 362.3L211.7 358.9L203.3 357.2L194.8 358.9L186.3 357.2L177.9 352.1L169.4 347.0L164.3 340.3L157.5 333.5L149.1 328.4L140.6 323.3L132.1 319.9L125.4 316.5L123.7 311.5L128.7 308.9L135.5 311.5L144.0 316.5L152.5 319.9L160.9 325.0L169.4 330.1L177.9 331.8L186.3 335.2L193.1 333.5L194.0 328.4L189.7 321.6L184.6 316.5L179.6 314.9L182.1 309.8L177.9 304.7L172.8 297.9L169.4 289.4L176.2 292.8L182.9 297.9L188.0 299.6L191.4 294.5L189.7 287.7L190.6 281.0L186.3 274.2L188.0 267.4L191.4 260.6L196.5 264.0L201.6 260.6L206.7 257.3L211.7 252.2L215.1 255.6L220.2 262.3L227.0 265.7L232.1 259.0L238.8 253.9L245.6 249.6ZM292.8 365.7L299.6 369.1L303.9 375.8L303.0 382.6L299.6 388.5L292.8 389.4L287.8 386.0L288.6 375.8L289.5 369.1Z" fill="#88e488" fill-rule="evenodd"/><g clip-path="url(#fbody)"><path d="M203.3 274.2L237.2 284.4L264.3 318.2L271.0 358.9L264.3 409.7L250.7 392.8L243.9 355.5L220.2 318.2Z" fill="#7cd87c" opacity="0.8"/><path d="M211.7 304.7l6.8 3.4l0 10.2l-6.8 -3.4z" fill="#4870ff"/><path d="M205.8 318.2l8.5 4.2l0 11.9l-8.5 -4.2z" fill="#80bcff"/><path d="M201.6 325.0l10.2 5.1l0 6.8l-10.2 -5.1z" fill="#b4ccff"/><path d="M208.4 330.1l8.5 4.2l0 10.2l-8.5 -4.2z" fill="#0000ff"/><path d="M205.0 338.6l8.5 4.2l0 8.5l-8.5 -4.2z" fill="#3030ff"/><path d="M215.1 321.6l6.8 3.4l0 8.5l-6.8 -3.4z" fill="#b4ccff"/><path d="M227.0 313.2l10.2 5.1l0 6.8l-10.2 -5.1z" fill="#0000f0"/><path d="M223.6 319.9l13.6 6.8l0 6.8l-13.6 -6.8z" fill="#b4ccff"/><path d="M218.5 338.6l13.6 6.8l0 6.8l-13.6 -6.8z" fill="#d0d4ff"/><path d="M227.0 340.3l10.2 5.1l0 5.1l-10.2 -5.1z" fill="#80bcff"/><path d="M237.2 328.4l11.9 5.9l0 10.2l-11.9 -5.9z" fill="#d0d4ff"/><path d="M247.3 314.9l6.8 3.4l0 10.2l-6.8 -3.4z" fill="#0000ff"/><path d="M250.7 325.0l6.8 3.4l0 10.2l-6.8 -3.4z" fill="#4870ff"/><path d="M254.1 335.2l8.5 4.2l0 8.5l-8.5 -4.2z" fill="#80bcff"/><path d="M243.9 338.6l8.5 4.2l0 6.8l-8.5 -4.2z" fill="#b4ccff"/><path d="M255.8 297.9l6.8 3.4l0 8.5l-6.8 -3.4z" fill="#b4ccff"/><path d="M264.3 301.3l6.8 3.4l0 6.8l-6.8 -3.4z" fill="#d0d4ff"/><path d="M271.0 311.5l8.5 4.2l0 10.2l-8.5 -4.2z" fill="#b4ccff"/><path d="M279.5 299.6l6.8 3.4l0 6.8l-6.8 -3.4z" fill="#d0d4ff"/><path d="M286.3 321.6l6.8 3.4l0 11.9l-6.8 -3.4z" fill="#d0d4ff"/><path d="M264.3 321.6l6.8 3.4l0 10.2l-6.8 -3.4z" fill="#b4ccff"/><path d="M172.8 338.6l8.5 4.2l0 5.1l-8.5 -4.2z" fill="#b4ccff"/><path d="M179.6 341.1l6.8 3.4l0 5.1l-6.8 -3.4z" fill="#4870ff"/><path d="M184.6 343.7l5.1 2.5l0 4.2l-5.1 -2.5z" fill="#80bcff"/><path d="M225.3 277.6l5.1 2.5l0 3.4l-5.1 -2.5z" fill="#d0d4ff"/><path d="M210.1 406.3l10.2 5.1l0 6.8l-10.2 -5.1z" fill="#80bcff"/><path d="M215.1 402.9l6.8 3.4l0 6.8l-6.8 -3.4z" fill="#4870ff"/><path d="M221.9 396.2l6.8 3.4l0 10.2l-6.8 -3.4z" fill="#b4ccff"/><path d="M237.2 379.2l6.8 3.4l0 10.2l-6.8 -3.4z" fill="#b4ccff"/><path d="M242.2 374.1l3.4 1.7l0 8.5l-3.4 -1.7z" fill="#80bcff"/><path d="M196.5 401.2l5.1 2.5l0 5.1l-5.1 -2.5z" fill="#b4ccff"/><path d="M266.0 370.8l3.4 1.7l0 5.1l-3.4 -1.7z" fill="#b4ccff"/><path d="M247.3 394.5l6.8 3.4l0 3.4l-6.8 -3.4z" fill="#d0d4ff"/></g><path d="M245.4 248.8L257.3 257.3L269.1 267.4L277.6 274.2L287.8 283.5L292.0 289.4L290.3 294.5L294.5 300.5L292.8 308.1L297.1 316.5L295.4 323.3L299.6 330.1L303.9 338.6L307.2 347.0L308.1 356.4L304.7 358.9L303.9 369.1L306.4 374.1L312.3 379.2L311.5 387.7L304.7 391.1L303.9 396.2L297.9 397.9L294.5 403.8L292.8 411.4L290.3 418.2L284.4 420.7L283.5 426.7L279.3 433.4L276.7 440.2L279.3 445.3L280.1 449.5L274.2 447.8L269.1 441.9L262.3 437.7L261.5 430.0L264.0 425.0L263.2 418.2L259.8 413.1L256.4 406.3L252.2 402.1L245.4 399.6L240.3 404.6L233.6 408.0L228.5 413.1L220.0 417.3L213.4 420.7L206.7 428.3L199.9 429.2L196.5 425.0L193.1 423.3L188.0 426.7L186.3 431.7L181.3 426.7L179.6 419.9L176.2 413.1L169.4 416.5L166.0 413.1L160.9 409.7L162.6 406.3L169.4 404.6L174.5 401.2L171.1 398.7L162.6 397.0L158.4 394.5L164.3 391.1L169.4 384.3L176.2 386.0L182.1 384.3L179.6 391.1L176.2 397.9L179.6 401.2L188.0 399.6L194.8 401.2L199.9 394.5L206.7 391.1L211.7 384.3L218.5 380.9L223.6 379.2L227.0 374.1L225.3 367.4L220.2 362.3L211.7 358.9L203.3 357.2L194.8 358.9L186.3 357.2L177.9 352.1L169.4 347.0L164.3 340.3L157.5 333.5L149.1 328.4L140.6 323.3L132.1 319.9L125.4 316.5L123.7 311.5L128.7 308.9L135.5 311.5L144.0 316.5L152.5 319.9L160.9 325.0L169.4 330.1L177.9 331.8L186.3 335.2L193.1 333.5L194.0 328.4L189.7 321.6L184.6 316.5L179.6 314.9L182.1 309.8L177.9 304.7L172.8 297.9L169.4 289.4L176.2 292.8L182.9 297.9L188.0 299.6L191.4 294.5L189.7 287.7L190.6 281.0L186.3 274.2L188.0 267.4L191.4 260.6L196.5 264.0L201.6 260.6L206.7 257.3L211.7 252.2L215.1 255.6L220.2 262.3L227.0 265.7L232.1 259.0L238.8 253.9L245.6 249.6ZM292.8 365.7L299.6 369.1L303.9 375.8L303.0 382.6L299.6 388.5L292.8 389.4L287.8 386.0L288.6 375.8L289.5 369.1Z" fill="none" stroke="#000" stroke-width="1.4" stroke-linejoin="round"/><path d="M79.6 209.8L88.1 207.3L94.0 211.5L98.2 216.6L105.0 214.9L109.3 215.8L109.3 222.5L101.6 220.8L94.9 216.6L91.5 219.1L83.0 218.3L77.1 216.6Z" fill="#88e488" stroke="#000" stroke-width="1.3" stroke-linejoin="round"/><path d="M72.8 222.5L77.1 223.4L76.2 226.8L72.0 225.9Z" fill="#88e488" stroke="#000" stroke-width="1.3" stroke-linejoin="round"/><path d="M66.1 242.0L72.8 240.3L79.6 243.7L83.0 252.2L82.2 260.6L76.2 257.3L69.5 248.8Z" fill="#88e488" stroke="#000" stroke-width="1.3" stroke-linejoin="round"/><path d="M160.9 206.4L166.0 205.6L167.7 209.8L162.6 211.5Z" fill="#88e488" stroke="#000" stroke-width="1.3" stroke-linejoin="round"/><path d="M199.9 230.2L208.4 228.5L206.7 236.9L201.6 235.2Z" fill="#88e488" stroke="#000" stroke-width="1.3" stroke-linejoin="round"/><path d="M13.2 299.6L18.6 301.3L21.2 308.1L17.8 314.9L18.6 319.1L13.2 318.2Z" fill="#88e488" stroke="#000" stroke-width="1.3" stroke-linejoin="round"/><path d="M13.2 340.3L20.3 345.3L28.8 357.2L28.0 365.7L22.0 372.4L16.9 375.8L16.9 389.4L15.2 401.2L20.3 416.5L18.6 426.7L22.0 436.8L20.3 447.0L23.7 457.1L20.3 462.2L13.2 463.9Z" fill="#88e488" stroke="#000" stroke-width="1.3" stroke-linejoin="round"/><path d="M22.0 438.5L30.5 440.2L37.3 453.8L45.7 467.3L54.2 479.2L58.4 484.2L50.8 480.9L40.7 469.0L30.5 457.1L23.7 447.0Z" fill="#88e488" stroke="#000" stroke-width="1.3" stroke-linejoin="round"/><path d="M74.5 335.2L79.6 336.9L79.6 343.7L88.1 348.7L101.6 349.6L108.4 347.9L118.6 353.8L128.7 357.2L135.5 360.6L133.8 352.1L140.6 355.5L149.1 360.6L155.8 367.4L162.6 375.0L155.8 373.3L150.8 375.8L135.5 377.5L128.7 380.9L118.6 380.1L108.4 378.4L99.9 374.1L93.2 367.4L84.7 364.0L76.2 368.2L74.5 362.3L77.9 355.5L76.2 347.0Z" fill="#88e488" stroke="#000" stroke-width="1.3" stroke-linejoin="round"/><path d="M50.8 372.4L57.6 375.8L62.7 381.8L57.6 387.7L54.2 395.3L48.3 395.3L44.9 386.0L45.7 377.5Z" fill="#88e488" stroke="#000" stroke-width="1.3" stroke-linejoin="round"/><path d="M93.2 384.3L98.2 380.9L97.4 387.7L94.9 390.2Z" fill="#88e488" stroke="#000" stroke-width="1.3" stroke-linejoin="round"/><path d="M51.7 408.0L56.7 405.5L55.9 412.3L53.4 413.1Z" fill="#88e488" stroke="#000" stroke-width="1.3" stroke-linejoin="round"/><path d="M118.6 439.4L128.7 436.0L138.9 438.5L145.7 443.6L144.0 452.1L135.5 453.8L125.4 451.2L118.6 447.0Z" fill="#88e488" stroke="#000" stroke-width="1.3" stroke-linejoin="round"/><path d="M155.8 428.3L160.1 425.8L162.6 430.9L159.2 433.4Z" fill="#88e488" stroke="#000" stroke-width="1.3" stroke-linejoin="round"/><path d="M182.9 428.3L188.0 429.2L186.3 432.6Z" fill="#88e488" stroke="#000" stroke-width="1.3" stroke-linejoin="round"/><path d="M120.3 289.4L125.4 291.1L124.5 292.8Z" fill="#88e488" stroke="#000" stroke-width="1.3" stroke-linejoin="round"/><path d="M286.3 455.5L294.7 452.9L295.6 457.1L288.0 458.8Z" fill="#88e488" stroke="#000" stroke-width="1.3" stroke-linejoin="round"/><path d="M320.8 308.1L325.9 306.4L331.8 313.2L338.6 316.5L340.3 320.8L336.0 325.9L325.9 324.2L322.5 314.9Z" fill="#88e488" stroke="#000" stroke-width="1.3" stroke-linejoin="round"/><path d="M335.2 339.4L338.6 340.3L345.4 348.7L350.4 355.5L352.1 358.9L355.5 365.7L362.3 374.1L355.5 372.4L348.7 371.6L347.0 379.2L350.4 386.0L351.3 391.1L345.4 394.5L343.7 399.6L344.5 404.6L338.6 409.7L336.9 413.9L335.2 409.7L338.6 402.9L340.3 397.9L336.9 392.8L338.6 384.3L342.0 379.2L341.1 372.4L336.9 369.1L333.5 362.3L332.6 352.1L335.2 347.0Z" fill="#88e488" stroke="#000" stroke-width="1.3" stroke-linejoin="round"/><path d="M320.8 413.9L325.9 418.2L324.2 423.3L319.1 421.6Z" fill="#88e488" stroke="#000" stroke-width="1.3" stroke-linejoin="round"/><path d="M305.5 426.7L313.2 425.8L314.0 430.0L311.5 441.9L308.1 443.6L303.0 436.8Z" fill="#88e488" stroke="#000" stroke-width="1.3" stroke-linejoin="round"/><path d="M328.4 443.6L335.2 438.5L338.6 440.2L344.5 436.8L346.2 426.7L347.9 438.5L346.2 450.4L338.6 451.2L336.9 455.5L332.6 450.4Z" fill="#88e488" stroke="#000" stroke-width="1.3" stroke-linejoin="round"/><path d="M319.9 480.9L325.0 475.8L330.1 477.5L333.5 469.0L335.2 467.3L331.8 477.5L328.4 484.2L323.3 480.9Z" fill="#88e488" stroke="#000" stroke-width="1.3" stroke-linejoin="round"/><path d="M287.8 453.8L294.5 452.1L292.8 457.1L288.6 458.8Z" fill="#88e488" stroke="#000" stroke-width="1.3" stroke-linejoin="round"/><path d="M413.1 456.3L417.3 457.1L416.5 461.4L413.1 460.5Z" fill="#88e488" stroke="#000" stroke-width="1.3" stroke-linejoin="round"/><path d="M464.8 441.9L469.0 442.7L468.2 446.1Z" fill="#88e488" stroke="#000" stroke-width="1.3" stroke-linejoin="round"/><path d="M316.9 494.1L325.4 495.8L328.8 504.3L323.7 507.7L320.3 516.2L311.9 514.5L313.5 506.0Z" fill="#88e488" stroke="#000" stroke-width="1.3" stroke-linejoin="round"/><path d="M471.1 538.2L479.6 531.4L486.3 533.1L486.3 548.3L477.9 546.6Z" fill="#88e488" stroke="#000" stroke-width="1.3" stroke-linejoin="round"/><path d="M122.1 541.6L128.9 538.2L128.2 547.7L122.8 547.7Z" fill="#88e488" stroke="#000" stroke-width="1.3" stroke-linejoin="round"/><path d="M211.7 240.3L215.1 245.4L218.5 238.6L221.9 243.7L225.3 236.9L228.7 240.3L227.0 245.4L223.6 248.8L220.2 247.1L216.8 252.2L214.3 248.8" fill="none" stroke="#000" stroke-width="1.1"/><path d="M227.0 265.7L230.4 259.8L232.9 262.3L236.3 256.4L238.8 259.0L242.2 252.2L245.6 249.6" fill="none" stroke="#000" stroke-width="1.1"/><path d="M99.9 362.3l6.8 3.4l0 6.8l-6.8 -3.4z" fill="#4870ff"/><path d="M108.4 364.0l10.2 5.1l0 8.5l-10.2 -5.1z" fill="#54acff"/><path d="M118.6 369.1l11.9 5.9l0 6.8l-11.9 -5.9z" fill="#b4ccff"/><path d="M84.7 352.1l6.8 3.4l0 5.1l-6.8 -3.4z" fill="#d0d4ff"/><path d="M91.5 358.9l6.8 3.4l0 5.1l-6.8 -3.4z" fill="#b4ccff"/><path d="M125.4 370.8l8.5 4.2l0 6.8l-8.5 -4.2z" fill="#d0d4ff"/><path d="M48.3 382.6l8.5 4.2l0 8.5l-8.5 -4.2z" fill="#80bcff"/><path d="M49.1 389.4l5.1 2.5l0 5.1l-5.1 -2.5z" fill="#b4ccff"/><path d="M130.4 441.9l8.5 4.2l0 5.1l-8.5 -4.2z" fill="#3050ff"/><path d="M128.7 445.3l11.9 5.9l0 5.1l-11.9 -5.9z" fill="#b4ccff"/><path d="M72.8 247.1l3.4 1.7l0 3.4l-3.4 -1.7z" fill="#b4ccff"/><use href="#grid"/><use href="#coast"/><use href="#swath"/><use href="#labels"/><use href="#cross"/><text x="144.0" y="381.8" font-size="21" font-style="italic" text-anchor="middle" stroke="#fff" stroke-width="0">0</text><text x="212.6" y="366.5" font-size="21" font-style="italic" text-anchor="middle" stroke="#fff" stroke-width="0">0</text><text class="tt" x="37.4" y="66.6">2A12 rainrate (mm/hr)</text><text class="lt" x="439.5" y="523">(f)</text><rect x="495.2" y="531.37" width="8.8" height="8.77" fill="#88e888"/><rect x="495.2" y="522.90" width="8.8" height="8.77" fill="#88e888"/><rect x="495.2" y="514.44" width="8.8" height="8.77" fill="#80dc80"/><rect x="495.2" y="505.97" width="8.8" height="8.77" fill="#78d078"/><rect x="495.2" y="497.51" width="8.8" height="8.77" fill="#78d078"/><rect x="495.2" y="489.04" width="8.8" height="8.77" fill="#70c870"/><rect x="495.2" y="480.58" width="8.8" height="8.77" fill="#6abf6a"/><rect x="495.2" y="472.11" width="8.8" height="8.77" fill="#d0d4ff"/><rect x="495.2" y="463.65" width="8.8" height="8.77" fill="#b4ccff"/><rect x="495.2" y="455.18" width="8.8" height="8.77" fill="#b4ccff"/><rect x="495.2" y="446.72" width="8.8" height="8.77" fill="#9cc4ff"/><rect x="495.2" y="438.25" width="8.8" height="8.77" fill="#80bcff"/><rect x="495.2" y="429.79" width="8.8" height="8.77" fill="#6cb8ff"/><rect x="495.2" y="421.32" width="8.8" height="8.77" fill="#6cb8ff"/><rect x="495.2" y="412.86" width="8.8" height="8.77" fill="#54acff"/><rect x="495.2" y="404.39" width="8.8" height="8.77" fill="#4c8cff"/><rect x="495.2" y="395.93" width="8.8" height="8.77" fill="#4870ff"/><rect x="495.2" y="387.46" width="8.8" height="8.77" fill="#4870ff"/><rect x="495.2" y="379.00" width="8.8" height="8.77" fill="#4050ff"/><rect x="495.2" y="370.53" width="8.8" height="8.77" fill="#3030ff"/><rect x="495.2" y="362.07" width="8.8" height="8.77" fill="#0000ff"/><rect x="495.2" y="353.60" width="8.8" height="8.77" fill="#0000ff"/><rect x="495.2" y="345.14" width="8.8" height="8.77" fill="#0000f0"/><rect x="495.2" y="336.67" width="8.8" height="8.77" fill="#0000e0"/><rect x="495.2" y="328.21" width="8.8" height="8.77" fill="#0000e0"/><rect x="495.2" y="319.74" width="8.8" height="8.77" fill="#0000d2"/><rect x="495.2" y="311.28" width="8.8" height="8.77" fill="#0000c8"/><rect x="495.2" y="302.81" width="8.8" height="8.77" fill="#ffff00"/><rect x="495.2" y="294.35" width="8.8" height="8.77" fill="#ffff00"/><rect x="495.2" y="285.88" width="8.8" height="8.77" fill="#fff000"/><rect x="495.2" y="277.42" width="8.8" height="8.77" fill="#ffe000"/><rect x="495.2" y="268.95" width="8.8" height="8.77" fill="#ffe000"/><rect x="495.2" y="260.49" width="8.8" height="8.77" fill="#ffd400"/><rect x="495.2" y="252.02" width="8.8" height="8.77" fill="#ffc800"/><rect x="495.2" y="243.56" width="8.8" height="8.77" fill="#ff9800"/><rect x="495.2" y="235.09" width="8.8" height="8.77" fill="#ff9800"/><rect x="495.2" y="226.63" width="8.8" height="8.77" fill="#ff8e00"/><rect x="495.2" y="218.16" width="8.8" height="8.77" fill="#ff8500"/><rect x="495.2" y="209.70" width="8.8" height="8.77" fill="#ff7d00"/><rect x="495.2" y="201.23" width="8.8" height="8.77" fill="#ff7300"/><rect x="495.2" y="192.77" width="8.8" height="8.77" fill="#ff4500"/><rect x="495.2" y="184.30" width="8.8" height="8.77" fill="#ff4500"/><rect x="495.2" y="175.84" width="8.8" height="8.77" fill="#ff3a00"/><rect x="495.2" y="167.37" width="8.8" height="8.77" fill="#ff2e00"/><rect x="495.2" y="158.91" width="8.8" height="8.77" fill="#ff2e00"/><rect x="495.2" y="150.44" width="8.8" height="8.77" fill="#ff2200"/><rect x="495.2" y="141.98" width="8.8" height="8.77" fill="#ff1a00"/><rect x="495.2" y="133.51" width="8.8" height="8.77" fill="#c40000"/><rect x="495.2" y="125.05" width="8.8" height="8.77" fill="#c40000"/><rect x="495.2" y="116.58" width="8.8" height="8.77" fill="#c00000"/><rect x="495.2" y="108.12" width="8.8" height="8.77" fill="#b40500"/><rect x="495.2" y="99.65" width="8.8" height="8.77" fill="#b40500"/><rect x="495.2" y="91.19" width="8.8" height="8.77" fill="#a90d00"/><rect x="495.2" y="82.72" width="8.8" height="8.77" fill="#a31200"/><rect x="495.2" y="74.26" width="8.8" height="8.77" fill="#5e0f07"/><rect x="495.2" y="65.79" width="8.8" height="8.77" fill="#5e130c"/><rect x="495.2" y="57.33" width="8.8" height="8.77" fill="#5c1510"/><rect x="495.2" y="48.86" width="8.8" height="8.77" fill="#5a1713"/><rect x="495.2" y="40.40" width="8.8" height="8.77" fill="#5a1a17"/><path d="M504.0 548.30h2.4" stroke="#000" stroke-width="1"/><text class="tk" text-anchor="middle" x="524.0" y="556.70">0</text><path d="M504.0 497.51h2.4" stroke="#000" stroke-width="1"/><text class="tk" text-anchor="middle" x="524.0" y="505.91">6</text><path d="M504.0 446.72h2.4" stroke="#000" stroke-width="1"/><text class="tk" text-anchor="middle" x="524.0" y="455.12">12</text><path d="M504.0 395.93h2.4" stroke="#000" stroke-width="1"/><text class="tk" text-anchor="middle" x="524.0" y="404.33">18</text><path d="M504.0 345.14h2.4" stroke="#000" stroke-width="1"/><text class="tk" text-anchor="middle" x="524.0" y="353.54">24</text><path d="M504.0 294.35h2.4" stroke="#000" stroke-width="1"/><text class="tk" text-anchor="middle" x="524.0" y="302.75">30</text><path d="M504.0 243.56h2.4" stroke="#000" stroke-width="1"/><text class="tk" text-anchor="middle" x="524.0" y="251.96">36</text><path d="M504.0 192.77h2.4" stroke="#000" stroke-width="1"/><text class="tk" text-anchor="middle" x="524.0" y="201.17">42</text><path d="M504.0 141.98h2.4" stroke="#000" stroke-width="1"/><text class="tk" text-anchor="middle" x="524.0" y="150.38">48</text><path d="M504.0 91.19h2.4" stroke="#000" stroke-width="1"/><text class="tk" text-anchor="middle" x="524.0" y="99.59">54</text></g>
<g transform="translate(0.0 1181.0)"><defs><clipPath id="gsw"><path d="M12.9 105.2L130.0 184.5L246.3 266.1L366.0 350.5L486.1 437.2L486.1 548.3L108.6 548.3L12.9 481.4Z"/></clipPath><clipPath id="gst"><path d="M246.3 266.3L264.7 279.0L292.9 298.1L320.5 316.4L325.4 323.5L328.2 331.9L331.8 340.4L331.0 348.9L328.2 355.9L326.8 364.4L327.5 372.9L325.4 381.3L321.2 388.4L315.5 391.9L308.5 390.5L302.8 394.0L307.0 401.1L309.9 406.7L307.0 416.6L302.8 425.1L298.6 433.6L292.9 442.0L287.3 447.7L280.2 451.9L273.2 454.7L267.5 450.5L264.7 444.9L259.1 440.6L250.6 439.2L242.1 438.5L235.1 437.1L228.0 435.0L222.3 432.2L223.8 429.3L230.8 428.6L237.9 427.9L242.1 426.5L239.3 420.9L236.5 413.8L237.9 406.7L236.5 399.7L233.6 392.6L230.8 385.6L226.6 381.3L225.2 374.3L222.3 365.8L223.1 357.3L222.3 348.9L223.8 340.4L222.3 331.9L221.6 323.5L223.8 317.8L226.6 313.6L225.9 306.5L227.3 299.5L230.8 295.2L233.6 289.6L236.5 282.5L240.7 275.5L244.2 269.8Z"/></clipPath><clipPath id="gout"><path clip-rule="evenodd" d="M0 0H600V600H0ZM12.9 105.2L130.0 184.5L246.3 266.1L366.0 350.5L486.1 437.2L486.1 548.3L108.6 548.3L12.9 481.4Z"/></clipPath><filter id="gf" x="0" y="0" width="1" height="1" filterUnits="objectBoundingBox" color-interpolation-filters="sRGB"><feGaussianBlur in="SourceGraphic" stdDeviation="2.4" result="b"/><feTurbulence type="fractalNoise" baseFrequency="0.03 0.07" numOctaves="4" seed="11" result="t"/><feColorMatrix in="t" type="matrix" values="0 0 1 0 0  0 0 1 0 0  0 0 1 0 0  0 0 0 0 1" result="tg"/><feDisplacementMap in="b" in2="t" scale="22" xChannelSelector="R" yChannelSelector="G" result="w"/><feColorMatrix in="w" type="matrix" values="1 0 0 0 0  1 0 0 0 0  1 0 0 0 0  0 0 0 0 1" result="fr"/><feColorMatrix in="w" type="matrix" values="0 1 0 0 0  0 1 0 0 0  0 1 0 0 0  0 0 0 0 1" result="mg"/><feComposite in="mg" in2="tg" operator="arithmetic" k1="1" k2="0" k3="0" k4="0" result="mn"/><feComposite in="fr" in2="mn" operator="arithmetic" k1="0" k2="1" k3="0.460" k4="-0.200" result="f"/><feComponentTransfer in="f" result="col"><feFuncR type="discrete" tableValues="1.000 0.973 0.945 0.914 0.886 0.855 0.827 0.800 0.769 0.741 0.714 0.682 0.655 0.624 0.596 0.533 0.502 0.471 0.439 0.416 0.816 0.706 0.612 0.502 0.424 0.329 0.298 0.282 0.251 0.188 0.000 0.000 0.000 0.000 0.000 1.000 1.000 1.000 1.000 1.000 1.000 1.000 1.000 1.000 1.000 1.000 1.000 1.000 1.000 1.000 0.769 0.753 0.706 0.663 0.639 0.369 0.369 0.361 0.353 0.353"/><feFuncG type="discrete" tableValues="1.000 0.973 0.945 0.914 0.886 0.855 0.827 0.800 0.769 0.741 0.714 0.682 0.655 0.624 0.596 0.910 0.863 0.816 0.784 0.749 0.831 0.800 0.769 0.737 0.722 0.675 0.549 0.439 0.314 0.188 0.000 0.000 0.000 0.000 0.000 1.000 0.941 0.878 0.831 0.784 0.596 0.557 0.522 0.490 0.451 0.271 0.227 0.180 0.133 0.102 0.000 0.000 0.020 0.051 0.071 0.059 0.075 0.082 0.090 0.102"/><feFuncB type="discrete" tableValues="1.000 0.973 0.945 0.914 0.886 0.855 0.827 0.800 0.769 0.741 0.714 0.682 0.655 0.624 0.596 0.533 0.502 0.471 0.439 0.416 1.000 1.000 1.000 1.000 1.000 1.000 1.000 1.000 1.000 1.000 1.000 0.941 0.878 0.824 0.784 0.000 0.000 0.000 0.000 0.000 0.000 0.000 0.000 0.000 0.000 0.000 0.000 0.000 0.000 0.000 0.000 0.000 0.000 0.000 0.000 0.027 0.047 0.063 0.075 0.090"/></feComponentTransfer><feComponentTransfer in="f" result="st"><feFuncR type="discrete" tableValues="0.000 0.000 0.000 0.000 0.000 0.000 0.000 0.000 0.000 0.000 0.000 0.000 0.000 0.000 0.000 0.333 0.333 0.333 0.333 0.333 0.333 0.333 0.333 0.333 0.333 0.333 0.333 0.333 0.333 0.333 0.333 0.333 0.333 0.333 0.333 0.667 0.667 0.667 0.667 0.667 0.667 0.667 0.667 0.667 0.667 0.667 0.667 0.667 0.667 0.667 1.000 1.000 1.000 1.000 1.000 1.000 1.000 1.000 1.000 1.000"/><feFuncG type="discrete" tableValues="0.000 0.000 0.000 0.000 0.000 0.000 0.000 0.000 0.000 0.000 0.000 0.000 0.000 0.000 0.000 0.333 0.333 0.333 0.333 0.333 0.333 0.333 0.333 0.333 0.333 0.333 0.333 0.333 0.333 0.333 0.333 0.333 0.333 0.333 0.333 0.667 0.667 0.667 0.667 0.667 0.667 0.667 0.667 0.667 0.667 0.667 0.667 0.667 0.667 0.667 1.000 1.000 1.000 1.000 1.000 1.000 1.000 1.000 1.000 1.000"/><feFuncB type="discrete" tableValues="0.000 0.000 0.000 0.000 0.000 0.000 0.000 0.000 0.000 0.000 0.000 0.000 0.000 0.000 0.000 0.333 0.333 0.333 0.333 0.333 0.333 0.333 0.333 0.333 0.333 0.333 0.333 0.333 0.333 0.333 0.333 0.333 0.333 0.333 0.333 0.667 0.667 0.667 0.667 0.667 0.667 0.667 0.667 0.667 0.667 0.667 0.667 0.667 0.667 0.667 1.000 1.000 1.000 1.000 1.000 1.000 1.000 1.000 1.000 1.000"/></feComponentTransfer><feMorphology in="st" operator="dilate" radius="1" result="di"/><feBlend in="di" in2="st" mode="difference" result="ed"/><feColorMatrix in="ed" type="matrix" values="0 0 0 0 0  0 0 0 0 0  0 0 0 0 0  6 0 0 0 0" result="edge"/><feMerge><feMergeNode in="col"/><feMergeNode in="edge"/></feMerge></filter><filter id="gf2" x="0" y="0" width="1" height="1" filterUnits="objectBoundingBox" color-interpolation-filters="sRGB"><feGaussianBlur in="SourceGraphic" stdDeviation="2.5" result="b"/><feTurbulence type="fractalNoise" baseFrequency="0.06 0.06" numOctaves="2" seed="5" result="t"/><feColorMatrix in="t" type="matrix" values="0 0 1 0 0  0 0 1 0 0  0 0 1 0 0  0 0 0 0 1" result="tg"/><feDisplacementMap in="b" in2="t" scale="6" xChannelSelector="R" yChannelSelector="G" result="w"/><feComposite in="w" in2="tg" operator="arithmetic" k1="0" k2="1" k3="0.080" k4="-0.040" result="f"/><feComponentTransfer in="f" result="col"><feFuncR type="discrete" tableValues="1.000 0.973 0.945 0.914 0.886 0.855 0.827 0.800 0.769 0.741 0.714 0.682 0.655 0.624 0.596 0.533 0.502 0.471 0.439 0.416 0.816 0.706 0.612 0.502 0.424 0.329 0.298 0.282 0.251 0.188 0.000 0.000 0.000 0.000 0.000 1.000 1.000 1.000 1.000 1.000 1.000 1.000 1.000 1.000 1.000 1.000 1.000 1.000 1.000 1.000 0.769 0.753 0.706 0.663 0.639 0.369 0.369 0.361 0.353 0.353"/><feFuncG type="discrete" tableValues="1.000 0.973 0.945 0.914 0.886 0.855 0.827 0.800 0.769 0.741 0.714 0.682 0.655 0.624 0.596 0.910 0.863 0.816 0.784 0.749 0.831 0.800 0.769 0.737 0.722 0.675 0.549 0.439 0.314 0.188 0.000 0.000 0.000 0.000 0.000 1.000 0.941 0.878 0.831 0.784 0.596 0.557 0.522 0.490 0.451 0.271 0.227 0.180 0.133 0.102 0.000 0.000 0.020 0.051 0.071 0.059 0.075 0.082 0.090 0.102"/><feFuncB type="discrete" tableValues="1.000 0.973 0.945 0.914 0.886 0.855 0.827 0.800 0.769 0.741 0.714 0.682 0.655 0.624 0.596 0.533 0.502 0.471 0.439 0.416 1.000 1.000 1.000 1.000 1.000 1.000 1.000 1.000 1.000 1.000 1.000 0.941 0.878 0.824 0.784 0.000 0.000 0.000 0.000 0.000 0.000 0.000 0.000 0.000 0.000 0.000 0.000 0.000 0.000 0.000 0.000 0.000 0.000 0.000 0.000 0.027 0.047 0.063 0.075 0.090"/></feComponentTransfer></filter><filter id="gbl" x="-10%" y="-10%" width="120%" height="120%"><feGaussianBlur stdDeviation="1.6"/></filter></defs><g clip-path="url(#gsw)"><g filter="url(#gf)" transform="rotate(36 250 330)"><g transform="rotate(-36 250 330)"><rect x="-300" y="-300" width="1200" height="1200" fill="#66cc00"/><path d="M333.7 315.2L515.0 423.7L515.0 471.1L440.4 477.9L430.3 572.7L321.9 572.7L315.1 491.4L304.9 464.3L325.2 430.4L338.8 379.6Z" fill="#804c00"/><path d="M372.7 362.7L440.4 410.1L433.7 464.3L406.5 518.5L365.9 572.7L338.8 572.7L352.3 464.3Z" fill="#804000"/><path d="M-20.3 183.1L135.5 191.6L243.9 266.1L223.6 294.9L176.2 311.9L142.3 294.9L101.6 261.0L33.9 227.2L-20.3 227.2Z" fill="#4ecc00"/><path d="M98.2 261.0L125.4 257.6L135.5 288.1L142.3 315.2L159.2 349.1L176.2 383.0L189.7 413.5L182.9 440.6L162.6 430.4L145.7 396.5L128.7 362.7L111.8 328.8L101.6 294.9Z" fill="#4ecc00"/><path d="M84.7 457.5L115.2 450.8L135.5 430.4L189.7 430.4L203.3 457.5L189.7 471.1L135.5 464.3L101.6 477.9Z" fill="#4ecc00"/><path d="M77.9 511.7L91.5 498.2L101.6 532.1L111.8 572.7L84.7 572.7Z" fill="#4ecc00"/><path d="M-20.3 369.4L27.1 362.7L33.9 396.5L20.3 410.1L-20.3 396.5Z" fill="#4ecc00"/><path d="M50.8 335.6L67.8 342.3L88.1 362.7L81.3 372.8L61.0 362.7Z" fill="#4ecc00"/><path d="M321.9 413.5L338.8 430.4L332.0 464.3L318.5 447.4Z" fill="#685900"/><path d="M338.8 457.5L359.1 464.3L365.9 498.2L345.6 491.4Z" fill="#685900"/><path d="M372.7 498.2L386.2 518.5L372.7 532.1Z" fill="#685900"/><path d="M437.0 430.4L454.0 440.6L440.4 464.3L430.3 447.4Z" fill="#685900"/><path d="M406.5 532.1L426.9 518.5L433.7 538.8L420.1 572.7L403.2 572.7Z" fill="#685900"/><path d="M352.3 349.1L372.7 355.9L379.4 376.2L359.1 369.4Z" fill="#685900"/><path d="M237.2 518.5L257.5 511.7L264.3 532.1L243.9 535.5Z" fill="#4ecc00"/><path d="M189.7 491.4L216.8 498.2L210.1 511.7L189.7 505.0Z" fill="#4ecc00"/><path d="M-20.3 247.5L40.7 261.0L67.8 288.1L61.0 294.9L33.9 274.6L-20.3 261.0Z" fill="#8ecc00"/><path d="M210.1 410.1L237.2 430.4L257.5 444.0L237.2 457.5L210.1 437.2L196.5 423.7Z" fill="#8ecc00"/><path d="M149.1 518.5L176.2 505.0L203.3 518.5L237.2 532.1L257.5 572.7L149.1 572.7Z" fill="#89cc00"/><path d="M-20.3 457.5L40.7 464.3L54.2 491.4L40.7 505.0L-20.3 498.2Z" fill="#89cc00"/><path d="M189.7 362.7L210.1 379.6L203.3 396.5L186.3 383.0Z" fill="#89cc00"/><path d="M237.2 464.3L264.3 457.5L271.0 471.1L250.7 481.2Z" fill="#89cc00"/><path d="M108.4 396.5L122.0 393.2L128.7 416.9L115.2 420.3Z" fill="#89cc00"/><path d="M67.8 206.8L94.9 200.1L101.6 227.2L81.3 233.9Z" fill="#84cc00"/><path d="M149.1 223.8L176.2 233.9L182.9 247.5L159.2 240.7Z" fill="#84cc00"/><path d="M182.9 315.2L216.8 328.8L223.6 362.7L203.3 355.9L189.7 335.6Z" fill="#79cc00"/><path d="M291.4 518.5L304.9 532.1L298.1 572.7L284.6 572.7Z" fill="#84cc00"/><path d="M61.0 444.0L88.1 450.8L94.9 471.1L67.8 464.3Z" fill="#79cc00"/><path d="M-20.3 57.8L67.8 74.7L155.8 193.3L115.2 193.3L101.6 184.8L84.7 189.9L61.0 188.2L40.7 179.7L-20.3 181.4Z" fill="#3c4000"/><path d="M-20.3 189.9L40.7 193.3L67.8 213.6L81.3 233.9L86.4 257.6L74.5 254.3L57.6 227.2L33.9 210.2L-20.3 206.8Z" fill="#29b200"/><path d="M40.7 213.6L57.6 227.2L61.0 247.5L47.4 240.7L33.9 227.2Z" fill="#29b200"/><path d="M128.7 254.3L142.3 240.7L152.5 254.3L149.1 278.0L135.5 294.9L128.7 281.4Z" fill="#29b200"/><path d="M152.5 250.9L166.0 240.7L169.4 261.0L162.6 288.1L155.8 305.1L149.1 294.9L155.8 271.2Z" fill="#29b200"/><path d="M176.2 261.0L196.5 247.5L210.1 240.7L203.3 261.0L189.7 278.0L179.6 288.1L169.4 294.9Z" fill="#29b200"/><path d="M199.9 284.7L216.8 267.8L233.8 257.6L230.4 274.6L216.8 294.9L203.3 301.7Z" fill="#29b200"/><path d="M91.5 257.6L111.8 254.3L122.0 267.8L115.2 281.4L98.2 278.0Z" fill="#2eb200"/><path d="M-20.3 294.9L33.9 301.7L47.4 322.0L57.6 349.1L50.8 362.7L33.9 342.3L20.3 322.0L-20.3 315.2Z" fill="#29b200"/><path d="M61.0 308.5L77.9 301.7L84.7 318.6L74.5 332.2L64.4 325.4Z" fill="#29b200"/><path d="M91.5 315.2L108.4 322.0L118.6 335.6L108.4 342.3L94.9 328.8Z" fill="#29b200"/><path d="M135.5 328.8L149.1 339.0L162.6 355.9L172.8 372.8L162.6 376.2L149.1 362.7L138.9 345.7Z" fill="#29b200"/><path d="M23.7 372.8L61.0 369.4L91.5 379.6L96.6 406.7L91.5 437.2L74.5 444.0L50.8 427.0L33.9 399.9Z" fill="#23b200"/><path d="M91.5 477.9L115.2 471.1L128.7 481.2L142.3 491.4L149.1 511.7L142.3 532.1L128.7 572.7L108.4 572.7L98.2 532.1L91.5 511.7L88.1 491.4Z" fill="#23b200"/><path d="M115.2 457.5L135.5 450.8L159.2 464.3L176.2 471.1L189.7 477.9L182.9 488.0L162.6 484.6L142.3 477.9L122.0 471.1Z" fill="#29b200"/><path d="M203.3 471.1L220.2 464.3L237.2 474.5L230.4 491.4L213.4 494.8L203.3 484.6Z" fill="#29b200"/><path d="M94.9 440.6L105.0 440.6L108.4 454.1L98.2 457.5Z" fill="#29b200"/><path d="M199.9 345.7L216.8 347.4L220.2 355.9L203.3 357.6Z" fill="#29b200"/><path d="M277.8 518.5L298.1 501.6L318.5 484.6L321.9 491.4L304.9 508.4L288.0 528.7L267.6 572.7L254.1 572.7Z" fill="#29b200"/><path d="M450.6 444.0L515.0 437.2L515.0 572.7L420.1 572.7L433.7 525.3L443.8 498.2L440.4 471.1Z" fill="#23b200"/><path d="M355.7 342.3L365.9 345.7L369.3 354.2L359.1 352.5Z" fill="#29b200"/><path d="M162.6 389.8L176.2 396.5L176.2 410.1L162.6 406.7Z" fill="#29b200"/><path d="M210.1 294.9L223.6 288.1L227.0 301.7L216.8 311.9Z" fill="#29b200"/><path d="M101.6 210.2L111.8 203.4L125.4 206.8L142.3 217.0L154.2 230.5L152.5 237.3L135.5 235.6L118.6 227.2L105.0 220.4Z" fill="#bb9900"/><path d="M111.8 366.1L122.0 362.7L133.8 369.4L135.5 383.0L125.4 391.5L115.2 386.4Z" fill="#cd9900"/><path d="M-20.3 232.2L23.7 233.9L37.3 249.2L54.2 268.5L67.8 284.7L63.7 288.1L47.4 276.3L30.5 259.3L-20.3 242.4Z" fill="#c29900"/><path d="M-20.3 253.6L30.5 267.8L44.0 282.0L40.0 285.4L23.7 274.6L-20.3 261.7Z" fill="#bd9900"/><path d="M74.5 328.8L84.7 325.4L88.1 342.3L77.9 344.0Z" fill="#b39900"/><path d="M81.3 372.8L88.1 371.1L89.8 379.6L83.0 381.3Z" fill="#c79900"/><path d="M47.4 396.5L54.2 394.9L55.9 405.0L49.1 406.0Z" fill="#e99900"/><path d="M-20.3 416.9L23.7 413.5L30.5 430.4L27.1 444.0L-20.3 447.4Z" fill="#c79900"/><path d="M-20.3 460.9L20.3 464.3L16.9 481.2L-20.3 481.2Z" fill="#b39900"/><path d="M35.6 440.6L44.0 450.8L47.4 474.5L44.0 488.0L39.0 477.9L40.0 457.5Z" fill="#b39900"/><path d="M67.8 494.8L74.5 498.2L72.8 505.0L66.1 503.3Z" fill="#b39900"/><path d="M54.2 525.3L61.0 521.9L64.4 528.7L57.6 532.1Z" fill="#b39900"/><path d="M203.3 413.5L216.8 410.1L223.6 423.7L210.1 427.0Z" fill="#b39900"/><path d="M311.7 518.5L320.2 515.1L321.9 532.1L313.4 535.5Z" fill="#bd9900"/><path d="M311.7 545.6L320.2 542.2L321.9 572.7L311.7 572.7Z" fill="#bd9900"/><path d="M477.7 535.5L515.0 532.1L515.0 572.7L477.7 572.7Z" fill="#d79900"/><path d="M246.3 266.3L264.7 279.0L292.9 298.1L320.5 316.4L325.4 323.5L328.2 331.9L331.8 340.4L331.0 348.9L328.2 355.9L326.8 364.4L327.5 372.9L325.4 381.3L321.2 388.4L315.5 391.9L308.5 390.5L302.8 394.0L307.0 401.1L309.9 406.7L307.0 416.6L302.8 425.1L298.6 433.6L292.9 442.0L287.3 447.7L280.2 451.9L273.2 454.7L267.5 450.5L264.7 444.9L259.1 440.6L250.6 439.2L242.1 438.5L235.1 437.1L228.0 435.0L222.3 432.2L223.8 429.3L230.8 428.6L237.9 427.9L242.1 426.5L239.3 420.9L236.5 413.8L237.9 406.7L236.5 399.7L233.6 392.6L230.8 385.6L226.6 381.3L225.2 374.3L222.3 365.8L223.1 357.3L222.3 348.9L223.8 340.4L222.3 331.9L221.6 323.5L223.8 317.8L226.6 313.6L225.9 306.5L227.3 299.5L230.8 295.2L233.6 289.6L236.5 282.5L240.7 275.5L244.2 269.8Z" fill="#958000" stroke="#8e8000" stroke-width="20" stroke-linejoin="round"/></g></g><path d="M246.3 266.3L264.7 279.0L292.9 298.1L320.5 316.4L325.4 323.5L328.2 331.9L331.8 340.4L331.0 348.9L328.2 355.9L326.8 364.4L327.5 372.9L325.4 381.3L321.2 388.4L315.5 391.9L308.5 390.5L302.8 394.0L307.0 401.1L309.9 406.7L307.0 416.6L302.8 425.1L298.6 433.6L292.9 442.0L287.3 447.7L280.2 451.9L273.2 454.7L267.5 450.5L264.7 444.9L259.1 440.6L250.6 439.2L242.1 438.5L235.1 437.1L228.0 435.0L222.3 432.2L223.8 429.3L230.8 428.6L237.9 427.9L242.1 426.5L239.3 420.9L236.5 413.8L237.9 406.7L236.5 399.7L233.6 392.6L230.8 385.6L226.6 381.3L225.2 374.3L222.3 365.8L223.1 357.3L222.3 348.9L223.8 340.4L222.3 331.9L221.6 323.5L223.8 317.8L226.6 313.6L225.9 306.5L227.3 299.5L230.8 295.2L233.6 289.6L236.5 282.5L240.7 275.5L244.2 269.8Z" fill="#0000dc" stroke="#0a0ae6" stroke-width="9" stroke-linejoin="round" filter="url(#gbl)"/><g clip-path="url(#gst)"><g filter="url(#gf2)"><rect x="-300" y="-300" width="1200" height="1200" fill="#999999"/><path d="M246.3 266.3L264.7 279.0L292.9 298.1L320.5 316.4L325.4 323.5L328.2 331.9L331.8 340.4L331.0 348.9L328.2 355.9L326.8 364.4L327.5 372.9L325.4 381.3L321.2 388.4L315.5 391.9L308.5 390.5L302.8 394.0L307.0 401.1L309.9 406.7L307.0 416.6L302.8 425.1L298.6 433.6L292.9 442.0L287.3 447.7L280.2 451.9L273.2 454.7L267.5 450.5L264.7 444.9L259.1 440.6L250.6 439.2L242.1 438.5L235.1 437.1L228.0 435.0L222.3 432.2L223.8 429.3L230.8 428.6L237.9 427.9L242.1 426.5L239.3 420.9L236.5 413.8L237.9 406.7L236.5 399.7L233.6 392.6L230.8 385.6L226.6 381.3L225.2 374.3L222.3 365.8L223.1 357.3L222.3 348.9L223.8 340.4L222.3 331.9L221.6 323.5L223.8 317.8L226.6 313.6L225.9 306.5L227.3 299.5L230.8 295.2L233.6 289.6L236.5 282.5L240.7 275.5L244.2 269.8Z" fill="#a2a2a2"/><path d="M246.3 267.7L320.5 317.8L324.0 331.9L325.4 346.0L321.2 360.2L315.5 371.5L307.0 378.5L295.8 382.7L287.3 391.2L278.8 396.9L270.3 405.3L264.7 416.6L259.1 427.9L250.6 430.7L244.9 422.3L242.1 411.0L239.3 396.9L236.5 385.6L230.8 374.3L228.0 360.2L228.0 346.0L228.0 331.9L228.0 317.8L232.2 303.7L236.5 289.6L242.1 275.5Z" fill="#b6b6b6"/><path d="M307.0 317.8L321.2 326.3L324.0 346.0L315.5 363.0L301.4 360.2L304.2 340.4Z" fill="#b2b2b2"/><path d="M290.1 367.2L307.0 365.8L312.7 377.1L301.4 384.2L287.3 385.6Z" fill="#a4a4a4"/><path d="M226.6 346.0L239.3 351.7L259.1 368.6L270.3 382.7L264.7 394.0L250.6 388.4L236.5 374.3L228.0 360.2Z" fill="#bfbfbf"/><path d="M262.6 276.2L256.2 276.9L250.6 279.7L246.3 285.3L244.9 292.4L242.1 299.5L236.5 302.3L235.1 309.3L236.5 316.4L240.7 320.6L242.8 326.3L240.7 333.3L242.1 340.4L239.3 347.5L236.5 353.1L237.9 358.0L244.9 361.6L250.6 363.0L256.2 358.8L260.5 351.7L264.7 346.8L270.3 346.0L274.6 350.3L277.4 355.9L281.6 360.2L287.3 354.5L292.9 348.9L298.6 344.6L301.4 337.6L302.8 329.1L301.4 320.6L299.3 312.2L295.8 303.7L291.5 298.1L287.3 294.5Z" fill="#dbdbdb"/><path d="M263.3 317.8L270.3 312.2L271.8 331.9L267.5 346.0L263.3 340.4Z" fill="#c9c9c9"/><path d="M256.2 295.2L264.7 292.4L268.9 302.3L263.3 310.8L256.9 306.5Z" fill="#f2f2f2"/></g></g><path d="M276.0 402.5L285.9 398.3L295.8 396.9L305.6 395.5L307.0 401.1L304.2 409.6L300.0 416.6L295.8 422.3L290.1 426.5L284.5 423.7L283.0 418.0L284.5 412.4L278.8 409.6L276.0 406.7Z" fill="#1414e6" stroke="#000" stroke-width="1.1"/><path d="M246.3 266.3L264.7 279.0L292.9 298.1L320.5 316.4L325.4 323.5L328.2 331.9L331.8 340.4L331.0 348.9L328.2 355.9L326.8 364.4L327.5 372.9L325.4 381.3L321.2 388.4L315.5 391.9L308.5 390.5L302.8 394.0L307.0 401.1L309.9 406.7L307.0 416.6L302.8 425.1L298.6 433.6L292.9 442.0L287.3 447.7L280.2 451.9L273.2 454.7L267.5 450.5L264.7 444.9L259.1 440.6L250.6 439.2L242.1 438.5L235.1 437.1L228.0 435.0L222.3 432.2L223.8 429.3L230.8 428.6L237.9 427.9L242.1 426.5L239.3 420.9L236.5 413.8L237.9 406.7L236.5 399.7L233.6 392.6L230.8 385.6L226.6 381.3L225.2 374.3L222.3 365.8L223.1 357.3L222.3 348.9L223.8 340.4L222.3 331.9L221.6 323.5L223.8 317.8L226.6 313.6L225.9 306.5L227.3 299.5L230.8 295.2L233.6 289.6L236.5 282.5L240.7 275.5L244.2 269.8Z" fill="none" stroke="#000" stroke-width="1.3" stroke-linejoin="round"/><path d="M262.6 276.2L256.2 276.9L250.6 279.7L246.3 285.3L244.9 292.4L242.1 299.5L236.5 302.3L235.1 309.3L236.5 316.4L240.7 320.6L242.8 326.3L240.7 333.3L242.1 340.4L239.3 347.5L236.5 353.1L237.9 358.0L244.9 361.6L250.6 363.0L256.2 358.8L260.5 351.7L264.7 346.8L270.3 346.0L274.6 350.3L277.4 355.9L281.6 360.2L287.3 354.5L292.9 348.9L298.6 344.6L301.4 337.6L302.8 329.1L301.4 320.6L299.3 312.2L295.8 303.7L291.5 298.1L287.3 294.5" fill="none" stroke="#000" stroke-width="1" stroke-linejoin="round"/></g><path d="M12.9 88.2L486.1 185.5" stroke="#ccc" stroke-width="1.4"/><use href="#grid"/><use href="#coast"/><use href="#labels" clip-path="url(#gout)"/><g clip-path="url(#gsw)" opacity="0.45"><use href="#swath"/></g><g clip-path="url(#gsw)" opacity="0.6"><use href="#labels"/></g><use href="#cross"/><text class="tt" x="37.8" y="66.6">VIRS T<tspan dy="6" font-size="15">B11</tspan><tspan dy="-6"> (K)</tspan></text><text class="lt" x="439.5" y="523">(g)</text><rect x="495.2" y="531.37" width="8.8" height="8.77" fill="#f8f8f8"/><rect x="495.2" y="522.90" width="8.8" height="8.77" fill="#f1f1f1"/><rect x="495.2" y="514.44" width="8.8" height="8.77" fill="#e9e9e9"/><rect x="495.2" y="505.97" width="8.8" height="8.77" fill="#e2e2e2"/><rect x="495.2" y="497.51" width="8.8" height="8.77" fill="#dadada"/><rect x="495.2" y="489.04" width="8.8" height="8.77" fill="#d3d3d3"/><rect x="495.2" y="480.58" width="8.8" height="8.77" fill="#cccccc"/><rect x="495.2" y="472.11" width="8.8" height="8.77" fill="#c4c4c4"/><rect x="495.2" y="463.65" width="8.8" height="8.77" fill="#bdbdbd"/><rect x="495.2" y="455.18" width="8.8" height="8.77" fill="#b6b6b6"/><rect x="495.2" y="446.72" width="8.8" height="8.77" fill="#aeaeae"/><rect x="495.2" y="438.25" width="8.8" height="8.77" fill="#a7a7a7"/><rect x="495.2" y="429.79" width="8.8" height="8.77" fill="#9f9f9f"/><rect x="495.2" y="421.32" width="8.8" height="8.77" fill="#989898"/><rect x="495.2" y="412.86" width="8.8" height="8.77" fill="#88e888"/><rect x="495.2" y="404.39" width="8.8" height="8.77" fill="#80dc80"/><rect x="495.2" y="395.93" width="8.8" height="8.77" fill="#78d078"/><rect x="495.2" y="387.46" width="8.8" height="8.77" fill="#70c870"/><rect x="495.2" y="379.00" width="8.8" height="8.77" fill="#6abf6a"/><rect x="495.2" y="370.53" width="8.8" height="8.77" fill="#d0d4ff"/><rect x="495.2" y="362.07" width="8.8" height="8.77" fill="#b4ccff"/><rect x="495.2" y="353.60" width="8.8" height="8.77" fill="#9cc4ff"/><rect x="495.2" y="345.14" width="8.8" height="8.77" fill="#80bcff"/><rect x="495.2" y="336.67" width="8.8" height="8.77" fill="#6cb8ff"/><rect x="495.2" y="328.21" width="8.8" height="8.77" fill="#54acff"/><rect x="495.2" y="319.74" width="8.8" height="8.77" fill="#4c8cff"/><rect x="495.2" y="311.28" width="8.8" height="8.77" fill="#4870ff"/><rect x="495.2" y="302.81" width="8.8" height="8.77" fill="#4050ff"/><rect x="495.2" y="294.35" width="8.8" height="8.77" fill="#3030ff"/><rect x="495.2" y="285.88" width="8.8" height="8.77" fill="#0000ff"/><rect x="495.2" y="277.42" width="8.8" height="8.77" fill="#0000f0"/><rect x="495.2" y="268.95" width="8.8" height="8.77" fill="#0000e0"/><rect x="495.2" y="260.49" width="8.8" height="8.77" fill="#0000d2"/><rect x="495.2" y="252.02" width="8.8" height="8.77" fill="#0000c8"/><rect x="495.2" y="243.56" width="8.8" height="8.77" fill="#ffff00"/><rect x="495.2" y="235.09" width="8.8" height="8.77" fill="#fff000"/><rect x="495.2" y="226.63" width="8.8" height="8.77" fill="#ffe000"/><rect x="495.2" y="218.16" width="8.8" height="8.77" fill="#ffd400"/><rect x="495.2" y="209.70" width="8.8" height="8.77" fill="#ffc800"/><rect x="495.2" y="201.23" width="8.8" height="8.77" fill="#ff9800"/><rect x="495.2" y="192.77" width="8.8" height="8.77" fill="#ff8e00"/><rect x="495.2" y="184.30" width="8.8" height="8.77" fill="#ff8500"/><rect x="495.2" y="175.84" width="8.8" height="8.77" fill="#ff7d00"/><rect x="495.2" y="167.37" width="8.8" height="8.77" fill="#ff7300"/><rect x="495.2" y="158.91" width="8.8" height="8.77" fill="#ff4500"/><rect x="495.2" y="150.44" width="8.8" height="8.77" fill="#ff3a00"/><rect x="495.2" y="141.98" width="8.8" height="8.77" fill="#ff2e00"/><rect x="495.2" y="133.51" width="8.8" height="8.77" fill="#ff2200"/><rect x="495.2" y="125.05" width="8.8" height="8.77" fill="#ff1a00"/><rect x="495.2" y="116.58" width="8.8" height="8.77" fill="#c40000"/><rect x="495.2" y="108.12" width="8.8" height="8.77" fill="#c00000"/><rect x="495.2" y="99.65" width="8.8" height="8.77" fill="#b40500"/><rect x="495.2" y="91.19" width="8.8" height="8.77" fill="#a90d00"/><rect x="495.2" y="82.72" width="8.8" height="8.77" fill="#a31200"/><rect x="495.2" y="74.26" width="8.8" height="8.77" fill="#5e0f07"/><rect x="495.2" y="65.79" width="8.8" height="8.77" fill="#5e130c"/><rect x="495.2" y="57.33" width="8.8" height="8.77" fill="#5c1510"/><rect x="495.2" y="48.86" width="8.8" height="8.77" fill="#5a1713"/><rect x="495.2" y="40.40" width="8.8" height="8.77" fill="#5a1a17"/><path d="M504.0 548.30h2.4" stroke="#000" stroke-width="1"/><text class="tk" text-anchor="middle" x="524.0" y="556.70">304</text><path d="M504.0 497.51h2.4" stroke="#000" stroke-width="1"/><text class="tk" text-anchor="middle" x="524.0" y="505.91">292</text><path d="M504.0 446.72h2.4" stroke="#000" stroke-width="1"/><text class="tk" text-anchor="middle" x="524.0" y="455.12">280</text><path d="M504.0 395.93h2.4" stroke="#000" stroke-width="1"/><text class="tk" text-anchor="middle" x="524.0" y="404.33">268</text><path d="M504.0 345.14h2.4" stroke="#000" stroke-width="1"/><text class="tk" text-anchor="middle" x="524.0" y="353.54">256</text><path d="M504.0 294.35h2.4" stroke="#000" stroke-width="1"/><text class="tk" text-anchor="middle" x="524.0" y="302.75">244</text><path d="M504.0 243.56h2.4" stroke="#000" stroke-width="1"/><text class="tk" text-anchor="middle" x="524.0" y="251.96">232</text><path d="M504.0 192.77h2.4" stroke="#000" stroke-width="1"/><text class="tk" text-anchor="middle" x="524.0" y="201.17">220</text><path d="M504.0 141.98h2.4" stroke="#000" stroke-width="1"/><text class="tk" text-anchor="middle" x="524.0" y="150.38">208</text><path d="M504.0 91.19h2.4" stroke="#000" stroke-width="1"/><text class="tk" text-anchor="middle" x="524.0" y="99.59">196</text></g>
<g transform="translate(590.5 1181.0)"><path d="M88.2 337.5h1.8M82.8 339.3h5.4M84.6 341.1h3.6M82.8 342.9h1.8M82.8 344.7h1.8M81.0 346.5h3.6M81.0 350.1h3.6M82.8 351.9h5.4M82.8 353.7h3.6M84.6 355.5h5.4M93.6 355.5h3.6M86.4 357.3h10.8M99.0 357.3h1.8M86.4 359.1h9.0M97.2 359.1h3.6M88.2 360.9h1.8M91.8 360.9h9.0M90.0 362.7h1.8M93.6 362.7h7.2M106.2 362.7h1.8M117.0 362.7h1.8M120.6 362.7h5.4M82.8 364.5h1.8M86.4 364.5h1.8M97.2 364.5h1.8M100.8 364.5h14.4M117.0 364.5h1.8M120.6 364.5h1.8M124.2 364.5h3.6M82.8 366.3h3.6M95.4 366.3h10.8M109.8 366.3h21.6M81.0 368.1h5.4M99.0 368.1h34.2M73.8 369.9h1.8M77.4 369.9h7.2M100.8 369.9h12.6M117.0 369.9h1.8M122.4 369.9h10.8M77.4 371.7h7.2M100.8 371.7h10.8M113.4 371.7h7.2M122.4 371.7h3.6M127.8 371.7h5.4M77.4 373.5h1.8M81.0 373.5h1.8M99.0 373.5h1.8M102.6 373.5h9.0M115.2 373.5h5.4M124.2 373.5h5.4M135.0 373.5h3.6M102.6 375.3h12.6M117.0 375.3h10.8M129.6 375.3h3.6M135.0 375.3h7.2M102.6 377.1h25.2M133.2 377.1h7.2M142.2 377.1h1.8M102.6 378.9h23.4M127.8 378.9h1.8M131.4 378.9h3.6M136.8 378.9h3.6M104.4 380.7h1.8M108.0 380.7h10.8M122.4 380.7h1.8M127.8 380.7h3.6M133.2 380.7h1.8M136.8 380.7h3.6M111.6 382.5h19.8M133.2 382.5h3.6M117.0 384.3h7.2M126.0 384.3h3.6M131.4 384.3h5.4M235.8 391.5h1.8M234.0 393.3h7.2M234.0 395.1h3.6M230.4 396.9h3.6M235.8 396.9h1.8M232.2 398.7h3.6M217.8 400.5h1.8M221.4 400.5h7.2M230.4 400.5h7.2M214.2 402.3h1.8M221.4 402.3h1.8M225.0 402.3h1.8M228.6 402.3h5.4M201.6 404.1h7.2M214.2 404.1h1.8M221.4 404.1h3.6M226.8 404.1h1.8M230.4 404.1h3.6M235.8 404.1h1.8M201.6 405.9h9.0M212.4 405.9h1.8M216.0 405.9h7.2M226.8 405.9h7.2M199.8 407.7h7.2M208.8 407.7h7.2M219.6 407.7h1.8M226.8 407.7h5.4M198.0 409.5h25.2M226.8 409.5h5.4M234.0 409.5h1.8M201.6 411.3h9.0M214.2 411.3h3.6M221.4 411.3h9.0M232.2 411.3h1.8M199.8 413.1h16.2M219.6 413.1h16.2M199.8 414.9h16.2M217.8 414.9h18.0M199.8 416.7h12.6M214.2 416.7h3.6M221.4 416.7h9.0M199.8 418.5h32.4M201.6 420.3h25.2M203.4 422.1h10.8M219.6 422.1h9.0M201.6 423.9h1.8M205.2 423.9h9.0M225.0 423.9h1.8M201.6 425.7h1.8M205.2 425.7h7.2M205.2 427.5h7.2M205.2 429.3h1.8M210.6 429.3h1.8M203.4 432.9h1.8M262.8 414.9h1.8M268.2 414.9h1.8M262.8 416.7h9.0M262.8 418.5h1.8M268.2 418.5h3.6M273.6 418.5h1.8M270.0 420.3h7.2M268.2 422.1h3.6M273.6 422.1h1.8M277.2 422.1h3.6M270.0 423.9h1.8M275.4 423.9h5.4M268.2 425.7h1.8M273.6 425.7h12.6M271.8 427.5h1.8M280.8 427.5h3.6M288.0 427.5h1.8M270.0 429.3h1.8M273.6 429.3h1.8M277.2 429.3h1.8M280.8 429.3h7.2M268.2 431.1h1.8M282.6 431.1h1.8M286.2 431.1h3.6M268.2 432.9h5.4M275.4 432.9h1.8M279.0 432.9h3.6M286.2 432.9h5.4M268.2 434.7h7.2M279.0 434.7h1.8M282.6 434.7h3.6M270.0 436.5h1.8M277.2 436.5h1.8M282.6 436.5h1.8M266.4 438.3h1.8M273.6 438.3h1.8M277.2 438.3h1.8M280.8 438.3h3.6M264.6 440.1h1.8M273.6 440.1h3.6M280.8 440.1h3.6M262.8 441.9h1.8M271.8 441.9h9.0M262.8 443.7h1.8M271.8 443.7h5.4M279.0 443.7h1.8M273.6 445.5h3.6M275.4 447.3h5.4M273.6 449.1h1.8M277.2 449.1h3.6M340.2 467.1h1.8M340.2 468.9h1.8M338.4 470.7h1.8M342.0 470.7h1.8M338.4 472.5h10.8M336.6 474.3h1.8M340.2 474.3h1.8M343.8 474.3h5.4M336.6 476.1h3.6M342.0 476.1h1.8M345.6 476.1h1.8M333.0 477.9h5.4M343.8 477.9h1.8M327.6 479.7h3.6M334.8 479.7h1.8M338.4 479.7h1.8M342.0 479.7h1.8M327.6 481.5h3.6M342.0 481.5h1.8M325.8 483.3h3.6M334.8 483.3h1.8M338.4 483.3h1.8M322.2 485.1h3.6M327.6 485.1h7.2M336.6 485.1h3.6M320.4 486.9h5.4M333.0 486.9h1.8M336.6 486.9h3.6M325.8 488.7h3.6M333.0 488.7h1.8M338.4 488.7h1.8M324.0 490.5h7.2M334.8 490.5h1.8M320.4 492.3h1.8M324.0 492.3h1.8M327.6 492.3h3.6M333.0 492.3h3.6M324.0 495.9h1.8M329.4 495.9h1.8M327.6 497.7h3.6M325.8 499.5h5.4M318.6 501.3h1.8M324.0 501.3h5.4M331.2 501.3h3.6M318.6 503.1h7.2M327.6 503.1h1.8M333.0 503.1h1.8M334.8 504.9h1.8M318.6 506.7h3.6M324.0 506.7h1.8M327.6 506.7h1.8M331.2 506.7h3.6M318.6 508.5h7.2M327.6 508.5h3.6M333.0 508.5h1.8M316.8 510.3h7.2M325.8 510.3h3.6M320.4 512.1h1.8M324.0 512.1h5.4M316.8 513.9h3.6M322.2 513.9h3.6M327.6 513.9h1.8M315.0 515.7h1.8M318.6 515.7h1.8M327.6 515.7h1.8M315.0 517.5h5.4M322.2 517.5h3.6M313.2 519.3h1.8M316.8 519.3h3.6M322.2 519.3h5.4M313.2 521.1h1.8M318.6 521.1h1.8M322.2 521.1h3.6M307.8 515.7h1.8M304.2 517.5h3.6M300.6 519.3h1.8M306.0 519.3h1.8M302.4 521.1h1.8M127.8 315.9h3.6M127.8 317.7h5.4M129.6 319.5h9.0M127.8 321.3h1.8M131.4 321.3h9.0M135.0 323.1h7.2M133.2 324.9h1.8M138.6 324.9h3.6M172.8 346.5h3.6M162.0 369.9h1.8M153.0 371.7h1.8M160.2 371.7h3.6M151.2 373.5h9.0M162.0 373.5h1.8M151.2 375.3h5.4M151.2 377.1h5.4M151.2 378.9h3.6M248.4 402.3h5.4M252.0 404.1h1.8M252.0 405.9h1.8M250.2 407.7h3.6M14.4 299.7h3.6M12.6 301.5h3.6M14.4 303.3h1.8M14.4 305.1h5.4M14.4 306.9h7.2M23.4 306.9h1.8M16.2 308.7h10.8M14.4 310.5h1.8M18.0 310.5h3.6M23.4 310.5h1.8M19.8 312.3h3.6M18.0 314.1h3.6M16.2 315.9h7.2M16.2 317.7h7.2M16.2 319.5h3.6M21.6 319.5h1.8M18.0 321.3h1.8M19.8 350.1h1.8M21.6 351.9h1.8M23.4 353.7h3.6M21.6 355.5h1.8M25.2 355.5h3.6M23.4 357.3h5.4M327.6 537.3h1.8M325.8 539.1h1.8M325.8 540.9h1.8M327.6 542.7h1.8M325.8 544.5h1.8M324.0 546.3h1.8" stroke="#0000ff" stroke-width="1.85" fill="none"/><path d="M84.6 346.5h1.8M95.4 364.5h1.8M99.0 364.5h1.8M118.8 364.5h1.8M122.4 364.5h1.8M86.4 366.3h1.8M106.2 366.3h3.6M113.4 369.9h3.6M118.8 369.9h3.6M111.6 371.7h1.8M120.6 371.7h1.8M126.0 371.7h1.8M111.6 373.5h3.6M120.6 373.5h3.6M129.6 373.5h3.6M115.2 375.3h1.8M127.8 375.3h1.8M133.2 375.3h1.8M127.8 377.1h5.4M126.0 378.9h1.8M129.6 378.9h1.8M135.0 378.9h1.8M118.8 380.7h3.6M124.2 380.7h3.6M131.4 380.7h1.8M135.0 380.7h1.8M219.6 402.3h1.8M223.2 402.3h1.8M226.8 402.3h1.8M216.0 404.1h5.4M225.0 404.1h1.8M228.6 404.1h1.8M214.2 405.9h1.8M223.2 405.9h3.6M207.0 407.7h1.8M216.0 407.7h3.6M221.4 407.7h5.4M223.2 409.5h3.6M210.6 411.3h3.6M217.8 411.3h3.6M230.4 411.3h1.8M216.0 413.1h3.6M216.0 414.9h1.8M212.4 416.7h1.8M217.8 416.7h3.6M203.4 427.5h1.8M270.0 431.1h1.8M273.6 436.5h1.8M277.2 440.1h1.8M331.2 481.5h1.8M322.2 483.3h1.8M320.4 490.5h1.8M315.0 519.3h1.8M133.2 323.1h1.8M135.0 324.9h3.6M178.2 348.3h1.8M176.4 350.1h1.8M178.2 351.9h1.8M250.2 405.9h1.8M16.2 310.5h1.8M21.6 310.5h1.8M18.0 312.3h1.8M16.2 314.1h1.8M19.8 321.3h1.8M19.8 351.9h1.8M23.4 351.9h1.8M25.2 359.1h1.8" stroke="#ff4500" stroke-width="1.85" fill="none"/><path d="M189.5 457.0h1.4M187.2 431.3h1.4M185.0 446.4h1.4M194.7 412.6h1.4M254.4 433.0h1.4M167.5 398.8h1.4M224.7 432.0h1.4M235.6 391.4h1.4M219.3 426.7h1.4M197.1 408.5h1.4M177.5 441.1h1.4M229.1 405.1h1.4M241.1 404.7h1.4M228.7 420.8h1.4M230.8 407.5h1.4M198.4 397.6h1.4M175.1 443.7h1.4M204.4 393.6h1.4M233.3 412.6h1.4M236.5 403.1h1.4M259.4 422.2h1.4M179.3 428.4h1.4M198.9 406.0h1.4M187.3 450.0h1.4" stroke="#0000ff" stroke-width="1.45" fill="none"/><path d="M177.8 444.9h1.4M223.4 411.2h1.4M223.1 440.7h1.4M240.6 410.2h1.4M251.2 391.9h1.4M283.5 447.5h1.4M265.1 448.5h1.4M215.0 410.2h1.4M211.5 393.3h1.4M265.0 420.4h1.4M210.2 425.9h1.4M274.8 449.5h1.4" stroke="#ff4500" stroke-width="1.45" fill="none"/><path d="M286.3 489.7h1.4M273.8 498.1h1.4M310.0 522.7h1.4M255.7 477.1h1.4M319.0 537.5h1.4M329.0 526.8h1.4M279.7 486.8h1.4M324.6 467.9h1.4M329.5 473.9h1.4M329.2 467.4h1.4M290.1 508.3h1.4M282.0 492.0h1.4M310.1 468.5h1.4M300.6 468.9h1.4M313.7 508.5h1.4M335.1 477.0h1.4M313.6 533.6h1.4M326.7 465.2h1.4M285.1 492.4h1.4M277.9 511.5h1.4M270.7 481.5h1.4M320.8 501.3h1.4M296.6 461.2h1.4M296.0 467.9h1.4M265.9 459.7h1.4M266.3 470.3h1.4M300.7 456.1h1.4M269.4 456.4h1.4M314.7 482.5h1.4M298.8 529.7h1.4M267.7 466.9h1.4" stroke="#0000ff" stroke-width="1.45" fill="none"/><path d="M310.3 497.0h1.4M339.1 460.9h1.4M260.5 475.9h1.4M327.9 460.1h1.4M283.4 474.8h1.4M310.4 526.1h1.4M317.2 536.9h1.4M325.9 473.9h1.4M285.7 507.0h1.4" stroke="#ff4500" stroke-width="1.45" fill="none"/><path d="M155.2 381.0h1.4M77.5 366.4h1.4M118.7 342.3h1.4M83.2 364.3h1.4M103.5 355.4h1.4M159.3 386.6h1.4M136.0 345.2h1.4" stroke="#ff4500" stroke-width="1.45" fill="none"/><path d="M169.3 363.4h1.4M139.5 367.8h1.4M161.3 350.8h1.4M113.4 335.8h1.4M144.1 379.4h1.4M174.2 366.5h1.4M171.9 386.4h1.4M96.5 366.5h1.4M120.0 372.1h1.4" stroke="#0000ff" stroke-width="1.45" fill="none"/><path d="M21.1 338.1h1.4M24.7 334.5h1.4M21.7 348.4h1.4M28.6 348.5h1.4M28.0 331.7h1.4M28.1 331.5h1.4M24.4 326.1h1.4M19.5 298.0h1.4M14.4 308.3h1.4M17.4 356.2h1.4M17.0 319.3h1.4M13.6 297.6h1.4" stroke="#ff4500" stroke-width="1.45" fill="none"/><path d="M18.9 320.4h1.4M21.2 337.2h1.4M13.0 336.0h1.4M19.3 317.7h1.4M14.0 348.4h1.4M19.9 349.9h1.4M21.7 301.8h1.4M20.2 304.6h1.4M26.9 321.6h1.4M19.6 315.8h1.4M22.7 345.0h1.4M13.5 348.6h1.4" stroke="#0000ff" stroke-width="1.45" fill="none"/><use href="#grid"/><use href="#coast"/><use href="#swath"/><use href="#labels"/><use href="#cross"/><text class="tt" x="36.3" y="66.6">2A23 rain types</text><text class="lt" x="439.5" y="523">(h)</text><rect x="495.2" y="40.8" width="8.8" height="169.2" fill="#ff4500"/><rect x="495.2" y="210.0" width="8.8" height="169.1" fill="#0000ff"/><rect x="495.2" y="40.8" width="8.8" height="507.5" fill="none" stroke="#222" stroke-width="0.8"/><path d="M504 40.8h2.4" stroke="#000" stroke-width="1"/><text class="tk" style="font-size:20.3px" x="508.3" y="48.60">Conv</text><path d="M504 210.0h2.4" stroke="#000" stroke-width="1"/><text class="tk" style="font-size:20.3px" x="508.3" y="217.80">Strat</text><path d="M504 379.1h2.4" stroke="#000" stroke-width="1"/><text class="tk" style="font-size:20.3px" x="508.3" y="386.90">N/A</text></g>
<g transform="translate(1181.0 1181.0)"><path d="M84.6 337.5h1.8M81.0 348.3h1.8M84.6 353.7h1.8M90.0 355.5h3.6M91.8 359.1h1.8M88.2 360.9h1.8M118.8 360.9h1.8M95.4 362.7h1.8M99.0 362.7h1.8M122.4 362.7h1.8M97.2 364.5h1.8M111.6 364.5h1.8M115.2 364.5h1.8M99.0 366.3h1.8M104.4 366.3h1.8M99.0 368.1h1.8M111.6 368.1h1.8M131.4 369.9h1.8M81.0 371.7h1.8M100.8 373.5h1.8M104.4 373.5h1.8M136.8 373.5h1.8M100.8 375.3h1.8M136.8 375.3h1.8M104.4 378.9h3.6M118.8 384.3h3.6M113.4 386.1h1.8M239.4 393.3h1.8M232.2 395.1h3.6M234.0 396.9h1.8M234.0 398.7h1.8M228.6 402.3h1.8M228.6 404.1h1.8M230.4 407.7h1.8M201.6 411.3h1.8M234.0 411.3h1.8M201.6 413.1h1.8M232.2 413.1h1.8M230.4 414.9h1.8M205.2 418.5h1.8M221.4 418.5h1.8M228.6 418.5h1.8M212.4 420.3h1.8M216.0 420.3h1.8M225.0 420.3h1.8M210.6 422.1h1.8M221.4 422.1h1.8M201.6 423.9h1.8M277.2 423.9h1.8M279.0 427.5h1.8M286.2 427.5h1.8M271.8 432.9h1.8M268.2 434.7h1.8M288.0 434.7h1.8M279.0 449.1h1.8M345.6 472.5h3.6M338.4 477.9h1.8M342.0 481.5h1.8M338.4 488.7h1.8M320.4 490.5h1.8M327.6 499.5h1.8M329.4 503.1h1.8M320.4 522.9h1.8M136.8 323.1h3.6M176.4 348.3h1.8M156.6 373.5h3.6M153.0 378.9h1.8M250.2 402.3h1.8M12.6 297.9h1.8M12.6 299.7h1.8M16.2 299.7h1.8M18.0 308.7h1.8M19.8 312.3h1.8M19.8 315.9h1.8M21.6 351.9h1.8M25.2 353.7h1.8M25.2 355.5h1.8" stroke="#aeaeae" stroke-width="1.85" fill="none"/><path d="M84.6 339.3h3.6M81.0 342.9h1.8M82.8 350.1h1.8M93.6 357.3h1.8M91.8 360.9h1.8M120.6 362.7h1.8M99.0 364.5h1.8M126.0 366.3h1.8M81.0 368.1h1.8M79.2 369.9h3.6M100.8 369.9h1.8M129.6 369.9h1.8M100.8 371.7h1.8M127.8 371.7h3.6M138.6 375.3h1.8M138.6 378.9h1.8M109.8 380.7h1.8M117.0 382.5h1.8M120.6 382.5h1.8M127.8 382.5h3.6M133.2 382.5h1.8M235.8 395.1h1.8M230.4 396.9h1.8M219.6 402.3h1.8M232.2 404.1h1.8M203.4 405.9h1.8M208.8 407.7h1.8M199.8 409.5h1.8M232.2 411.3h1.8M199.8 413.1h1.8M201.6 416.7h1.8M201.6 418.5h3.6M225.0 418.5h1.8M214.2 420.3h1.8M219.6 420.3h1.8M207.0 423.9h1.8M210.6 423.9h1.8M207.0 425.7h1.8M210.6 427.5h1.8M203.4 429.3h1.8M264.6 414.9h1.8M266.4 416.7h1.8M268.2 418.5h1.8M282.6 423.9h1.8M271.8 425.7h1.8M284.4 425.7h1.8M282.6 432.9h1.8M288.0 432.9h1.8M284.4 436.5h1.8M282.6 438.3h1.8M262.8 443.7h1.8M271.8 445.5h1.8M275.4 447.3h1.8M342.0 474.3h1.8M329.4 479.7h1.8M322.2 490.5h1.8M324.0 497.7h5.4M331.2 501.3h1.8M333.0 503.1h1.8M333.0 504.9h1.8M327.6 513.9h1.8M320.4 515.7h1.8M302.4 517.5h1.8M300.6 519.3h1.8M306.0 519.3h1.8M131.4 319.5h1.8M131.4 321.3h1.8M176.4 351.9h1.8M162.0 371.7h1.8M153.0 375.3h1.8M153.0 377.1h1.8M151.2 378.9h1.8M252.0 402.3h1.8M16.2 305.1h1.8M16.2 308.7h1.8M19.8 308.7h1.8M16.2 315.9h3.6M16.2 319.5h1.8M19.8 321.3h1.8M21.6 353.7h3.6M21.6 355.5h1.8M25.2 357.3h1.8" stroke="#a7a7a7" stroke-width="1.85" fill="none"/><path d="M82.8 341.1h1.8M93.6 359.1h3.6M115.2 362.7h3.6M122.4 364.5h1.8M102.6 366.3h1.8M108.0 366.3h1.8M118.8 366.3h1.8M100.8 368.1h1.8M102.6 369.9h1.8M108.0 375.3h1.8M131.4 375.3h1.8M108.0 377.1h1.8M124.2 378.9h1.8M133.2 378.9h1.8M118.8 382.5h1.8M122.4 382.5h1.8M131.4 382.5h1.8M217.8 404.1h1.8M223.2 404.1h1.8M228.6 405.9h1.8M212.4 409.5h1.8M214.2 411.3h1.8M230.4 411.3h1.8M203.4 413.1h1.8M212.4 414.9h1.8M228.6 414.9h1.8M205.2 416.7h1.8M210.6 416.7h5.4M212.4 418.5h1.8M217.8 418.5h1.8M207.0 420.3h1.8M208.8 423.9h1.8M268.2 416.7h1.8M270.0 429.3h1.8M288.0 429.3h1.8M273.6 438.3h1.8M273.6 447.3h1.8M347.4 474.3h1.8M324.0 483.3h1.8M327.6 483.3h1.8M338.4 485.1h1.8M329.4 490.5h1.8M334.8 492.3h1.8M320.4 503.1h1.8M329.4 508.5h1.8M325.8 512.1h1.8M19.8 310.5h1.8M16.2 317.7h3.6" stroke="#88e888" stroke-width="1.85" fill="none"/><path d="M84.6 341.1h1.8M82.8 342.9h1.8M84.6 350.1h1.8M82.8 351.9h1.8M88.2 359.1h1.8M93.6 360.9h1.8M97.2 366.3h1.8M102.6 368.1h1.8M122.4 368.1h1.8M77.4 369.9h1.8M106.2 369.9h1.8M75.6 371.7h1.8M135.0 373.5h1.8M102.6 375.3h1.8M111.6 377.1h1.8M111.6 378.9h1.8M118.8 380.7h1.8M117.0 384.3h1.8M219.6 404.1h1.8M226.8 404.1h1.8M230.4 404.1h1.8M205.2 405.9h1.8M208.8 405.9h1.8M214.2 405.9h1.8M217.8 405.9h1.8M207.0 407.7h1.8M210.6 407.7h1.8M199.8 411.3h1.8M228.6 411.3h1.8M217.8 416.7h1.8M225.0 416.7h1.8M214.2 418.5h1.8M210.6 420.3h1.8M205.2 423.9h1.8M277.2 422.1h3.6M279.0 432.9h1.8M336.6 474.3h3.6M340.2 477.9h1.8M320.4 488.7h1.8M333.0 488.7h1.8M325.8 504.9h1.8M320.4 508.5h1.8M316.8 512.1h1.8M320.4 519.3h1.8M304.2 517.5h1.8M133.2 319.5h1.8M133.2 321.3h5.4M252.0 405.9h1.8M14.4 306.9h1.8M21.6 308.7h1.8M19.8 314.1h1.8M18.0 321.3h1.8" stroke="#989898" stroke-width="1.85" fill="none"/><path d="M84.6 344.7h1.8M90.0 357.3h1.8M90.0 359.1h1.8M120.6 360.9h1.8M88.2 362.7h1.8M95.4 364.5h1.8M106.2 364.5h1.8M84.6 368.1h1.8M82.8 369.9h1.8M99.0 371.7h1.8M102.6 371.7h1.8M79.2 373.5h1.8M102.6 377.1h1.8M109.8 378.9h1.8M111.6 380.7h1.8M109.8 382.5h1.8M113.4 382.5h1.8M115.2 384.3h1.8M122.4 384.3h1.8M118.8 386.1h3.6M234.0 393.3h1.8M232.2 398.7h1.8M228.6 400.5h3.6M234.0 400.5h1.8M230.4 402.3h1.8M212.4 404.1h1.8M212.4 405.9h1.8M234.0 405.9h1.8M199.8 407.7h3.6M232.2 409.5h1.8M199.8 414.9h1.8M203.4 420.3h1.8M217.8 420.3h1.8M216.0 422.1h1.8M208.8 425.7h3.6M271.8 420.3h1.8M266.4 422.1h1.8M288.0 427.5h1.8M279.0 429.3h1.8M282.6 429.3h1.8M273.6 432.9h1.8M277.2 434.7h1.8M270.0 436.5h1.8M271.8 441.9h1.8M336.6 477.9h1.8M325.8 481.5h1.8M338.4 481.5h1.8M325.8 483.3h1.8M322.2 485.1h1.8M325.8 486.9h1.8M329.4 486.9h3.6M324.0 488.7h1.8M334.8 490.5h1.8M327.6 492.3h1.8M331.2 492.3h3.6M320.4 504.9h1.8M324.0 506.7h1.8M333.0 506.7h1.8M315.0 513.9h1.8M315.0 517.5h1.8M313.2 519.3h5.4M304.2 515.7h1.8M129.6 317.7h1.8M174.6 348.3h1.8M250.2 400.5h1.8M14.4 299.7h1.8M12.6 303.3h3.6M16.2 306.9h3.6M21.6 306.9h1.8M18.0 312.3h1.8M21.6 312.3h1.8M19.8 317.7h1.8M16.2 321.3h1.8M25.2 359.1h1.8M324.0 542.7h1.8M327.6 542.7h1.8" stroke="#b6b6b6" stroke-width="1.85" fill="none"/><path d="M82.8 346.5h1.8M84.6 351.9h1.8M108.0 362.7h1.8M100.8 364.5h1.8M126.0 368.1h1.8M77.4 371.7h3.6M102.6 373.5h1.8M104.4 375.3h1.8M115.2 375.3h1.8M108.0 378.9h1.8M140.4 378.9h1.8M115.2 380.7h1.8M115.2 382.5h1.8M232.2 400.5h1.8M205.2 404.1h1.8M203.4 407.7h1.8M228.6 407.7h1.8M205.2 409.5h5.4M201.6 414.9h3.6M223.2 414.9h1.8M203.4 416.7h1.8M228.6 416.7h1.8M199.8 418.5h1.8M223.2 418.5h1.8M228.6 420.3h1.8M223.2 422.1h1.8M205.2 427.5h1.8M205.2 429.3h1.8M279.0 423.9h1.8M270.0 431.1h1.8M284.4 432.9h1.8M266.4 438.3h1.8M273.6 440.1h1.8M275.4 445.5h1.8M340.2 467.1h1.8M334.8 477.9h1.8M340.2 479.7h1.8M343.8 479.7h1.8M331.2 483.3h1.8M333.0 485.1h1.8M333.0 501.3h1.8M325.8 508.5h1.8M322.2 521.1h1.8M131.4 323.1h3.6M154.8 375.3h1.8M151.2 377.1h1.8M14.4 305.1h1.8M19.8 306.9h1.8M18.0 310.5h1.8M18.0 319.5h3.6M23.4 351.9h1.8M325.8 539.1h1.8" stroke="#9f9f9f" stroke-width="1.85" fill="none"/><path d="M82.8 348.3h1.8M82.8 355.5h5.4M93.6 362.7h1.8M95.4 366.3h1.8M124.2 366.3h1.8M97.2 368.1h1.8M136.8 380.7h1.8M235.8 391.5h1.8M235.8 398.7h1.8M223.2 400.5h1.8M230.4 405.9h1.8M199.8 416.7h1.8M226.8 418.5h1.8M230.4 418.5h1.8M223.2 420.3h1.8M203.4 427.5h1.8M261.0 416.7h1.8M270.0 427.5h1.8M286.2 434.7h1.8M275.4 438.3h1.8M275.4 441.9h1.8M275.4 449.1h1.8M342.0 468.9h1.8M322.2 483.3h1.8M329.4 488.7h1.8M327.6 495.9h1.8M329.4 501.3h1.8M316.8 503.1h1.8M322.2 510.3h1.8M322.2 513.9h1.8M315.0 522.9h1.8M307.8 515.7h1.8M302.4 519.3h1.8M129.6 319.5h1.8M135.0 319.5h1.8M129.6 321.3h1.8M135.0 323.1h1.8M138.6 324.9h1.8M172.8 346.5h1.8M176.4 350.1h1.8M156.6 371.7h1.8M248.4 402.3h1.8M255.6 402.3h1.8M253.8 404.1h1.8M18.0 305.1h1.8M16.2 314.1h1.8M19.8 323.1h1.8" stroke="#c4c4c4" stroke-width="1.85" fill="none"/><path d="M84.6 348.3h1.8M100.8 362.7h1.8M208.8 404.1h1.8M262.8 416.7h1.8M275.4 425.7h1.8M277.2 432.9h1.8M280.8 434.7h1.8M264.6 440.1h1.8M279.0 443.7h1.8M340.2 472.5h1.8M343.8 474.3h1.8M324.0 490.5h1.8M329.4 492.3h1.8M324.0 495.9h1.8M320.4 506.7h1.8M331.2 506.7h1.8M318.6 510.3h1.8M322.2 512.1h1.8M327.6 512.1h1.8M151.2 380.7h1.8M10.8 299.7h1.8M16.2 310.5h1.8" stroke="#d3d3d3" stroke-width="1.85" fill="none"/><path d="M88.2 353.7h1.8M127.8 368.1h1.8M104.4 377.1h1.8M225.0 400.5h1.8M201.6 405.9h1.8M232.2 407.7h1.8M207.0 427.5h1.8M266.4 414.9h3.6M270.0 416.7h1.8M270.0 418.5h1.8M270.0 425.7h1.8M268.2 431.1h1.8M289.8 431.1h1.8M270.0 432.9h1.8M277.2 438.3h1.8M271.8 443.7h1.8M338.4 470.7h1.8M343.8 470.7h1.8M334.8 476.1h1.8M338.4 479.7h1.8M333.0 483.3h1.8M320.4 486.9h1.8M327.6 486.9h1.8M333.0 486.9h1.8M338.4 486.9h1.8M324.0 510.3h1.8M318.6 512.1h1.8M154.8 377.1h3.6M25.2 308.7h1.8M21.6 321.3h1.8M21.6 350.1h1.8" stroke="#cccccc" stroke-width="1.85" fill="none"/><path d="M91.8 353.7h1.8M95.4 355.5h1.8M84.6 357.3h1.8M88.2 357.3h1.8M115.2 360.9h1.8M97.2 362.7h1.8M104.4 364.5h1.8M109.8 364.5h1.8M82.8 368.1h1.8M133.2 371.7h1.8M140.4 375.3h1.8M140.4 377.1h1.8M106.2 380.7h1.8M111.6 382.5h1.8M126.0 384.3h1.8M131.4 384.3h1.8M237.6 395.1h1.8M232.2 396.9h1.8M210.6 405.9h1.8M230.4 416.7h1.8M205.2 422.1h1.8M212.4 422.1h1.8M226.8 422.1h1.8M203.4 425.7h1.8M270.0 420.3h1.8M277.2 425.7h1.8M280.8 425.7h1.8M275.4 431.1h1.8M286.2 432.9h1.8M282.6 434.7h3.6M266.4 436.5h1.8M271.8 440.1h1.8M277.2 443.7h1.8M280.8 443.7h1.8M279.0 447.3h1.8M343.8 468.9h1.8M340.2 470.7h3.6M338.4 476.1h1.8M327.6 481.5h1.8M333.0 481.5h1.8M329.4 485.1h1.8M327.6 490.5h1.8M322.2 497.7h1.8M322.2 503.1h1.8M322.2 508.5h1.8M309.6 515.7h1.8M302.4 521.1h1.8M133.2 317.7h1.8M154.8 373.5h1.8M151.2 375.3h1.8M21.6 310.5h1.8M18.0 314.1h1.8M21.6 315.9h1.8M19.8 351.9h1.8" stroke="#bdbdbd" stroke-width="1.85" fill="none"/><path d="M86.4 357.3h1.8M97.2 360.9h1.8M108.0 364.5h1.8M113.4 364.5h1.8M124.2 364.5h1.8M113.4 366.3h1.8M127.8 366.3h1.8M108.0 369.9h1.8M126.0 369.9h1.8M106.2 371.7h1.8M106.2 373.5h1.8M106.2 375.3h1.8M109.8 375.3h1.8M127.8 375.3h1.8M133.2 375.3h1.8M106.2 377.1h1.8M138.6 377.1h1.8M120.6 380.7h1.8M235.8 393.3h1.8M221.4 402.3h1.8M232.2 402.3h1.8M205.2 407.7h1.8M226.8 407.7h1.8M201.6 409.5h1.8M210.6 409.5h1.8M230.4 409.5h1.8M203.4 411.3h1.8M210.6 413.1h1.8M207.0 416.7h1.8M221.4 416.7h3.6M226.8 416.7h1.8M207.0 418.5h1.8M210.6 418.5h1.8M205.2 420.3h1.8M208.8 420.3h1.8M203.4 423.9h1.8M266.4 420.3h1.8M277.2 427.5h1.8M275.4 429.3h3.6M280.8 431.1h1.8M286.2 431.1h1.8M286.2 436.5h1.8M275.4 440.1h1.8M329.4 481.5h1.8M329.4 483.3h1.8M324.0 515.7h1.8M318.6 521.1h1.8" stroke="#80dc80" stroke-width="1.85" fill="none"/><path d="M91.8 357.3h1.8M95.4 360.9h1.8M115.2 366.3h1.8M106.2 368.1h1.8M124.2 368.1h1.8M104.4 369.9h1.8M133.2 373.5h1.8M111.6 375.3h3.6M109.8 377.1h1.8M131.4 377.1h1.8M135.0 377.1h1.8M113.4 378.9h1.8M131.4 378.9h1.8M113.4 380.7h1.8M129.6 380.7h1.8M124.2 382.5h1.8M217.8 402.3h1.8M216.0 405.9h1.8M226.8 405.9h1.8M228.6 409.5h1.8M208.8 411.3h5.4M226.8 411.3h1.8M205.2 414.9h1.8M208.8 414.9h1.8M214.2 414.9h1.8M226.8 414.9h1.8M208.8 416.7h1.8M219.6 416.7h1.8M216.0 418.5h1.8M207.0 422.1h1.8M262.8 418.5h1.8M280.8 432.9h1.8M275.4 443.7h1.8M324.0 486.9h1.8M331.2 490.5h1.8M329.4 495.9h1.8M325.8 513.9h1.8" stroke="#78d078" stroke-width="1.85" fill="none"/><path d="M117.0 364.5h1.8M109.8 366.3h1.8M117.0 366.3h1.8M120.6 366.3h1.8M117.0 369.9h1.8M108.0 373.5h1.8M118.8 373.5h1.8M129.6 373.5h3.6M115.2 377.1h1.8M120.6 377.1h1.8M117.0 380.7h1.8M135.0 380.7h1.8M126.0 382.5h1.8M223.2 402.3h1.8M223.2 405.9h1.8M214.2 407.7h1.8M219.6 407.7h3.6M203.4 409.5h1.8M216.0 409.5h1.8M216.0 411.3h1.8M212.4 413.1h1.8M219.6 413.1h1.8M216.0 414.9h1.8M221.4 414.9h1.8M216.0 416.7h1.8M219.6 418.5h1.8" stroke="#b4ccff" stroke-width="1.85" fill="none"/><path d="M118.8 364.5h1.8M100.8 366.3h1.8M104.4 368.1h1.8M104.4 371.7h1.8M111.6 371.7h1.8M126.0 371.7h1.8M127.8 373.5h1.8M126.0 375.3h1.8M124.2 377.1h1.8M117.0 378.9h3.6M131.4 380.7h1.8M214.2 404.1h1.8M225.0 404.1h1.8M226.8 409.5h1.8M207.0 411.3h1.8M223.2 413.1h3.6M207.0 414.9h1.8M217.8 414.9h1.8M205.2 425.7h1.8M282.6 436.5h1.8M279.0 445.5h1.8M277.2 447.3h1.8M331.2 481.5h1.8M334.8 485.1h1.8M322.2 501.3h1.8M318.6 513.9h1.8M322.2 515.7h1.8M324.0 519.3h1.8" stroke="#70c870" stroke-width="1.85" fill="none"/><path d="M120.6 364.5h1.8M115.2 368.1h1.8M129.6 375.3h1.8M135.0 375.3h1.8M122.4 378.9h1.8M126.0 378.9h1.8M124.2 380.7h1.8M226.8 402.3h1.8M225.0 405.9h1.8M214.2 409.5h1.8M223.2 409.5h1.8M221.4 413.1h1.8" stroke="#80bcff" stroke-width="1.85" fill="none"/><path d="M106.2 366.3h1.8M117.0 368.1h1.8M124.2 369.9h1.8M127.8 377.1h1.8M136.8 377.1h1.8M115.2 378.9h1.8M136.8 378.9h1.8M133.2 380.7h1.8M216.0 407.7h3.6M217.8 409.5h1.8M207.0 413.1h1.8M228.6 413.1h1.8M210.6 414.9h1.8M208.8 418.5h1.8M280.8 423.9h1.8M334.8 479.7h1.8M336.6 486.9h1.8M307.8 517.5h1.8" stroke="#d0d4ff" stroke-width="1.85" fill="none"/><path d="M111.6 366.3h1.8M122.4 369.9h1.8M113.4 371.7h1.8M111.6 373.5h1.8M115.2 373.5h3.6M113.4 377.1h1.8M117.0 377.1h1.8M219.6 409.5h1.8M217.8 411.3h3.6M216.0 413.1h1.8" stroke="#4870ff" stroke-width="1.85" fill="none"/><path d="M122.4 366.3h1.8M113.4 368.1h1.8M115.2 369.9h1.8M127.8 369.9h1.8M124.2 371.7h1.8M109.8 373.5h1.8M124.2 373.5h1.8M122.4 377.1h1.8M133.2 377.1h1.8M129.6 378.9h1.8M219.6 405.9h1.8M225.0 409.5h1.8M225.0 411.3h1.8M205.2 413.1h1.8M208.8 413.1h1.8M214.2 413.1h1.8M226.8 413.1h1.8M230.4 413.1h1.8M225.0 414.9h1.8M208.8 422.1h1.8M273.6 445.5h1.8M322.2 517.5h1.8" stroke="#6abf6a" stroke-width="1.85" fill="none"/><path d="M129.6 366.3h1.8M99.0 373.5h1.8M142.2 375.3h1.8M271.8 416.7h1.8M271.8 423.9h1.8M262.8 441.9h1.8M280.8 441.9h1.8M336.6 481.5h1.8M334.8 504.9h1.8M253.8 402.3h1.8M325.8 544.5h1.8" stroke="#dadada" stroke-width="1.85" fill="none"/><path d="M108.0 368.1h1.8M118.8 368.1h3.6M120.6 375.3h1.8M126.0 380.7h3.6M225.0 402.3h1.8M221.4 405.9h1.8M212.4 407.7h1.8M223.2 407.7h1.8M205.2 411.3h1.8M284.4 427.5h1.8" stroke="#9cc4ff" stroke-width="1.85" fill="none"/><path d="M109.8 368.1h1.8M113.4 369.9h1.8M108.0 371.7h3.6M122.4 371.7h1.8M113.4 373.5h1.8M122.4 373.5h1.8M118.8 375.3h1.8M118.8 377.1h1.8M129.6 377.1h1.8M122.4 380.7h1.8" stroke="#6cb8ff" stroke-width="1.85" fill="none"/><path d="M109.8 369.9h1.8M118.8 369.9h3.6M117.0 371.7h3.6M120.6 373.5h1.8M126.0 377.1h1.8M120.6 378.9h1.8M127.8 378.9h1.8M135.0 378.9h1.8M225.0 407.7h1.8M221.4 411.3h3.6" stroke="#4c8cff" stroke-width="1.85" fill="none"/><path d="M111.6 369.9h1.8M115.2 371.7h1.8M120.6 371.7h1.8M126.0 373.5h1.8M117.0 375.3h1.8M122.4 375.3h3.6M221.4 404.1h1.8M221.4 409.5h1.8M217.8 413.1h1.8M219.6 414.9h1.8" stroke="#54acff" stroke-width="1.85" fill="none"/><path d="M115.2 386.1h1.8M282.6 431.1h1.8M277.2 436.5h1.8M261.0 443.7h1.8M334.8 486.9h1.8M324.0 494.1h1.8M318.6 501.3h1.8M324.0 504.9h1.8M320.4 521.1h1.8M307.8 513.9h1.8" stroke="#e2e2e2" stroke-width="1.85" fill="none"/><path d="M271.8 418.5h3.6M273.6 420.3h1.8M273.6 423.9h1.8M271.8 434.7h1.8M340.2 474.3h1.8M342.0 479.7h1.8M340.2 481.5h1.8M318.6 522.9h1.8M324.0 546.3h1.8" stroke="#e9e9e9" stroke-width="1.85" fill="none"/><path d="M189.5 457.0h1.4M185.0 446.4h1.4M254.4 433.0h1.4M167.5 398.8h1.4M224.7 432.0h1.4M235.6 391.4h1.4M177.5 441.1h1.4M228.7 420.8h1.4M230.8 407.5h1.4M198.4 397.6h1.4M233.3 412.6h1.4M236.5 403.1h1.4M259.4 422.2h1.4" stroke="#bbb" stroke-width="1.45" fill="none"/><path d="M177.8 444.9h1.4M223.4 411.2h1.4M223.1 440.7h1.4M240.6 410.2h1.4M251.2 391.9h1.4M283.5 447.5h1.4M265.1 448.5h1.4M215.0 410.2h1.4M211.5 393.3h1.4" stroke="#88e888" stroke-width="1.45" fill="none"/><path d="M187.2 431.3h1.4M194.7 412.6h1.4M219.3 426.7h1.4M197.1 408.5h1.4M229.1 405.1h1.4M241.1 404.7h1.4M175.1 443.7h1.4M204.4 393.6h1.4" stroke="#ddd" stroke-width="1.45" fill="none"/><path d="M286.3 489.7h1.4M310.0 522.7h1.4M329.0 526.8h1.4M324.6 467.9h1.4M290.1 508.3h1.4M320.8 501.3h1.4M296.6 461.2h1.4M265.9 459.7h1.4" stroke="#ddd" stroke-width="1.45" fill="none"/><path d="M273.8 498.1h1.4M255.7 477.1h1.4M279.7 486.8h1.4M329.5 473.9h1.4M329.2 467.4h1.4M282.0 492.0h1.4M310.1 468.5h1.4M313.7 508.5h1.4M335.1 477.0h1.4M313.6 533.6h1.4M285.1 492.4h1.4M277.9 511.5h1.4M270.7 481.5h1.4M266.3 470.3h1.4M300.7 456.1h1.4M314.7 482.5h1.4M267.7 466.9h1.4" stroke="#bbb" stroke-width="1.45" fill="none"/><path d="M310.3 497.0h1.4M339.1 460.9h1.4M260.5 475.9h1.4M327.9 460.1h1.4M283.4 474.8h1.4M310.4 526.1h1.4M317.2 536.9h1.4M325.9 473.9h1.4M285.7 507.0h1.4" stroke="#88e888" stroke-width="1.45" fill="none"/><path d="M319.0 537.5h1.4M300.6 468.9h1.4M326.7 465.2h1.4M296.0 467.9h1.4M269.4 456.4h1.4M298.8 529.7h1.4" stroke="#ccc" stroke-width="1.45" fill="none"/><path d="M155.2 381.0h1.4M77.5 366.4h1.4M118.7 342.3h1.4M83.2 364.3h1.4M103.5 355.4h1.4M159.3 386.6h1.4M136.0 345.2h1.4" stroke="#ddd" stroke-width="1.45" fill="none"/><path d="M169.3 363.4h1.4M139.5 367.8h1.4M161.3 350.8h1.4M113.4 335.8h1.4M144.1 379.4h1.4M174.2 366.5h1.4M171.9 386.4h1.4M96.5 366.5h1.4M120.0 372.1h1.4" stroke="#ccc" stroke-width="1.45" fill="none"/><path d="M21.1 338.1h1.4M24.7 334.5h1.4M21.7 348.4h1.4M28.6 348.5h1.4M28.0 331.7h1.4M28.1 331.5h1.4M24.4 326.1h1.4M19.5 298.0h1.4M14.4 308.3h1.4M17.4 356.2h1.4M17.0 319.3h1.4M13.6 297.6h1.4" stroke="#ddd" stroke-width="1.45" fill="none"/><path d="M18.9 320.4h1.4M21.2 337.2h1.4M13.0 336.0h1.4M21.7 301.8h1.4M20.2 304.6h1.4M26.9 321.6h1.4M19.6 315.8h1.4M13.5 348.6h1.4" stroke="#88e888" stroke-width="1.45" fill="none"/><path d="M19.3 317.7h1.4M14.0 348.4h1.4M19.9 349.9h1.4M22.7 345.0h1.4" stroke="#ccc" stroke-width="1.45" fill="none"/><use href="#grid"/><use href="#coast"/><use href="#swath"/><use href="#labels"/><use href="#cross"/><text class="tt" x="36.9" y="66.6">2A23 storm height (km)</text><text class="lt" x="439.5" y="523">(i)</text><rect x="495.2" y="531.37" width="8.8" height="8.77" fill="#f8f8f8"/><rect x="495.2" y="522.90" width="8.8" height="8.77" fill="#f1f1f1"/><rect x="495.2" y="514.44" width="8.8" height="8.77" fill="#e9e9e9"/><rect x="495.2" y="505.97" width="8.8" height="8.77" fill="#e2e2e2"/><rect x="495.2" y="497.51" width="8.8" height="8.77" fill="#dadada"/><rect x="495.2" y="489.04" width="8.8" height="8.77" fill="#d3d3d3"/><rect x="495.2" y="480.58" width="8.8" height="8.77" fill="#cccccc"/><rect x="495.2" y="472.11" width="8.8" height="8.77" fill="#c4c4c4"/><rect x="495.2" y="463.65" width="8.8" height="8.77" fill="#bdbdbd"/><rect x="495.2" y="455.18" width="8.8" height="8.77" fill="#b6b6b6"/><rect x="495.2" y="446.72" width="8.8" height="8.77" fill="#aeaeae"/><rect x="495.2" y="438.25" width="8.8" height="8.77" fill="#a7a7a7"/><rect x="495.2" y="429.79" width="8.8" height="8.77" fill="#9f9f9f"/><rect x="495.2" y="421.32" width="8.8" height="8.77" fill="#989898"/><rect x="495.2" y="412.86" width="8.8" height="8.77" fill="#88e888"/><rect x="495.2" y="404.39" width="8.8" height="8.77" fill="#80dc80"/><rect x="495.2" y="395.93" width="8.8" height="8.77" fill="#78d078"/><rect x="495.2" y="387.46" width="8.8" height="8.77" fill="#70c870"/><rect x="495.2" y="379.00" width="8.8" height="8.77" fill="#6abf6a"/><rect x="495.2" y="370.53" width="8.8" height="8.77" fill="#d0d4ff"/><rect x="495.2" y="362.07" width="8.8" height="8.77" fill="#b4ccff"/><rect x="495.2" y="353.60" width="8.8" height="8.77" fill="#9cc4ff"/><rect x="495.2" y="345.14" width="8.8" height="8.77" fill="#80bcff"/><rect x="495.2" y="336.67" width="8.8" height="8.77" fill="#6cb8ff"/><rect x="495.2" y="328.21" width="8.8" height="8.77" fill="#54acff"/><rect x="495.2" y="319.74" width="8.8" height="8.77" fill="#4c8cff"/><rect x="495.2" y="311.28" width="8.8" height="8.77" fill="#4870ff"/><rect x="495.2" y="302.81" width="8.8" height="8.77" fill="#4050ff"/><rect x="495.2" y="294.35" width="8.8" height="8.77" fill="#3030ff"/><rect x="495.2" y="285.88" width="8.8" height="8.77" fill="#0000ff"/><rect x="495.2" y="277.42" width="8.8" height="8.77" fill="#0000f0"/><rect x="495.2" y="268.95" width="8.8" height="8.77" fill="#0000e0"/><rect x="495.2" y="260.49" width="8.8" height="8.77" fill="#0000d2"/><rect x="495.2" y="252.02" width="8.8" height="8.77" fill="#0000c8"/><rect x="495.2" y="243.56" width="8.8" height="8.77" fill="#ffff00"/><rect x="495.2" y="235.09" width="8.8" height="8.77" fill="#fff000"/><rect x="495.2" y="226.63" width="8.8" height="8.77" fill="#ffe000"/><rect x="495.2" y="218.16" width="8.8" height="8.77" fill="#ffd400"/><rect x="495.2" y="209.70" width="8.8" height="8.77" fill="#ffc800"/><rect x="495.2" y="201.23" width="8.8" height="8.77" fill="#ff9800"/><rect x="495.2" y="192.77" width="8.8" height="8.77" fill="#ff8e00"/><rect x="495.2" y="184.30" width="8.8" height="8.77" fill="#ff8500"/><rect x="495.2" y="175.84" width="8.8" height="8.77" fill="#ff7d00"/><rect x="495.2" y="167.37" width="8.8" height="8.77" fill="#ff7300"/><rect x="495.2" y="158.91" width="8.8" height="8.77" fill="#ff4500"/><rect x="495.2" y="150.44" width="8.8" height="8.77" fill="#ff3a00"/><rect x="495.2" y="141.98" width="8.8" height="8.77" fill="#ff2e00"/><rect x="495.2" y="133.51" width="8.8" height="8.77" fill="#ff2200"/><rect x="495.2" y="125.05" width="8.8" height="8.77" fill="#ff1a00"/><rect x="495.2" y="116.58" width="8.8" height="8.77" fill="#c40000"/><rect x="495.2" y="108.12" width="8.8" height="8.77" fill="#c00000"/><rect x="495.2" y="99.65" width="8.8" height="8.77" fill="#b40500"/><rect x="495.2" y="91.19" width="8.8" height="8.77" fill="#a90d00"/><rect x="495.2" y="82.72" width="8.8" height="8.77" fill="#a31200"/><rect x="495.2" y="74.26" width="8.8" height="8.77" fill="#5e0f07"/><rect x="495.2" y="65.79" width="8.8" height="8.77" fill="#5e130c"/><rect x="495.2" y="57.33" width="8.8" height="8.77" fill="#5c1510"/><rect x="495.2" y="48.86" width="8.8" height="8.77" fill="#5a1713"/><rect x="495.2" y="40.40" width="8.8" height="8.77" fill="#5a1a17"/><path d="M504.0 548.30h2.4" stroke="#000" stroke-width="1"/><text class="tk" text-anchor="middle" x="532.7" y="556.70">0.0</text><path d="M504.0 497.51h2.4" stroke="#000" stroke-width="1"/><text class="tk" text-anchor="middle" x="532.7" y="505.91">2.0</text><path d="M504.0 446.72h2.4" stroke="#000" stroke-width="1"/><text class="tk" text-anchor="middle" x="532.7" y="455.12">4.0</text><path d="M504.0 395.93h2.4" stroke="#000" stroke-width="1"/><text class="tk" text-anchor="middle" x="532.7" y="404.33">6.0</text><path d="M504.0 345.14h2.4" stroke="#000" stroke-width="1"/><text class="tk" text-anchor="middle" x="532.7" y="353.54">8.0</text><path d="M504.0 294.35h2.4" stroke="#000" stroke-width="1"/><text class="tk" text-anchor="middle" x="532.7" y="302.75">10.0</text><path d="M504.0 243.56h2.4" stroke="#000" stroke-width="1"/><text class="tk" text-anchor="middle" x="532.7" y="251.96">12.0</text><path d="M504.0 192.77h2.4" stroke="#000" stroke-width="1"/><text class="tk" text-anchor="middle" x="532.7" y="201.17">14.0</text><path d="M504.0 141.98h2.4" stroke="#000" stroke-width="1"/><text class="tk" text-anchor="middle" x="532.7" y="150.38">16.0</text><path d="M504.0 91.19h2.4" stroke="#000" stroke-width="1"/><text class="tk" text-anchor="middle" x="532.7" y="99.59">18.0</text></g>
<text class="hd" x="137" y="34.7" textLength="220" lengthAdjust="spacing">49339 2006-7-13 12:46:11 UTC</text><text class="hd" x="753.6" y="34.7" textLength="173.4" lengthAdjust="spacing">EPA 200603 CARLOTTA</text></svg></body></html>
